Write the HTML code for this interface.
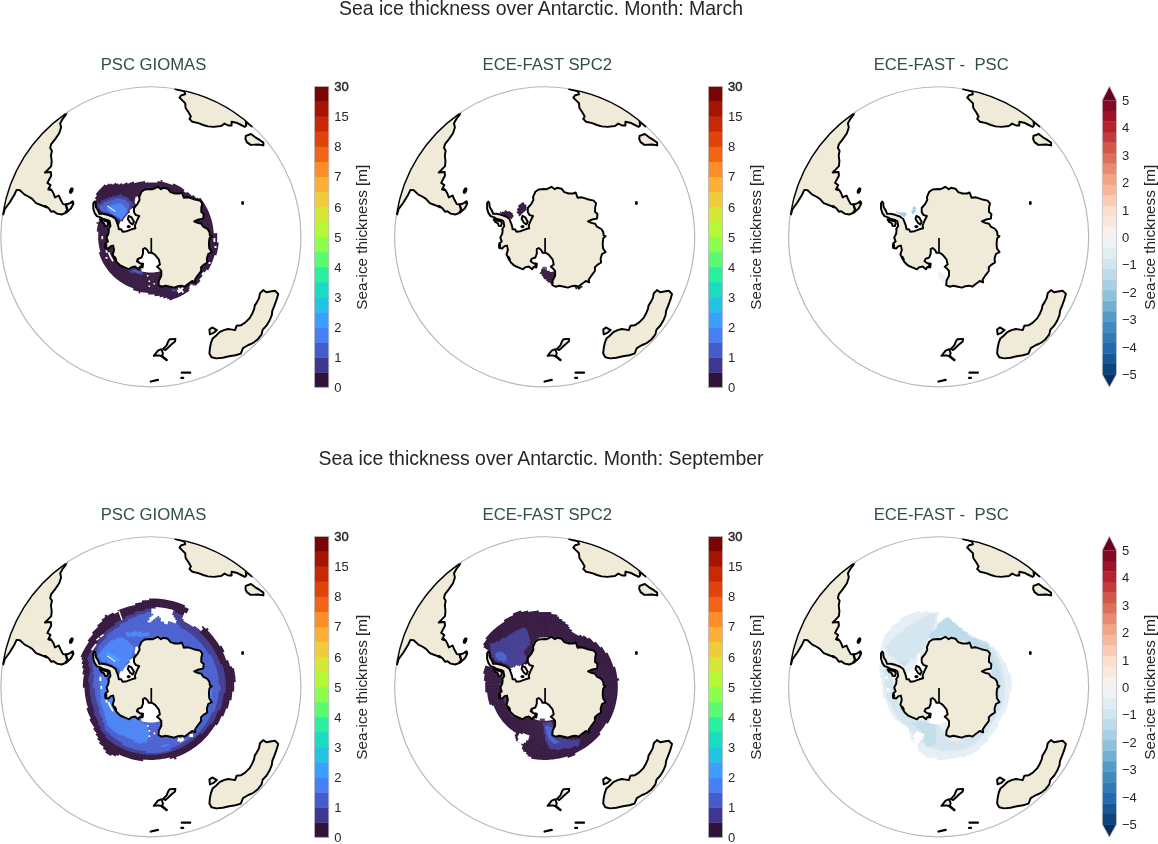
<!DOCTYPE html>
<html><head><meta charset="utf-8"><title>Sea ice thickness</title><style>html,body{margin:0;padding:0;background:#fff}svg{display:block;will-change:transform;transform:translateZ(0)}</style></head><body>
<svg width="1158" height="844" viewBox="0 0 1158 844">
<defs><g id="land" fill="#f0ead8" stroke="#000" stroke-width="1.95" stroke-linejoin="round" stroke-linecap="round"><polygon points="65.9,114.7 62.6,119.0 60.2,123.3 61.1,127.5 59.2,133.2 55.0,139.4 51.2,144.1 50.2,147.9 51.9,150.8 51.0,155.5 51.7,161.2 51.2,166.2 47.9,169.7 45.0,172.5 50.9,172.0 51.2,175.8 49.3,179.2 47.4,182.9 50.5,185.0 48.3,189.4 51.7,190.3 53.6,193.6 55.0,197.4 58.8,195.5 60.7,199.8 63.0,204.1 66.4,204.5 70.1,203.1 72.5,201.2 73.5,203.6 71.1,208.3 66.4,212.6 61.6,214.5 56.9,213.6 53.6,211.2 51.2,211.7 48.3,207.9 44.5,206.4 40.8,205.0 36.0,203.1 32.2,198.9 28.4,196.5 24.6,194.6 19.9,190.3 16.6,189.9 14.2,195.1 9.5,202.7 4.7,209.3 3.3,214.5 -3.0,214.0 -3.0,170.0 10.0,140.0 30.0,118.0 55.0,100.0 68.0,108.0" />
<polygon points="175.2,89.0 184.2,91.4 185.2,94.2 181.4,95.2 179.5,97.5 182.3,100.4 185.2,103.2 185.6,108.0 188.5,112.2 190.9,116.5 189.4,118.9 192.3,121.7 198.4,123.1 203.2,125.0 207.9,126.4 213.6,126.9 221.2,126.0 224.5,123.6 228.3,125.5 231.6,125.5 231.6,121.7 236.4,122.7 240.1,124.5 244.9,126.9 246.3,125.5 245.8,121.7 252.0,126.4 258.0,122.0 240.0,98.0 215.0,82.0 190.0,76.0 172.0,80.0" />
<polygon points="245.8,135.9 251.0,134.0 255.3,137.3 260.0,140.2 263.4,142.6 263.4,145.4 258.2,144.5 250.6,144.9 246.8,142.1 245.4,138.8" />
<polygon points="263.2,290.1 266.4,292.3 271.8,291.2 275.0,290.7 278.2,293.9 276.6,299.7 274.4,305.6 272.3,310.9 271.8,315.2 269.6,320.5 266.4,325.8 262.7,329.6 261.6,334.4 257.9,339.2 253.1,342.9 251.0,344.0 248.3,345.0 243.0,348.2 240.8,353.6 235.5,355.2 229.1,356.2 222.7,357.8 216.3,358.4 211.5,357.3 209.4,353.6 209.9,348.2 211.0,342.9 212.6,338.6 216.3,335.4 219.5,332.2 223.8,330.1 228.0,329.0 232.3,329.6 235.0,330.1 236.6,325.8 240.8,325.3 245.1,322.6 249.4,318.4 252.0,314.1 254.2,308.8 254.7,305.6 256.8,302.4 259.0,298.1 260.0,293.3" />
<polygon points="209.4,329.6 212.1,327.4 216.9,330.1 213.7,332.8 209.9,334.4" />
<polygon points="169.6,339.2 175.4,338.9 175.0,341.6 170.8,345.0 167.7,348.1 165.4,350.0 163.1,348.9 166.6,345.4 168.1,341.6" />
<polygon points="153.8,355.8 157.9,350.6 161.4,349.2 162.9,353.0 162.2,356.2 158.5,355.4" />
<polygon points="94.5,201.6 95.6,203.0 95.6,205.0 96.1,207.5 97.9,210.1 99.4,213.9 102.8,213.7 107.5,214.8 112.2,216.5 115.6,219.0 117.3,223.3 118.3,226.4 118.8,229.3 121.2,229.3 122.6,231.7 126.8,231.2 131.6,229.3 135.4,228.3 134.9,225.5 136.8,220.8 139.2,216.0 135.9,215.1 134.0,212.2 134.0,208.0 137.3,204.2 139.6,199.9 139.2,197.1 141.5,191.8 144.9,189.5 150.5,189.0 153.0,189.2 157.7,186.8 161.0,189.2 163.4,187.8 167.7,188.7 170.5,192.1 174.8,193.5 179.5,193.5 181.9,192.5 183.8,197.7 188.1,197.3 193.7,199.2 199.9,200.6 202.3,203.4 201.3,207.7 201.3,212.0 203.7,213.9 203.2,218.6 198.5,219.5 194.2,221.4 197.5,222.9 201.3,223.8 203.2,226.7 207.5,229.0 209.4,231.9 209.9,235.7 211.8,236.1 209.4,238.5 208.9,243.2 209.2,248.3 211.8,252.1 208.2,254.0 206.8,258.7 207.3,262.5 203.5,264.9 201.1,267.2 201.1,271.0 197.8,275.3 195.0,279.5 195.4,282.4 192.1,281.0 188.3,283.8 184.5,286.7 181.7,285.7 177.9,286.2 174.1,287.6 170.3,286.7 165.6,285.7 161.8,286.7 158.5,285.2 158.9,280.5 161.3,275.8 161.3,271.0 158.9,268.2 157.0,266.8 159.9,264.4 158.9,259.6 155.1,254.9 152.3,253.0 151.3,252.7 148.7,252.7 147.3,249.9 144.9,248.0 143.0,249.0 143.0,253.7 141.6,257.5 137.8,258.9 136.8,261.3 139.7,263.2 143.0,263.6 142.5,267.4 139.7,267.0 138.3,269.3 135.0,266.5 131.2,267.4 129.3,269.3 124.5,267.4 120.3,265.5 116.9,262.2 114.6,258.4 112.7,254.6 114.1,249.9 113.2,245.6 110.8,246.1 108.4,248.5 105.6,248.0 105.6,243.3 107.9,241.4 106.5,237.6 108.4,233.8 108.9,230.0 108.4,229.3 110.5,225.9 109.6,221.2 107.1,219.9 102.4,218.6 100.3,217.3 96.8,216.1 94.7,213.1 93.3,208.8 93.3,203.3" />
<polygon points="128.7,216.0 131.6,217.4 134.0,221.7 132.5,224.5 130.2,222.7 127.8,218.9" />
<polygon points="99.8,219.3 101.1,221.6 104.1,223.3 104.9,225.9 107.1,226.1 108.1,223.7 107.1,221.2 104.5,220.8 102.0,219.9" />
<polyline points="65.8,204.4 66.6,207.5 67.6,210.3" fill="none" stroke-width="2.3"/>
<polyline points="151.3,238.0 151.3,252.7" fill="none" stroke-width="1.7" stroke-linecap="butt"/>
<polyline points="181.8,372.7 190.2,372.7" fill="none" stroke-width="2.3" stroke-linecap="round"/>
<polyline points="181.4,377.9 183.2,377.9" fill="none" stroke-width="2.3" stroke-linecap="round"/>
<polyline points="150.8,381.5 157.9,379.9" fill="none" stroke-width="2.3" stroke-linecap="round"/>
<ellipse cx="242.6" cy="203.1" rx="1.5" ry="2" fill="#000" stroke="none"/>
<ellipse cx="128.7" cy="226.6" rx="2.0" ry="1.7" transform="rotate(0 128.7 226.6)" fill="#000" stroke="none"/>
<ellipse cx="105.8" cy="245.8" rx="1.6" ry="2.7" transform="rotate(0 105.8 245.8)" fill="#000" stroke="none"/>
<ellipse cx="115.4" cy="258.2" rx="1.2" ry="2.6" transform="rotate(-28 115.4 258.2)" fill="#000" stroke="none"/>
<ellipse cx="141.9" cy="265.4" rx="1.5" ry="2.7" transform="rotate(0 141.9 265.4)" fill="#000" stroke="none"/>
<ellipse cx="50.0" cy="189.3" rx="1.6" ry="1.3" transform="rotate(0 50.0 189.3)" fill="#000" stroke="none"/>
<ellipse cx="45.7" cy="206.6" rx="2.2" ry="1.5" transform="rotate(20 45.7 206.6)" fill="#000" stroke="none"/>
<ellipse cx="72.6" cy="202.6" rx="1.4" ry="1.7" transform="rotate(20 72.6 202.6)" fill="#000" stroke="none"/>
<ellipse cx="71.3" cy="190.6" rx="2.0" ry="3.4" transform="rotate(22 71.3 190.6)" fill="#000" stroke="none"/>
<ellipse cx="66.3" cy="211.6" rx="1.8" ry="1.2" transform="rotate(-35 66.3 211.6)" fill="#000" stroke="none"/>
<polyline points="162.0,356.3 166.6,359.9" fill="none" stroke-width="2.6"/></g><g id="mesh" fill="none" stroke="#fff" stroke-width="0.45" stroke-opacity="0.13"><circle cx="150.9" cy="236.8" r="32.30"/><circle cx="150.9" cy="236.8" r="34.00"/><circle cx="150.9" cy="236.8" r="35.70"/><circle cx="150.9" cy="236.8" r="37.40"/><circle cx="150.9" cy="236.8" r="39.10"/><circle cx="150.9" cy="236.8" r="40.80"/><circle cx="150.9" cy="236.8" r="42.50"/><circle cx="150.9" cy="236.8" r="44.20"/><circle cx="150.9" cy="236.8" r="45.90"/><circle cx="150.9" cy="236.8" r="47.60"/><circle cx="150.9" cy="236.8" r="49.30"/><circle cx="150.9" cy="236.8" r="51.00"/><circle cx="150.9" cy="236.8" r="52.70"/><circle cx="150.9" cy="236.8" r="54.40"/><circle cx="150.9" cy="236.8" r="56.10"/><circle cx="150.9" cy="236.8" r="57.80"/><circle cx="150.9" cy="236.8" r="59.50"/><circle cx="150.9" cy="236.8" r="61.20"/><circle cx="150.9" cy="236.8" r="62.90"/><circle cx="150.9" cy="236.8" r="64.60"/><circle cx="150.9" cy="236.8" r="66.30"/><circle cx="150.9" cy="236.8" r="68.00"/><circle cx="150.9" cy="236.8" r="69.70"/><circle cx="150.9" cy="236.8" r="71.40"/><circle cx="150.9" cy="236.8" r="73.10"/><circle cx="150.9" cy="236.8" r="74.80"/><circle cx="150.9" cy="236.8" r="76.50"/><circle cx="150.9" cy="236.8" r="78.20"/><circle cx="150.9" cy="236.8" r="79.90"/><circle cx="150.9" cy="236.8" r="81.60"/><circle cx="150.9" cy="236.8" r="83.30"/><circle cx="150.9" cy="236.8" r="85.00"/><circle cx="150.9" cy="236.8" r="86.70"/><circle cx="150.9" cy="236.8" r="88.40"/><circle cx="150.9" cy="236.8" r="90.10"/><circle cx="150.9" cy="236.8" r="91.80"/><circle cx="150.9" cy="236.8" r="93.50"/><circle cx="150.9" cy="236.8" r="95.20"/><circle cx="150.9" cy="236.8" r="96.90"/><circle cx="150.9" cy="236.8" r="98.60"/><path d="M182.9,236.8L250.9,236.8M182.9,237.7L250.9,239.6M182.9,238.6L250.7,242.4M182.8,239.5L250.5,245.2M182.7,240.4L250.3,247.9M182.6,241.3L249.9,250.7M182.5,242.1L249.5,253.5M182.3,243.0L249.0,256.2M182.1,243.9L248.4,259.0M181.9,244.8L247.8,261.7M181.7,245.6L247.0,264.4M181.4,246.5L246.2,267.0M181.1,247.3L245.3,269.7M180.8,248.2L244.4,272.3M180.5,249.0L243.4,274.9M180.1,249.8L242.3,277.5M179.8,250.6L241.1,280.0M179.4,251.4L239.8,282.5M178.9,252.2L238.5,285.0M178.5,253.0L237.2,287.4M178.0,253.8L235.7,289.8M177.6,254.5L234.2,292.1M177.0,255.2L232.6,294.4M176.5,256.0L231.0,296.7M176.0,256.7L229.3,298.9M175.4,257.4L227.5,301.1M174.8,258.0L225.7,303.2M174.2,258.7L223.8,305.3M173.6,259.3L221.9,307.3M173.0,260.0L219.9,309.2M172.3,260.6L217.8,311.1M171.6,261.2L215.7,313.0M171.0,261.7L213.6,314.7M170.2,262.3L211.4,316.5M169.5,262.8L209.1,318.1M168.8,263.3L206.8,319.7M168.0,263.8L204.5,321.2M167.3,264.3L202.1,322.7M166.5,264.7L199.7,324.1M165.7,265.2L197.2,325.4M164.9,265.6L194.7,326.7M164.1,265.9L192.2,327.9M163.3,266.3L189.7,329.0M162.5,266.6L187.1,330.0M161.6,266.9L184.4,331.0M160.8,267.2L181.8,331.9M159.9,267.5L179.1,332.7M159.1,267.7L176.4,333.5M158.2,268.0L173.7,334.2M157.3,268.1L171.0,334.8M156.5,268.3L168.3,335.3M155.6,268.5L165.5,335.7M154.7,268.6L162.7,336.1M153.8,268.7L160.0,336.4M152.9,268.7L157.2,336.6M152.0,268.8L154.4,336.7M151.1,268.8L151.6,336.8M150.2,268.8L148.8,336.8M149.3,268.8L146.0,336.7M148.4,268.7L143.2,336.5M147.6,268.6L140.4,336.3M146.7,268.5L137.7,335.9M145.8,268.4L134.9,335.5M144.9,268.2L132.2,335.0M144.0,268.1L129.4,334.5M143.2,267.8L126.7,333.8M142.3,267.6L124.0,333.1M141.4,267.4L121.3,332.3M140.6,267.1L118.7,331.5M139.7,266.8L116.0,330.5M138.9,266.5L113.4,329.5M138.1,266.1L110.9,328.4M137.3,265.8L108.3,327.3M136.5,265.4L105.8,326.1M135.7,264.9L103.3,324.8M134.9,264.5L100.9,323.4M134.1,264.1L98.5,322.0M133.4,263.6L96.1,320.5M132.6,263.1L93.8,318.9M131.9,262.6L91.6,317.3M131.2,262.0L89.3,315.6M130.5,261.5L87.2,313.9M129.8,260.9L85.0,312.0M129.2,260.3L83.0,310.2M128.5,259.7L80.9,308.2M127.9,259.0L79.0,306.3M127.3,258.4L77.1,304.2M126.7,257.7L75.2,302.1M126.1,257.0L73.4,300.0M125.5,256.3L71.7,297.8M125.0,255.6L70.0,295.6M124.5,254.9L68.4,293.3M124.0,254.1L66.8,291.0M123.5,253.4L65.4,288.6M123.1,252.6L64.0,286.2M122.6,251.8L62.6,283.7M122.2,251.0L61.3,281.3M121.9,250.2L60.1,278.7M121.5,249.4L59.0,276.2M121.1,248.6L57.9,273.6M120.8,247.7L56.9,271.0M120.5,246.9L56.0,268.4M120.3,246.0L55.2,265.7M120.0,245.2L54.4,263.0M119.8,244.3L53.7,260.3M119.6,243.5L53.1,257.6M119.4,242.6L52.5,254.9M119.3,241.7L52.1,252.1M119.2,240.8L51.7,249.3M119.1,239.9L51.4,246.6M119.0,239.0L51.1,243.8M118.9,238.1L51.0,241.0M118.9,237.2L50.9,238.2M118.9,236.4L50.9,235.4M118.9,235.5L51.0,232.6M119.0,234.6L51.1,229.8M119.1,233.7L51.4,227.0M119.2,232.8L51.7,224.3M119.3,231.9L52.1,221.5M119.4,231.0L52.5,218.7M119.6,230.1L53.1,216.0M119.8,229.3L53.7,213.3M120.0,228.4L54.4,210.6M120.3,227.6L55.2,207.9M120.5,226.7L56.0,205.2M120.8,225.9L56.9,202.6M121.1,225.0L57.9,200.0M121.5,224.2L59.0,197.4M121.9,223.4L60.1,194.9M122.2,222.6L61.3,192.3M122.6,221.8L62.6,189.9M123.1,221.0L64.0,187.4M123.5,220.2L65.4,185.0M124.0,219.5L66.8,182.6M124.5,218.7L68.4,180.3M125.0,218.0L70.0,178.0M125.5,217.3L71.7,175.8M126.1,216.6L73.4,173.6M126.7,215.9L75.2,171.5M127.3,215.2L77.1,169.4M127.9,214.6L79.0,167.3M128.5,213.9L80.9,165.4M129.2,213.3L83.0,163.4M129.8,212.7L85.0,161.6M130.5,212.1L87.2,159.7M131.2,211.6L89.3,158.0M131.9,211.0L91.6,156.3M132.6,210.5L93.8,154.7M133.4,210.0L96.1,153.1M134.1,209.5L98.5,151.6M134.9,209.1L100.9,150.2M135.7,208.7L103.3,148.8M136.5,208.2L105.8,147.5M137.3,207.8L108.3,146.3M138.1,207.5L110.9,145.2M138.9,207.1L113.4,144.1M139.7,206.8L116.0,143.1M140.6,206.5L118.7,142.1M141.4,206.2L121.3,141.3M142.3,206.0L124.0,140.5M143.2,205.8L126.7,139.8M144.0,205.5L129.4,139.1M144.9,205.4L132.2,138.6M145.8,205.2L134.9,138.1M146.7,205.1L137.7,137.7M147.6,205.0L140.4,137.3M148.4,204.9L143.2,137.1M149.3,204.8L146.0,136.9M150.2,204.8L148.8,136.8M151.1,204.8L151.6,136.8M152.0,204.8L154.4,136.9M152.9,204.9L157.2,137.0M153.8,204.9L160.0,137.2M154.7,205.0L162.7,137.5M155.6,205.1L165.5,137.9M156.5,205.3L168.3,138.3M157.3,205.5L171.0,138.8M158.2,205.6L173.7,139.4M159.1,205.9L176.4,140.1M159.9,206.1L179.1,140.9M160.8,206.4L181.8,141.7M161.6,206.7L184.4,142.6M162.5,207.0L187.1,143.6M163.3,207.3L189.7,144.6M164.1,207.7L192.2,145.7M164.9,208.0L194.7,146.9M165.7,208.4L197.2,148.2M166.5,208.9L199.7,149.5M167.3,209.3L202.1,150.9M168.0,209.8L204.5,152.4M168.8,210.3L206.8,153.9M169.5,210.8L209.1,155.5M170.2,211.3L211.4,157.1M171.0,211.9L213.6,158.9M171.6,212.4L215.7,160.6M172.3,213.0L217.8,162.5M173.0,213.6L219.9,164.4M173.6,214.3L221.9,166.3M174.2,214.9L223.8,168.3M174.8,215.6L225.7,170.4M175.4,216.2L227.5,172.5M176.0,216.9L229.3,174.7M176.5,217.6L231.0,176.9M177.0,218.4L232.6,179.2M177.6,219.1L234.2,181.5M178.0,219.8L235.7,183.8M178.5,220.6L237.2,186.2M178.9,221.4L238.5,188.6M179.4,222.2L239.8,191.1M179.8,223.0L241.1,193.6M180.1,223.8L242.3,196.1M180.5,224.6L243.4,198.7M180.8,225.4L244.4,201.3M181.1,226.3L245.3,203.9M181.4,227.1L246.2,206.6M181.7,228.0L247.0,209.2M181.9,228.8L247.8,211.9M182.1,229.7L248.4,214.6M182.3,230.6L249.0,217.4M182.5,231.5L249.5,220.1M182.6,232.3L249.9,222.9M182.7,233.2L250.3,225.7M182.8,234.1L250.5,228.4M182.9,235.0L250.7,231.2M182.9,235.9L250.9,234.0"/></g><clipPath id="cc"><circle cx="150.9" cy="236.8" r="150.05"/></clipPath></defs>
<rect width="1158" height="844" fill="#fff"/>
<text x="541" y="14.6" text-anchor="middle" font-family="Liberation Sans, sans-serif" font-size="19.44" fill="#262626">Sea ice thickness over Antarctic. Month: March</text>
<g transform="translate(0,0)">
<text x="153.5" y="69.8" text-anchor="middle" font-family="Liberation Sans, sans-serif" font-size="16.7" fill="#2f4f4f" xml:space="preserve">PSC GIOMAS</text>
<g clip-path="url(#cc)">
<path d="M99.4,189.8 99.4,189.8 98.1,191.2 98.1,191.2 98.1,191.2 98.1,191.3 98.1,191.3 96.9,192.7 96.9,192.7 96.9,192.7 96.9,192.7 96.9,192.7 95.7,194.3 97.0,195.3 97.0,195.3 97.0,195.3 95.9,196.8 95.9,196.8 95.9,196.8 95.9,196.8 95.9,196.8 94.8,198.4 96.2,199.3 96.2,199.3 95.2,200.9 95.2,200.9 95.2,200.9 95.1,200.9 95.1,200.9 94.2,202.5 95.6,203.3 95.6,203.3 94.7,204.9 94.7,204.9 94.7,204.9 94.7,204.9 94.7,204.9 93.8,206.5 95.3,207.3 95.3,207.3 94.5,208.8 96.1,209.6 95.3,211.1 96.9,211.8 96.2,213.4 97.8,214.0 99.3,214.7 99.3,214.7 98.7,216.2 100.3,216.8 99.8,218.2 101.4,218.8 100.9,220.1 100.9,220.1 100.9,220.2 100.9,220.2 100.9,220.2 100.4,221.6 98.8,221.1 98.4,222.5 96.7,222.1 96.4,223.6 98.0,224.0 97.7,225.5 97.7,225.5 97.7,225.5 97.7,225.5 97.7,225.5 97.4,227.0 97.4,227.0 97.4,227.0 97.4,227.0 97.4,227.0 97.1,228.5 97.1,228.5 97.1,228.5 97.1,228.5 97.1,228.5 96.9,230.0 96.9,230.0 96.9,230.0 96.9,230.0 96.9,230.0 96.7,231.5 98.4,231.7 98.4,231.7 98.3,233.1 98.3,233.1 98.3,233.1 98.3,233.1 98.3,233.1 98.2,234.6 98.2,234.6 98.2,234.6 98.2,234.6 98.2,234.6 98.2,236.1 98.2,236.1 98.2,236.1 98.2,236.1 98.2,236.1 98.2,237.5 98.2,237.5 98.2,237.5 98.2,237.5 98.2,237.5 98.2,239.0 98.2,239.0 98.2,239.0 98.2,239.0 98.2,239.0 98.3,240.5 98.3,240.5 98.3,240.5 98.3,240.5 98.3,240.5 98.4,241.9 98.4,241.9 98.4,241.9 98.4,242.0 98.4,242.0 98.6,243.4 98.6,243.4 98.6,243.4 98.6,243.4 98.6,243.4 98.8,244.9 98.8,244.9 98.8,244.9 98.8,244.9 98.8,244.9 99.0,246.3 99.0,246.3 99.0,246.3 99.0,246.3 99.0,246.3 99.3,247.8 99.3,247.8 99.3,247.8 99.3,247.8 99.3,247.8 99.7,249.2 99.7,249.2 99.7,249.2 99.7,249.2 99.7,249.2 100.0,250.6 100.0,250.6 100.0,250.6 100.0,250.6 100.0,250.6 100.4,252.0 100.4,252.0 98.8,252.5 99.3,254.0 99.3,254.0 99.3,254.0 99.3,254.0 99.3,254.0 99.8,255.4 99.8,255.4 99.8,255.4 99.8,255.4 99.8,255.4 100.3,256.8 100.3,256.8 100.3,256.8 100.3,256.8 100.3,256.8 100.9,258.2 100.9,258.2 100.9,258.2 100.9,258.2 100.9,258.2 101.5,259.6 101.5,259.6 101.5,259.6 101.5,259.6 101.5,259.6 102.2,261.0 102.2,261.0 102.2,261.0 102.2,261.0 102.2,261.0 102.8,262.3 102.8,262.3 102.9,262.3 102.9,262.4 102.9,262.4 103.6,263.7 103.6,263.7 103.6,263.7 103.6,263.7 103.6,263.7 104.3,265.0 104.3,265.0 104.4,265.0 104.4,265.0 104.4,265.0 105.2,266.3 105.2,266.3 105.2,266.3 105.2,266.3 105.2,266.3 106.0,267.5 106.0,267.5 106.0,267.5 106.0,267.6 106.0,267.6 106.9,268.8 106.9,268.8 106.9,268.8 106.9,268.8 106.9,268.8 107.8,270.0 107.8,270.0 107.8,270.0 107.8,270.0 107.8,270.0 108.7,271.2 108.7,271.2 108.7,271.2 108.7,271.2 108.7,271.2 109.7,272.4 109.7,272.4 109.7,272.4 109.7,272.4 109.7,272.4 110.7,273.5 110.7,273.5 110.7,273.5 110.7,273.5 110.7,273.5 111.7,274.6 111.7,274.6 111.8,274.6 111.8,274.6 111.8,274.6 112.8,275.7 112.8,275.7 112.8,275.7 112.8,275.7 112.8,275.7 113.9,276.7 113.9,276.7 113.9,276.7 113.9,276.7 113.9,276.7 115.0,277.7 115.0,277.7 115.1,277.7 115.1,277.8 115.1,277.8 116.2,278.7 116.2,278.7 116.2,278.7 116.2,278.7 116.2,278.7 117.4,279.7 117.4,279.7 117.4,279.7 117.4,279.7 117.4,279.7 118.6,280.6 118.6,280.6 118.6,280.6 118.6,280.6 118.6,280.6 119.8,281.5 119.8,281.5 119.8,281.5 119.9,281.5 119.9,281.5 121.1,282.3 121.1,282.3 121.1,282.3 121.1,282.3 121.1,282.3 122.4,283.1 122.4,283.1 122.4,283.2 122.4,283.2 122.4,283.2 123.7,283.9 123.7,283.9 123.7,283.9 123.7,283.9 123.7,283.9 125.0,284.7 125.0,284.7 125.0,284.7 125.0,284.7 125.0,284.7 126.4,285.4 126.4,285.4 126.4,285.4 126.4,285.4 126.4,285.4 127.7,286.0 127.7,286.0 127.7,286.0 127.7,286.0 127.7,286.0 129.1,286.7 129.1,286.7 129.1,286.7 129.1,286.7 129.1,286.7 130.5,287.3 130.5,287.3 130.5,287.3 130.5,287.3 130.5,287.3 131.9,287.8 131.9,287.8 131.9,287.8 131.9,287.8 131.9,287.8 133.4,288.3 133.4,288.3 132.8,289.9 134.3,290.4 134.3,290.4 134.3,290.4 134.3,290.4 134.3,290.4 135.8,290.8 135.8,290.8 135.8,290.9 135.8,290.9 135.8,290.9 137.3,291.2 137.3,291.3 137.3,291.3 137.3,291.3 137.3,291.3 138.8,291.6 138.8,291.6 138.5,293.3 140.1,293.6 140.4,291.9 140.4,291.9 140.4,291.9 141.9,292.2 141.9,292.2 141.9,292.2 141.9,292.2 141.9,292.2 143.5,292.4 143.5,292.4 143.5,292.4 143.5,292.4 143.5,292.4 145.0,292.6 145.0,292.6 145.0,292.6 145.0,292.6 145.0,292.6 146.6,292.8 146.6,292.8 146.6,292.8 146.6,292.8 146.6,292.8 148.1,292.9 148.1,292.9 148.1,292.9 148.1,294.6 149.7,294.6 149.7,294.6 149.7,294.6 149.7,294.6 149.7,294.6 151.3,294.6 151.3,294.6 151.3,294.6 151.3,294.6 151.3,294.6 152.9,294.6 152.9,294.6 152.9,294.6 152.9,294.6 152.9,294.6 154.5,294.5 154.5,294.5 154.5,294.5 154.6,296.2 156.3,296.1 156.3,296.1 156.3,296.1 156.3,296.1 156.3,296.1 157.9,295.9 157.9,295.9 157.9,295.9 158.0,295.9 158.0,295.9 159.6,295.7 159.6,295.7 159.8,297.4 161.5,297.1 161.5,297.1 161.5,297.1 161.5,297.1 161.5,297.1 163.2,296.8 163.2,296.8 163.5,298.4 165.3,298.1 165.3,298.1 165.3,298.1 165.3,298.1 165.3,298.1 167.0,297.6 167.4,299.3 169.1,298.8 169.6,300.4 171.4,299.9 171.4,299.9 171.4,299.9 171.4,299.9 171.4,299.9 173.1,299.3 173.1,299.3 173.1,299.3 173.2,299.3 173.2,299.3 174.9,298.6 174.9,298.6 174.9,298.6 174.9,298.6 174.9,298.6 176.6,297.9 176.6,297.9 176.6,297.9 176.6,297.9 176.6,297.9 178.3,297.2 178.3,297.2 178.3,297.2 178.3,297.2 178.3,297.2 180.0,296.4 180.0,296.4 180.0,296.4 180.0,296.4 180.0,296.4 181.6,295.6 181.6,295.6 181.6,295.6 181.6,295.6 181.6,295.6 183.2,294.7 183.2,294.7 183.3,294.7 183.3,294.7 183.3,294.7 184.8,293.8 184.8,293.8 184.9,293.8 184.9,293.8 184.9,293.8 186.4,292.8 186.4,292.8 186.4,292.8 186.4,292.8 186.4,292.8 188.0,291.8 188.0,291.8 188.0,291.8 188.0,291.8 188.0,291.8 189.5,290.7 188.5,289.3 188.5,289.3 188.5,289.3 190.0,288.3 189.0,286.9 189.0,286.9 190.3,285.8 190.3,285.8 190.3,285.8 190.3,285.8 190.3,285.8 191.7,284.7 191.7,284.7 191.7,284.7 192.8,286.0 194.1,284.8 194.1,284.8 195.3,286.1 196.6,284.8 196.6,284.8 196.6,284.8 196.6,284.8 196.6,284.8 197.9,283.5 197.9,283.5 198.0,283.5 198.0,283.5 198.0,283.5 199.2,282.2 199.2,282.2 199.2,282.2 199.3,282.2 199.3,282.2 200.5,280.8 199.2,279.7 200.4,278.3 200.4,278.3 200.4,278.3 200.4,278.3 200.4,278.3 201.5,276.9 201.5,276.9 201.5,276.9 201.6,276.9 201.6,276.9 202.7,275.5 201.3,274.5 202.3,273.1 202.3,273.1 202.3,273.1 202.3,273.1 202.3,273.1 203.3,271.6 204.7,272.6 205.7,271.1 205.7,271.1 205.7,271.0 205.7,271.0 205.7,271.0 206.6,269.5 206.6,269.5 208.1,270.4 209.0,268.8 209.0,268.8 209.0,268.7 209.0,268.7 209.0,268.7 209.9,267.1 209.9,267.1 209.9,267.1 209.9,267.1 209.9,267.1 210.7,265.5 210.7,265.5 210.7,265.5 210.7,265.4 210.7,265.4 211.5,263.8 211.5,263.8 211.5,263.8 211.5,263.8 211.5,263.8 212.2,262.1 212.2,262.1 212.2,262.1 212.2,262.1 212.2,262.1 212.9,260.4 212.9,260.4 212.9,260.4 212.9,260.3 212.9,260.3 213.5,258.6 213.5,258.6 213.5,258.6 213.5,258.6 213.5,258.6 214.1,256.9 214.1,256.9 214.1,256.9 214.1,256.8 214.1,256.8 214.6,255.1 216.3,255.6 216.8,253.7 216.8,253.7 216.8,253.7 216.8,253.7 216.8,253.7 217.2,251.9 217.2,251.9 217.2,251.9 217.2,251.9 217.2,251.9 217.6,250.0 217.6,250.0 217.6,250.0 217.6,250.0 217.6,250.0 218.0,248.2 218.0,248.2 218.0,248.1 218.0,248.1 218.0,248.1 218.3,246.3 218.3,246.3 218.3,246.3 218.3,246.3 218.3,246.3 218.5,244.4 218.5,244.4 218.5,244.4 218.5,244.4 218.5,244.4 218.7,242.5 217.0,242.3 217.1,240.5 217.1,240.5 217.1,240.5 217.1,240.5 217.1,240.5 217.2,238.7 217.2,238.7 217.2,238.7 217.2,238.6 217.2,238.6 217.2,236.8 217.2,236.8 217.2,236.8 217.2,236.8 217.2,236.8 217.2,235.0 217.2,235.0 217.2,234.9 217.2,234.9 217.2,234.9 217.1,233.1 215.4,233.2 213.7,233.3 213.6,231.5 213.6,231.5 213.6,231.5 213.6,231.5 213.6,231.5 213.4,229.8 213.4,229.8 213.4,229.8 213.4,229.8 213.4,229.8 213.2,228.1 213.2,228.1 213.2,228.0 213.2,228.0 213.2,228.0 212.9,226.3 212.9,226.3 212.9,226.3 212.9,226.3 212.9,226.3 212.6,224.6 212.6,224.6 212.6,224.6 212.6,224.6 212.6,224.6 212.3,222.9 212.3,222.9 212.3,222.9 212.3,222.8 212.3,222.8 211.8,221.2 211.8,221.2 211.8,221.2 211.8,221.1 211.8,221.1 211.4,219.5 211.4,219.5 211.4,219.5 211.4,219.4 211.4,219.4 210.9,217.8 210.9,217.8 210.9,217.8 210.9,217.8 210.9,217.8 210.3,216.1 210.3,216.1 210.3,216.1 210.3,216.1 210.3,216.1 209.7,214.5 209.7,214.5 209.7,214.5 209.7,214.4 209.7,214.4 209.1,212.8 209.1,212.8 209.1,212.8 209.1,212.8 209.1,212.8 208.4,211.2 208.4,211.2 208.4,211.2 208.4,211.2 208.4,211.2 207.6,209.6 207.6,209.6 207.6,209.6 207.6,209.6 207.6,209.6 206.9,208.1 206.9,208.1 206.9,208.0 206.9,208.0 206.9,208.0 206.0,206.5 206.0,206.5 206.0,206.5 206.0,206.5 206.0,206.5 205.2,205.0 205.2,205.0 205.2,205.0 205.2,204.9 205.2,204.9 204.3,203.5 204.3,203.5 204.3,203.5 204.3,203.4 204.3,203.4 203.3,202.0 203.3,202.0 203.3,202.0 203.3,202.0 203.3,202.0 202.3,200.5 202.3,200.5 202.3,200.5 202.3,200.5 202.3,200.5 201.3,199.1 201.3,199.1 201.3,199.1 201.3,199.1 201.3,199.1 200.2,197.7 198.9,198.8 198.9,198.8 197.8,197.4 196.5,198.5 195.4,197.3 195.4,197.3 195.4,197.3 195.4,197.3 195.4,197.3 194.3,196.1 194.3,196.1 194.3,196.1 194.3,196.0 194.3,196.0 193.1,194.9 191.9,196.0 191.9,196.0 191.9,196.1 190.8,194.9 190.8,194.9 190.8,194.9 190.8,194.9 190.8,194.9 189.6,193.8 189.6,193.8 189.6,193.8 189.6,193.8 189.6,193.8 188.4,192.8 188.4,192.8 188.4,192.8 188.4,192.8 188.4,192.8 187.1,191.7 186.1,193.1 186.1,193.1 184.8,192.1 184.8,192.1 184.8,192.1 184.8,192.1 184.8,192.1 183.6,191.2 183.6,191.2 184.6,189.8 183.2,188.9 183.2,188.9 183.2,188.9 183.2,188.9 183.2,188.9 181.9,188.0 181.9,188.0 181.9,188.0 181.9,188.0 181.9,188.0 180.5,187.1 180.5,187.1 180.5,187.1 180.5,187.1 180.5,187.1 179.1,186.3 179.1,186.3 179.1,186.3 179.1,186.3 179.1,186.3 177.7,185.6 177.7,185.6 177.7,185.6 177.7,185.6 177.7,185.6 176.3,184.8 176.3,184.8 176.2,184.8 176.2,184.8 176.2,184.8 174.8,184.1 174.8,184.1 174.8,184.1 174.8,184.1 174.8,184.1 173.3,183.5 172.6,185.1 171.2,184.5 171.2,184.5 171.2,184.5 171.2,184.5 171.2,184.5 169.7,183.9 169.7,183.9 169.7,183.9 169.7,183.9 169.7,183.9 168.3,183.4 168.3,183.4 168.2,183.4 168.2,183.4 168.2,183.4 166.8,183.0 166.8,183.0 166.7,183.0 166.7,183.0 166.7,183.0 165.2,182.5 165.2,182.5 165.2,182.5 165.2,182.5 165.2,182.5 163.7,182.2 163.7,182.2 163.7,182.2 163.7,182.2 163.7,182.2 162.2,181.8 162.5,180.2 160.9,179.9 160.6,181.5 160.6,181.5 159.1,181.3 159.1,181.3 159.1,181.3 159.1,181.3 159.1,181.3 157.5,181.1 157.3,182.8 155.8,182.6 155.8,182.6 155.8,182.6 155.8,182.6 155.8,182.6 154.3,182.5 154.3,182.5 154.3,182.5 154.3,182.5 154.3,182.5 152.8,182.4 152.8,182.4 152.8,182.4 152.8,182.4 152.8,182.4 151.3,182.4 151.3,182.4 151.3,182.4 151.3,182.4 151.3,182.4 149.8,182.4 149.8,182.4 149.8,182.4 149.7,182.4 149.7,182.4 148.3,182.4 148.3,182.4 148.2,182.4 148.2,182.4 148.2,182.4 146.7,182.5 146.7,182.5 146.7,182.5 146.7,182.5 146.7,182.5 145.2,182.7 145.0,181.0 143.5,181.2 143.5,181.2 143.5,181.2 143.5,181.2 143.5,181.2 141.9,181.4 141.9,181.4 141.9,181.4 141.9,181.4 141.9,181.4 140.4,181.7 140.4,181.7 140.4,181.7 140.4,181.7 140.4,181.7 138.9,182.0 138.9,182.0 138.8,182.0 138.8,182.0 138.8,182.0 137.3,182.3 137.3,182.3 137.3,182.3 137.3,182.3 137.3,182.4 135.8,182.7 135.8,182.7 135.8,182.7 135.8,182.8 135.8,182.8 134.3,183.2 134.3,183.2 134.3,183.2 133.8,181.6 132.3,182.1 132.3,182.1 132.3,182.1 132.3,182.1 132.3,182.1 130.8,182.6 130.8,182.6 130.7,182.6 130.7,182.6 130.7,182.6 129.3,183.2 129.3,183.2 129.2,183.2 129.2,183.2 129.2,183.2 127.8,183.8 127.1,182.3 125.6,182.9 125.6,182.9 125.6,182.9 125.5,182.9 125.5,183.0 124.1,183.7 124.1,183.7 124.1,183.7 124.1,183.7 124.1,183.7 122.6,184.4 122.6,184.4 121.8,182.9 120.3,183.8 120.3,183.8 120.3,183.8 120.3,183.8 120.3,183.8 118.8,184.7 118.8,184.7 117.9,183.2 116.5,184.1 116.5,184.1 115.5,182.7 114.0,183.7 114.0,183.7 114.0,183.7 114.0,183.7 114.0,183.7 112.6,184.8 112.6,184.8 111.6,183.4 110.1,184.5 109.0,183.2 107.6,184.4 107.6,184.4 107.5,184.4 107.5,184.4 107.5,184.4 106.1,185.6 105.0,184.3 103.5,185.6 103.5,185.6 103.5,185.6 103.5,185.7 103.5,185.7 102.1,187.0 102.1,187.0 102.1,187.0 102.1,187.0 102.1,187.0 100.8,188.4 100.8,188.4 100.7,188.4 100.7,188.4 100.7,188.4 99.4,189.8 99.4,189.8 99.4,189.8Z" fill="#30123b" fill-rule="evenodd"/>
<path d="M104.8,199.2 104.8,199.2 104.8,199.2 104.8,199.2 103.8,200.5 103.8,200.5 102.4,199.4 101.4,200.8 101.4,200.8 101.4,200.8 101.4,200.8 101.4,200.8 100.4,202.2 100.4,202.2 100.4,202.2 100.4,202.2 100.4,202.2 99.4,203.6 99.4,203.6 98.0,202.7 97.1,204.2 97.1,204.2 97.1,204.2 97.1,204.2 97.1,204.2 96.2,205.7 97.7,206.6 97.7,206.6 96.8,208.1 98.4,208.9 99.9,209.7 101.3,210.5 101.3,210.5 100.6,211.9 102.2,212.6 103.7,213.4 104.4,212.1 105.9,212.9 107.4,213.7 108.8,214.5 110.4,215.3 111.0,214.1 112.5,215.0 113.9,215.8 114.0,215.8 115.4,216.6 116.9,217.5 116.9,217.5 116.9,217.5 116.4,218.4 117.9,219.2 119.4,220.1 120.9,220.9 121.4,220.0 121.8,219.2 123.3,220.1 123.8,219.3 124.3,218.6 124.8,217.8 125.3,217.1 125.9,216.4 126.5,215.7 127.1,215.0 127.7,214.4 128.3,213.7 129.0,213.1 127.8,211.9 128.5,211.2 129.2,210.6 130.0,210.0 130.7,209.4 131.5,208.9 132.3,208.4 131.4,206.9 132.2,206.4 133.1,205.9 133.9,205.4 134.8,204.9 134.0,203.4 133.1,203.9 133.1,203.9 132.3,202.4 131.5,200.9 130.5,201.4 129.7,200.0 128.8,198.5 127.9,197.0 126.8,197.7 126.8,197.7 126.0,196.2 124.8,196.9 124.8,196.9 123.9,195.5 122.8,196.3 122.8,196.3 121.8,194.9 120.8,193.5 119.6,194.4 119.6,194.4 119.6,194.4 119.6,194.4 119.6,194.4 118.5,195.2 118.5,195.2 118.4,195.3 118.4,195.3 118.4,195.3 117.3,196.2 116.2,194.9 115.1,195.8 115.1,195.8 115.1,195.9 115.0,195.9 115.0,195.9 113.9,196.9 112.8,195.6 111.6,196.7 111.6,196.7 111.6,196.7 111.6,196.7 111.6,196.7 110.5,197.8 110.5,197.8 110.5,197.8 109.3,196.6 108.2,197.8 108.2,197.8 108.2,197.8 108.2,197.8 108.2,197.8 107.1,199.0 107.1,199.0 105.9,197.9 104.8,199.2Z" fill="#3e3891" fill-rule="evenodd"/>
<path d="M106.4,202.5 105.1,201.5 104.1,202.8 104.1,202.8 104.1,202.8 104.1,202.8 104.1,202.8 103.2,204.1 103.2,204.1 103.2,204.1 103.2,204.1 103.2,204.1 102.3,205.5 100.9,204.5 100.0,206.0 100.0,206.0 100.0,206.0 100.0,206.0 100.0,206.0 99.1,207.4 100.6,208.3 99.8,209.7 101.3,210.5 102.8,211.3 104.4,212.1 105.9,212.9 106.6,211.6 108.0,212.5 109.5,213.3 111.0,214.1 112.5,215.0 114.0,215.8 115.4,216.6 116.9,217.5 118.4,218.3 119.8,219.2 119.8,219.2 121.4,220.0 121.8,219.2 122.3,218.4 122.9,217.6 123.4,216.8 124.0,216.1 124.6,215.3 125.2,214.6 125.8,213.9 126.5,213.2 127.1,212.5 127.8,211.9 128.5,211.2 127.4,209.9 128.2,209.3 128.9,208.7 129.7,208.1 128.7,206.7 129.6,206.1 130.4,205.5 129.5,204.1 128.6,202.7 127.6,201.2 126.6,201.9 126.6,201.9 125.7,200.5 125.7,200.5 124.7,199.1 123.7,199.8 123.7,199.8 123.7,199.8 122.6,198.5 121.6,199.3 121.6,199.3 121.6,199.3 120.5,197.9 119.5,198.8 118.4,197.5 117.3,198.4 117.3,198.4 117.3,198.4 117.3,198.4 117.3,198.4 116.2,199.4 115.1,198.1 114.0,199.1 114.0,199.1 114.0,199.1 114.0,199.1 114.0,199.1 113.0,200.2 111.8,199.0 110.7,200.1 110.7,200.1 110.7,200.1 110.7,200.1 110.7,200.1 109.7,201.2 108.4,200.1 107.4,201.3 107.4,201.3 107.4,201.3 107.4,201.3 107.4,201.3Z" fill="#455ccf" fill-rule="evenodd"/>
<path d="M110.5,205.7 110.5,205.7 110.5,205.7 110.5,205.7 109.6,206.8 109.6,206.8 109.6,206.8 108.3,205.8 107.4,207.0 107.4,207.0 107.4,207.0 107.4,207.0 107.4,207.0 106.6,208.3 108.0,209.2 108.0,209.2 108.0,209.2 107.3,210.4 108.7,211.3 110.2,212.2 111.7,213.0 113.1,213.9 113.1,213.9 114.5,214.8 116.0,215.7 117.4,216.5 118.9,217.4 120.3,218.3 120.3,218.3 119.8,219.2 121.4,220.0 121.8,219.2 122.3,218.4 122.9,217.6 123.4,216.8 124.0,216.1 124.6,215.3 125.2,214.6 125.8,213.9 126.5,213.2 127.1,212.5 125.9,211.3 126.7,210.6 127.4,209.9 126.3,208.6 125.1,207.4 124.0,206.1 122.9,204.8 122.9,204.8 121.8,203.5 120.9,204.3 119.7,203.1 118.8,204.0 118.8,204.0 118.8,204.0 117.6,202.8 116.7,203.7 116.7,203.7 116.6,203.7 116.6,203.7 116.6,203.7 115.7,204.7 115.7,204.7 114.5,203.5 113.6,204.6 113.6,204.6 113.6,204.6 113.6,204.6 113.6,204.6 112.7,205.6 111.4,204.5 110.5,205.7Z" fill="#4680f6" fill-rule="evenodd"/>
<path d="M130.4,268.1 129.6,267.5 128.6,268.9 127.7,268.3 126.8,267.6 125.8,269.0 126.7,269.7 126.7,269.7 126.7,269.7 126.7,269.7 126.7,269.7 127.6,270.3 127.6,270.3 127.6,270.3 127.6,270.3 127.6,270.3 128.5,271.0 128.5,271.0 128.5,271.0 128.6,271.0 128.6,271.0 129.5,271.6 129.5,271.6 129.5,271.6 129.5,271.6 129.5,271.6 130.5,272.1 130.5,272.1 130.5,272.2 130.5,272.2 130.5,272.2 131.5,272.7 131.5,272.7 131.5,272.7 131.5,272.7 131.5,272.7 132.5,273.2 132.5,273.2 132.5,273.2 132.5,273.2 132.5,273.2 133.5,273.7 134.3,272.2 135.2,272.6 135.2,272.6 135.2,272.6 135.2,272.7 135.2,272.7 136.2,273.1 136.2,273.1 136.2,273.1 136.3,273.1 136.3,273.1 137.3,273.5 137.3,273.5 137.3,273.5 137.3,273.5 137.3,273.5 138.3,273.8 138.3,273.8 138.3,273.8 138.3,273.8 138.3,273.8 139.3,274.2 139.3,274.2 139.3,274.2 139.3,274.2 139.3,274.2 140.4,274.5 140.4,274.5 140.4,274.5 140.4,274.5 140.4,274.5 141.4,274.8 141.4,274.8 141.4,274.8 141.4,274.8 141.4,274.8 142.5,275.0 142.9,273.3 142.9,273.3 143.2,271.6 142.3,271.4 141.3,271.2 140.3,270.9 139.4,270.6 138.5,270.2 137.5,269.9 136.6,269.5 135.7,269.1 134.8,268.6 133.9,268.2 133.1,269.7 132.2,269.2 131.3,268.6Z" fill="#3e3891" fill-rule="evenodd"/>
<polygon points="131.0,269.5 137.0,270.5 141.0,273.5 136.0,272.5" fill="#455ccf"/>
<path d="M172.6,288.5 171.2,289.1 171.8,290.7 172.4,292.3 174.0,291.7 174.0,291.7 174.0,291.7 174.0,291.7 174.0,291.7 175.5,291.0 176.2,292.6 177.7,291.8 177.0,290.3 176.2,288.7 174.8,289.4 174.1,287.9Z" fill="#3e3891" fill-rule="evenodd"/>
<use href="#mesh"/>
<path d="M182.3,289.4 182.3,289.4 183.7,288.5 182.8,287.0 181.4,287.9 179.9,288.7 179.1,287.2 177.7,288.0 178.4,289.5 177.0,290.3 177.7,291.8 177.7,291.8 178.5,293.4 180.0,292.6 180.0,292.6 180.1,292.6 180.1,292.6 180.1,292.6 181.6,291.7 181.6,291.7 181.6,291.7 182.4,293.2 184.0,292.3 183.1,290.8 182.3,289.4Z" fill="#ffffff" fill-rule="evenodd"/>
<path d="M122.8,220.8 122.8,220.8 122.8,220.8 122.8,220.8 122.8,220.8 122.4,221.6 122.4,221.6 120.9,220.8 120.4,221.7 120.4,221.7 120.4,221.7 120.4,221.7 120.4,221.7 120.0,222.5 120.0,222.5 120.0,222.5 120.0,222.5 120.0,222.5 119.6,223.4 119.6,223.4 119.6,223.4 119.6,223.4 119.6,223.4 119.3,224.3 119.3,224.3 119.3,224.3 119.3,224.3 119.3,224.3 118.9,225.2 118.9,225.2 118.9,225.2 118.9,225.2 118.9,225.2 118.6,226.1 118.6,226.1 118.6,226.1 118.6,226.1 118.6,226.1 118.3,227.0 118.3,227.0 118.3,227.0 118.3,227.0 118.3,227.0 118.1,227.9 118.1,227.9 118.1,227.9 118.1,227.9 118.1,227.9 117.8,228.8 119.5,229.2 119.5,229.2 119.3,230.1 120.9,230.4 120.8,231.3 120.8,231.3 120.8,231.3 120.8,231.3 120.8,231.3 120.6,232.1 122.3,232.4 124.0,232.6 125.7,232.9 125.8,232.2 127.5,232.5 127.6,231.9 127.8,231.2 129.4,231.6 129.6,231.0 131.2,231.5 131.4,230.9 133.0,231.4 133.2,230.9 133.3,230.4 134.9,231.0 135.1,230.5 135.3,230.1 135.5,229.7 137.0,230.4 137.2,230.0 137.4,229.6 137.6,229.3 137.8,228.9 138.1,228.5 138.3,228.2 136.9,227.2 137.2,226.8 137.4,226.4 137.7,226.1 138.0,225.7 138.4,225.4 138.7,225.0 139.0,224.7 137.8,223.5 138.2,223.1 138.6,222.7 139.0,222.4 139.4,222.1 138.4,220.7 138.8,220.4 139.3,220.1 139.7,219.7 138.8,218.3 139.3,218.0 139.9,217.7 140.4,217.4 139.6,215.9 139.6,215.8 138.8,214.3 138.0,212.9 138.0,212.9 137.2,211.4 136.4,209.9 135.5,208.4 134.7,206.9 133.9,207.3 133.9,207.3 133.9,207.3 133.9,207.3 133.9,207.3 133.1,207.8 133.1,207.8 133.1,207.8 133.1,207.8 133.1,207.8 132.3,208.3 132.3,208.3 132.3,208.3 132.3,208.3 132.3,208.3 131.5,208.9 131.5,208.9 131.5,208.9 131.5,208.9 131.5,208.9 130.7,209.4 130.7,209.4 130.7,209.4 130.7,209.4 130.7,209.4 130.0,210.0 130.0,210.0 130.0,210.0 129.9,210.0 129.9,210.0 129.2,210.6 130.3,211.9 129.6,212.5 129.6,212.5 129.6,212.5 129.6,212.5 129.6,212.5 128.9,213.1 128.9,213.1 128.9,213.1 128.9,213.1 128.9,213.1 128.3,213.7 128.3,213.7 128.3,213.7 128.3,213.7 128.3,213.7 127.7,214.3 127.7,214.3 127.7,214.3 127.6,214.4 127.6,214.4 127.0,215.0 127.0,215.0 127.0,215.0 127.0,215.0 127.0,215.0 126.4,215.7 126.4,215.7 126.4,215.7 126.4,215.7 126.4,215.7 125.9,216.4 125.9,216.4 125.9,216.4 125.8,216.4 125.8,216.4 125.3,217.1 125.3,217.1 125.3,217.1 125.3,217.1 125.3,217.1 124.8,217.8 124.8,217.8 124.8,217.8 124.7,217.8 124.7,217.8 124.2,218.5 124.2,218.5 124.2,218.5 124.2,218.5 124.2,218.5 123.7,219.3 123.7,219.3 123.7,219.3 123.7,219.3 123.7,219.3 123.3,220.1 123.3,220.1 123.3,220.1 123.3,220.1 123.3,220.1Z" fill="#ffffff" fill-rule="evenodd"/>
<path d="M140.8,250.5 139.8,251.9 140.2,252.2 140.2,252.2 139.2,253.6 138.3,255.0 138.8,255.3 137.9,256.7 138.4,257.1 138.4,257.1 138.4,257.1 138.4,257.1 138.4,257.1 139.0,257.4 139.0,257.4 139.0,257.4 138.1,258.9 138.8,259.2 138.8,259.2 138.8,259.2 138.8,259.3 138.8,259.3 139.4,259.6 138.6,261.1 139.3,261.4 139.3,261.4 139.3,261.4 139.3,261.4 139.3,261.4 140.0,261.7 140.0,261.7 139.3,263.3 140.1,263.6 140.1,263.6 140.1,263.6 140.1,263.6 140.1,263.6 140.8,263.9 140.2,265.5 141.0,265.8 141.0,265.8 141.0,265.8 140.5,267.4 141.3,267.7 140.8,269.3 141.7,269.6 141.7,269.6 141.3,271.2 142.3,271.5 142.3,271.5 142.3,271.5 142.3,271.5 142.3,271.5 143.2,271.7 143.2,271.7 143.2,271.7 143.2,271.7 143.2,271.7 144.2,271.9 144.2,271.9 144.2,271.9 144.2,271.9 144.2,271.9 145.2,272.1 145.2,272.1 145.2,272.1 145.2,272.1 145.2,272.1 146.2,272.2 146.2,272.2 146.2,272.2 146.2,272.2 146.2,272.2 147.2,272.3 147.2,272.3 147.2,272.3 147.2,272.3 147.2,272.3 148.2,272.4 148.2,272.4 148.2,272.4 148.2,272.4 148.2,272.4 149.1,272.5 149.1,272.5 149.2,272.5 149.2,272.5 149.2,272.5 150.1,272.5 150.1,272.5 150.2,272.5 150.2,272.5 150.2,272.5 151.1,272.5 151.1,272.5 151.1,272.5 151.2,272.5 151.2,272.5 152.1,272.5 152.1,272.5 152.1,272.5 152.2,272.5 152.2,272.5 153.1,272.4 153.1,272.4 153.1,272.4 153.2,272.4 153.1,272.4 154.1,272.4 154.1,272.4 154.1,272.4 154.1,272.4 154.1,272.4 155.1,272.3 155.1,272.3 155.1,272.3 155.1,272.3 155.1,272.3 156.1,272.1 156.1,272.1 156.1,272.1 156.1,272.1 156.1,272.1 157.1,272.0 157.1,272.0 157.1,272.0 157.1,272.0 157.1,272.0 158.1,271.8 158.1,271.8 158.1,271.8 158.1,271.8 158.1,271.8 159.0,271.6 159.0,271.6 159.1,271.6 159.1,271.6 159.1,271.6 160.0,271.3 160.0,271.3 160.0,271.3 160.0,271.3 160.0,271.3 161.0,271.1 161.0,271.1 161.0,271.1 161.0,271.1 161.0,271.1 161.9,270.8 161.4,269.2 161.4,269.2 162.3,268.8 161.7,267.2 162.6,266.9 162.0,265.3 162.0,265.3 162.8,265.0 162.1,263.5 162.8,263.1 162.8,263.1 162.8,263.1 162.9,263.1 162.9,263.1 163.6,262.8 162.8,261.3 162.8,261.2 162.1,259.7 161.3,258.2 160.6,256.7 159.8,255.1 159.1,253.6 158.6,253.8 157.9,252.3 157.2,250.7 156.8,250.9 156.4,251.0 156.0,251.2 155.5,249.6 155.1,249.7 154.7,249.8 154.4,249.9 153.9,248.3 153.6,248.4 153.3,248.4 153.0,248.5 152.6,248.6 152.3,248.6 152.1,246.9 151.8,246.9 151.5,247.0 151.3,247.0 151.0,247.0 150.7,247.0 150.4,247.0 150.1,247.0 150.3,245.3 150.0,245.2 149.8,245.2 149.6,246.9 149.3,246.8 149.0,246.8 148.7,246.7 148.4,246.7 148.2,246.6 147.9,246.5 147.6,246.4 147.4,246.3 147.1,246.2 146.8,246.1 146.1,247.7 145.8,247.5 145.5,247.4 145.2,247.3 145.0,247.1 144.7,246.9 144.4,246.7 143.5,248.2 143.1,248.0 142.8,247.7 142.5,247.5 141.5,248.9 141.8,249.1 141.8,249.1Z" fill="#ffffff" fill-rule="evenodd"/>
<path d="M135.6,199.0 135.6,199.0 134.6,199.4 135.2,201.0 135.2,201.0 134.2,201.4 135.0,202.9 135.0,202.9 135.7,204.5 136.6,204.1 137.5,203.7 136.9,202.1 137.9,201.8 138.9,201.4 138.3,199.8 139.4,199.5 138.8,197.8 138.3,196.2 137.2,196.5 137.2,196.5 137.2,196.5 137.2,196.6 137.2,196.6 136.1,196.9 136.1,196.9 136.1,196.9 136.1,196.9 136.1,196.9 135.0,197.4Z" fill="#ffffff" fill-rule="evenodd"/>
<path d="M106.2,253.1 107.8,252.5 108.2,253.7 108.2,253.7 108.2,253.7 108.2,253.7 108.2,253.7 108.7,254.9 108.7,254.9 108.7,254.9 108.7,254.9 108.7,254.9 109.2,256.1 109.2,256.1 109.2,256.1 109.2,256.1 109.2,256.1 109.8,257.2 109.8,257.2 109.8,257.2 109.8,257.2 109.8,257.2 110.4,258.3 110.4,258.4 110.4,258.4 110.4,258.4 110.4,258.4 111.0,259.5 111.0,259.5 111.0,259.5 111.0,259.5 111.0,259.5 111.6,260.6 111.6,260.6 111.6,260.6 111.6,260.6 111.6,260.6 112.3,261.7 113.8,260.7 113.1,259.7 112.5,258.6 111.9,257.5 111.3,256.4 110.8,255.3 110.3,254.2 109.8,253.1 109.4,251.9 107.8,252.5 107.4,251.3 107.0,250.1 105.3,250.6 105.7,251.8 105.7,251.8 105.7,251.8 105.7,251.8 105.7,251.8Z" fill="#ffffff" fill-rule="evenodd"/>
<polygon points="108.0,227.0 110.2,227.0 110.2,230.0 108.0,230.0" fill="#ffffff"/>
<polygon points="101.5,236.0 103.1,236.0 103.1,239.2 101.5,239.2" fill="#ffffff"/>
<polygon points="105.5,257.0 107.5,257.0 107.5,258.8 105.5,258.8" fill="#ffffff"/>
<polygon points="213.5,238.0 215.3,238.0 215.3,242.0 213.5,242.0" fill="#ffffff"/>
<polygon points="214.5,246.0 216.5,246.0 216.5,248.0 214.5,248.0" fill="#ffffff"/>
<polygon points="208.5,262.0 210.5,262.0 210.5,264.0 208.5,264.0" fill="#ffffff"/>
<polygon points="190.3,284.5 192.7,284.5 192.7,288.5 190.3,288.5" fill="#ffffff"/>
<polygon points="146.9,275.0 148.5,275.0 148.5,276.6 146.9,276.6" fill="#ffffff"/>
<polygon points="148.5,280.5 150.1,280.5 150.1,282.1 148.5,282.1" fill="#ffffff"/>
<polygon points="153.5,283.0 155.1,283.0 155.1,284.6 153.5,284.6" fill="#ffffff"/>
<polygon points="148.5,285.5 150.1,285.5 150.1,287.1 148.5,287.1" fill="#ffffff"/>
<polygon points="107.0,206.3 107.6,205.6 115.6,211.2 115.0,211.9" fill="#ffffff"/>
<use href="#land"/>
</g>
<circle cx="150.9" cy="236.8" r="150.05" fill="none" stroke="#b8b8b8" stroke-width="1.2"/>
<path d="M2.9,214.4 A149.70000000000002,149.70000000000002 0 0 1 65.4,113.9" fill="none" stroke="#000" stroke-width="1.3" stroke-linecap="round"/><path d="M175.2,89.1 A149.70000000000002,149.70000000000002 0 0 1 252.0,126.4" fill="none" stroke="#000" stroke-width="1.3" stroke-linecap="round"/>
<rect x="314.6" y="372.26" width="14.2" height="15.34" fill="#30123b"/>
<rect x="314.6" y="357.22" width="14.2" height="15.34" fill="#3e3891"/>
<rect x="314.6" y="342.18" width="14.2" height="15.34" fill="#455ccf"/>
<rect x="314.6" y="327.14" width="14.2" height="15.34" fill="#4680f6"/>
<rect x="314.6" y="312.10" width="14.2" height="15.34" fill="#3ba0fd"/>
<rect x="314.6" y="297.06" width="14.2" height="15.34" fill="#23c3e4"/>
<rect x="314.6" y="282.02" width="14.2" height="15.34" fill="#18ddc2"/>
<rect x="314.6" y="266.98" width="14.2" height="15.34" fill="#2aefa1"/>
<rect x="314.6" y="251.94" width="14.2" height="15.34" fill="#59fb73"/>
<rect x="314.6" y="236.90" width="14.2" height="15.34" fill="#8bff4b"/>
<rect x="314.6" y="221.86" width="14.2" height="15.34" fill="#b4f836"/>
<rect x="314.6" y="206.82" width="14.2" height="15.34" fill="#d4e735"/>
<rect x="314.6" y="191.78" width="14.2" height="15.34" fill="#efcd3a"/>
<rect x="314.6" y="176.74" width="14.2" height="15.34" fill="#fcb136"/>
<rect x="314.6" y="161.70" width="14.2" height="15.34" fill="#fd8d27"/>
<rect x="314.6" y="146.66" width="14.2" height="15.34" fill="#f36315"/>
<rect x="314.6" y="131.62" width="14.2" height="15.34" fill="#e2430a"/>
<rect x="314.6" y="116.58" width="14.2" height="15.34" fill="#c82803"/>
<rect x="314.6" y="101.54" width="14.2" height="15.34" fill="#a71401"/>
<rect x="314.6" y="86.50" width="14.2" height="15.34" fill="#7a0403"/>
<rect x="314.6" y="86.5" width="14.2" height="300.8" fill="none" stroke="#b9b9b9" stroke-width="0.8"/>
<text x="334.3" y="392.0" font-family="Liberation Sans, sans-serif" font-size="13" fill="#262626">0</text>
<text x="334.3" y="361.9" font-family="Liberation Sans, sans-serif" font-size="13" fill="#262626">1</text>
<text x="334.3" y="331.8" font-family="Liberation Sans, sans-serif" font-size="13" fill="#262626">2</text>
<text x="334.3" y="301.8" font-family="Liberation Sans, sans-serif" font-size="13" fill="#262626">3</text>
<text x="334.3" y="271.7" font-family="Liberation Sans, sans-serif" font-size="13" fill="#262626">4</text>
<text x="334.3" y="241.6" font-family="Liberation Sans, sans-serif" font-size="13" fill="#262626">5</text>
<text x="334.3" y="211.5" font-family="Liberation Sans, sans-serif" font-size="13" fill="#262626">6</text>
<text x="334.3" y="181.4" font-family="Liberation Sans, sans-serif" font-size="13" fill="#262626">7</text>
<text x="334.3" y="151.4" font-family="Liberation Sans, sans-serif" font-size="13" fill="#262626">8</text>
<text x="334.3" y="121.3" font-family="Liberation Sans, sans-serif" font-size="13" fill="#262626">15</text>
<text x="334.3" y="91.2" font-family="Liberation Sans, sans-serif" font-size="13" fill="#262626" stroke="#262626" stroke-width="0.45">30</text>
<text transform="translate(366.8,237.2) rotate(-90)" text-anchor="middle" font-family="Liberation Sans, sans-serif" font-size="15.25" fill="#262626">Sea-ice thickness [m]</text>
</g>
<g transform="translate(393.8,0)">
<text x="153.5" y="69.8" text-anchor="middle" font-family="Liberation Sans, sans-serif" font-size="16.7" fill="#2f4f4f" xml:space="preserve">ECE-FAST SPC2</text>
<g clip-path="url(#cc)">
<path d="M110.2,212.1 108.7,211.2 108.0,212.4 108.0,212.4 108.0,212.4 106.5,211.6 105.8,212.9 107.4,213.7 108.8,214.5 110.4,215.2 110.4,215.2 111.9,216.1 113.4,216.9 114.9,217.7 116.4,218.4 117.9,219.3 118.4,218.3 118.9,217.4 119.5,216.6 120.1,215.7 118.7,214.7 119.3,213.8 117.9,212.8 116.5,211.8 116.5,211.8 115.1,210.8 114.4,211.8 113.0,210.9 113.0,210.9 111.6,209.9 110.9,211.0 110.9,211.0 110.9,211.0 110.9,211.0 110.9,211.0 110.2,212.1Z" fill="#30123b" fill-rule="evenodd"/>
<path d="M124.3,208.1 124.3,208.1 124.3,208.1 124.3,208.1 124.3,208.1 123.5,208.8 123.5,208.8 123.5,208.8 123.5,208.9 123.5,208.9 122.8,209.6 124.0,210.8 123.3,211.6 123.3,211.6 123.3,211.6 123.3,211.6 123.3,211.6 122.6,212.4 123.9,213.5 125.1,214.6 125.1,214.6 124.5,215.3 125.9,216.4 126.5,215.7 127.1,215.0 127.7,214.4 128.3,213.7 129.0,213.1 129.6,212.5 130.3,211.9 131.0,211.4 131.7,210.8 132.5,210.3 133.2,209.8 132.3,208.4 133.1,207.9 132.2,206.4 133.1,205.9 132.2,204.4 131.3,204.9 131.3,204.9 130.4,203.5 129.5,202.0 128.6,202.6 128.6,202.6 128.5,202.6 128.5,202.6 128.5,202.6 127.6,203.3 127.6,203.3 127.6,203.3 127.6,203.3 127.6,203.3 126.7,203.9 126.7,203.9 126.7,203.9 126.7,203.9 126.7,203.9 125.8,204.6 125.8,204.6 125.8,204.6 125.8,204.6 125.8,204.6 124.9,205.3 124.9,205.3 124.9,205.3 124.9,205.4 124.9,205.4 124.0,206.1 125.1,207.4Z" fill="#30123b" fill-rule="evenodd"/>
<path d="M150.3,267.4 149.4,267.3 148.5,267.3 148.4,269.0 147.5,268.9 147.3,270.6 147.2,272.3 146.2,272.2 145.9,273.9 147.0,274.0 147.0,274.0 147.0,274.0 147.0,274.0 147.0,274.0 148.0,274.1 147.9,275.8 149.0,275.9 149.0,275.9 148.9,277.6 150.0,277.6 150.0,279.3 151.2,279.3 151.2,279.3 151.2,279.3 151.2,279.3 151.2,279.3 152.4,279.3 152.4,281.0 153.7,280.9 153.8,282.6 155.1,282.5 155.1,282.5 155.1,282.5 155.1,282.5 155.1,282.5 156.3,282.4 156.3,282.4 156.5,284.1 157.8,283.9 157.8,283.9 157.9,283.9 157.9,283.9 157.9,283.9 159.2,283.7 158.9,282.0 158.9,282.0 160.1,281.8 159.8,280.1 159.8,280.1 159.5,278.4 159.5,278.4 160.6,278.2 160.2,276.5 160.2,276.5 161.3,276.3 160.9,274.6 160.5,273.0 160.0,271.3 159.0,271.5 158.1,271.8 157.1,271.9 156.1,272.1 155.9,270.4 154.9,270.5 154.0,270.6 153.0,270.7 152.9,269.1 152.8,267.3 152.0,267.4 151.1,267.4Z" fill="#30123b" fill-rule="evenodd"/>
<path d="M184.2,286.1 182.8,287.0 181.9,285.6 180.5,286.4 181.3,287.9 181.3,287.9 182.2,289.4 183.7,288.5 184.6,289.9 186.1,289.0 186.1,289.0 186.1,289.0 186.1,289.0 186.1,289.0 187.5,288.0 187.5,288.0 187.5,288.0 187.5,288.0 187.5,288.0 189.0,286.9 187.9,285.5 186.5,286.5 185.5,285.2Z" fill="#30123b" fill-rule="evenodd"/>
<use href="#mesh"/>
<path d="M152.5,262.2 151.8,262.3 151.1,262.3 150.4,262.3 149.7,262.2 148.9,262.2 148.2,262.1 148.1,263.8 147.9,265.6 148.7,265.6 148.7,265.6 148.7,265.6 148.7,265.6 148.7,265.6 149.5,265.7 149.5,265.7 149.5,265.7 149.5,265.7 149.5,265.7 150.3,265.7 150.3,265.7 150.3,265.7 150.3,265.7 150.3,265.7 151.1,265.7 151.1,265.7 151.1,265.7 151.1,265.7 151.1,265.7 151.9,265.7 151.9,265.7 151.9,265.7 151.9,265.7 151.9,265.7 152.7,265.7 152.7,265.7 152.7,265.7 152.7,265.7 152.7,265.7 153.5,265.6 153.5,265.6 153.5,265.6 153.7,267.3 153.8,268.9 154.0,270.7 154.9,270.6 154.9,270.6 154.9,270.6 154.9,270.6 154.9,270.6 155.9,270.5 155.9,270.5 155.9,270.5 155.9,270.5 155.9,270.5 156.8,270.3 156.8,270.3 156.8,270.3 156.8,270.3 156.8,270.3 157.7,270.1 157.7,270.1 157.7,270.1 157.7,270.1 157.7,270.1 158.7,269.9 158.7,269.9 158.7,269.9 159.0,271.6 160.0,271.3 160.0,271.3 160.0,271.3 160.0,271.3 160.0,271.3 161.0,271.1 160.5,269.4 160.5,269.4 161.4,269.2 160.9,267.5 160.9,267.5 160.4,265.9 161.2,265.6 160.6,264.0 160.6,264.0 161.4,263.8 160.7,262.1 160.0,262.4 159.3,262.6 158.6,262.9 158.1,261.2 157.4,261.4 156.7,261.6 156.0,261.8 155.3,261.9 154.6,262.0 153.9,262.1 153.2,262.2Z" fill="#ffffff" fill-rule="evenodd"/>
<polygon points="149.3,266.8 152.5,266.8 152.5,269.4 149.3,269.4" fill="#6b4f78"/>
<use href="#land"/>
</g>
<circle cx="150.9" cy="236.8" r="150.05" fill="none" stroke="#b8b8b8" stroke-width="1.2"/>
<path d="M2.9,214.4 A149.70000000000002,149.70000000000002 0 0 1 65.4,113.9" fill="none" stroke="#000" stroke-width="1.3" stroke-linecap="round"/><path d="M175.2,89.1 A149.70000000000002,149.70000000000002 0 0 1 252.0,126.4" fill="none" stroke="#000" stroke-width="1.3" stroke-linecap="round"/>
<rect x="314.6" y="372.26" width="14.2" height="15.34" fill="#30123b"/>
<rect x="314.6" y="357.22" width="14.2" height="15.34" fill="#3e3891"/>
<rect x="314.6" y="342.18" width="14.2" height="15.34" fill="#455ccf"/>
<rect x="314.6" y="327.14" width="14.2" height="15.34" fill="#4680f6"/>
<rect x="314.6" y="312.10" width="14.2" height="15.34" fill="#3ba0fd"/>
<rect x="314.6" y="297.06" width="14.2" height="15.34" fill="#23c3e4"/>
<rect x="314.6" y="282.02" width="14.2" height="15.34" fill="#18ddc2"/>
<rect x="314.6" y="266.98" width="14.2" height="15.34" fill="#2aefa1"/>
<rect x="314.6" y="251.94" width="14.2" height="15.34" fill="#59fb73"/>
<rect x="314.6" y="236.90" width="14.2" height="15.34" fill="#8bff4b"/>
<rect x="314.6" y="221.86" width="14.2" height="15.34" fill="#b4f836"/>
<rect x="314.6" y="206.82" width="14.2" height="15.34" fill="#d4e735"/>
<rect x="314.6" y="191.78" width="14.2" height="15.34" fill="#efcd3a"/>
<rect x="314.6" y="176.74" width="14.2" height="15.34" fill="#fcb136"/>
<rect x="314.6" y="161.70" width="14.2" height="15.34" fill="#fd8d27"/>
<rect x="314.6" y="146.66" width="14.2" height="15.34" fill="#f36315"/>
<rect x="314.6" y="131.62" width="14.2" height="15.34" fill="#e2430a"/>
<rect x="314.6" y="116.58" width="14.2" height="15.34" fill="#c82803"/>
<rect x="314.6" y="101.54" width="14.2" height="15.34" fill="#a71401"/>
<rect x="314.6" y="86.50" width="14.2" height="15.34" fill="#7a0403"/>
<rect x="314.6" y="86.5" width="14.2" height="300.8" fill="none" stroke="#b9b9b9" stroke-width="0.8"/>
<text x="334.3" y="392.0" font-family="Liberation Sans, sans-serif" font-size="13" fill="#262626">0</text>
<text x="334.3" y="361.9" font-family="Liberation Sans, sans-serif" font-size="13" fill="#262626">1</text>
<text x="334.3" y="331.8" font-family="Liberation Sans, sans-serif" font-size="13" fill="#262626">2</text>
<text x="334.3" y="301.8" font-family="Liberation Sans, sans-serif" font-size="13" fill="#262626">3</text>
<text x="334.3" y="271.7" font-family="Liberation Sans, sans-serif" font-size="13" fill="#262626">4</text>
<text x="334.3" y="241.6" font-family="Liberation Sans, sans-serif" font-size="13" fill="#262626">5</text>
<text x="334.3" y="211.5" font-family="Liberation Sans, sans-serif" font-size="13" fill="#262626">6</text>
<text x="334.3" y="181.4" font-family="Liberation Sans, sans-serif" font-size="13" fill="#262626">7</text>
<text x="334.3" y="151.4" font-family="Liberation Sans, sans-serif" font-size="13" fill="#262626">8</text>
<text x="334.3" y="121.3" font-family="Liberation Sans, sans-serif" font-size="13" fill="#262626">15</text>
<text x="334.3" y="91.2" font-family="Liberation Sans, sans-serif" font-size="13" fill="#262626" stroke="#262626" stroke-width="0.45">30</text>
<text transform="translate(366.8,237.2) rotate(-90)" text-anchor="middle" font-family="Liberation Sans, sans-serif" font-size="15.25" fill="#262626">Sea-ice thickness [m]</text>
</g>
<g transform="translate(787.7,0)">
<text x="153.5" y="69.8" text-anchor="middle" font-family="Liberation Sans, sans-serif" font-size="16.7" fill="#2f4f4f" xml:space="preserve">ECE-FAST -  PSC</text>
<g clip-path="url(#cc)">
<path d="M108.0,212.4 109.5,213.3 111.0,214.1 112.5,215.0 114.0,215.8 115.4,216.6 116.9,217.5 117.5,216.6 118.1,215.6 118.7,214.7 119.3,213.8 117.9,212.8 116.5,211.8 115.8,212.8 115.8,212.8 115.8,212.8 114.4,211.8 113.7,212.8 113.7,212.8 112.3,211.9 111.6,213.0 110.2,212.1 108.7,211.2Z" fill="#a7d0e4" fill-rule="evenodd"/>
<path d="M124.3,208.1 125.5,209.3 125.5,209.3 124.7,210.1 124.7,210.1 124.7,210.1 124.7,210.1 124.7,210.1 124.0,210.8 124.0,210.8 124.0,210.8 124.0,210.8 124.0,210.8 123.3,211.6 124.5,212.7 124.5,212.7 124.5,212.7 123.9,213.5 125.2,214.6 125.8,213.9 126.5,213.2 127.1,212.5 127.8,211.9 128.5,211.2 127.4,209.9 128.2,209.3 128.9,208.7 127.9,207.3 126.8,206.0 126.0,206.7 126.0,206.7 126.0,206.7 126.0,206.7 126.0,206.7 125.1,207.4 125.1,207.4 125.1,207.4 125.1,207.4 125.1,207.4Z" fill="#a7d0e4" fill-rule="evenodd"/>
<path d="M152.1,272.5 151.1,272.5 150.2,272.5 149.1,272.4 149.1,274.2 150.1,274.2 150.1,274.2 150.1,274.2 150.1,275.9 151.2,275.9 151.2,275.9 151.2,277.6 151.2,279.3 152.4,279.3 152.4,279.3 152.4,279.3 152.4,279.3 152.4,279.3 153.6,279.2 153.6,279.2 153.7,280.9 154.9,280.8 155.1,282.5 156.3,282.4 156.3,282.4 156.3,282.4 156.3,282.4 156.3,282.4 157.6,282.2 157.4,280.5 158.6,280.3 158.3,278.6 158.0,277.0 158.0,277.0 158.0,277.0 159.1,276.8 158.8,275.1 158.8,275.1 158.8,275.1 158.4,273.4 157.4,273.6 156.4,273.8 155.3,273.9 155.1,272.2 154.1,272.3 153.1,272.4Z" fill="#eff3f5" fill-rule="evenodd"/>
<use href="#land"/>
</g>
<circle cx="150.9" cy="236.8" r="150.05" fill="none" stroke="#b8b8b8" stroke-width="1.2"/>
<path d="M2.9,214.4 A149.70000000000002,149.70000000000002 0 0 1 65.4,113.9" fill="none" stroke="#000" stroke-width="1.3" stroke-linecap="round"/><path d="M175.2,89.1 A149.70000000000002,149.70000000000002 0 0 1 252.0,126.4" fill="none" stroke="#000" stroke-width="1.3" stroke-linecap="round"/>
<rect x="314.6" y="363.76" width="14.2" height="10.84" fill="#0f437b"/>
<rect x="314.6" y="353.22" width="14.2" height="10.84" fill="#195696"/>
<rect x="314.6" y="342.68" width="14.2" height="10.84" fill="#246aae"/>
<rect x="314.6" y="332.15" width="14.2" height="10.84" fill="#307ab6"/>
<rect x="314.6" y="321.61" width="14.2" height="10.84" fill="#3e8cbf"/>
<rect x="314.6" y="311.07" width="14.2" height="10.84" fill="#529dc8"/>
<rect x="314.6" y="300.53" width="14.2" height="10.84" fill="#71b0d3"/>
<rect x="314.6" y="289.99" width="14.2" height="10.84" fill="#8dc2dc"/>
<rect x="314.6" y="279.45" width="14.2" height="10.84" fill="#a7d0e4"/>
<rect x="314.6" y="268.92" width="14.2" height="10.84" fill="#bddbea"/>
<rect x="314.6" y="258.38" width="14.2" height="10.84" fill="#d2e6f0"/>
<rect x="314.6" y="247.84" width="14.2" height="10.84" fill="#e1edf3"/>
<rect x="314.6" y="237.30" width="14.2" height="10.84" fill="#eff3f5"/>
<rect x="314.6" y="226.76" width="14.2" height="10.84" fill="#f8f2ef"/>
<rect x="314.6" y="216.22" width="14.2" height="10.84" fill="#fae8de"/>
<rect x="314.6" y="205.68" width="14.2" height="10.84" fill="#fdddcb"/>
<rect x="314.6" y="195.15" width="14.2" height="10.84" fill="#fbccb4"/>
<rect x="314.6" y="184.61" width="14.2" height="10.84" fill="#f7b799"/>
<rect x="314.6" y="174.07" width="14.2" height="10.84" fill="#f3a481"/>
<rect x="314.6" y="163.53" width="14.2" height="10.84" fill="#e98b6e"/>
<rect x="314.6" y="152.99" width="14.2" height="10.84" fill="#dd7059"/>
<rect x="314.6" y="142.45" width="14.2" height="10.84" fill="#d25849"/>
<rect x="314.6" y="131.92" width="14.2" height="10.84" fill="#c43b3c"/>
<rect x="314.6" y="121.38" width="14.2" height="10.84" fill="#b72230"/>
<rect x="314.6" y="110.84" width="14.2" height="10.84" fill="#9f1228"/>
<rect x="314.6" y="100.30" width="14.2" height="10.84" fill="#840924"/>
<polygon points="314.6,100.3 321.70000000000005,86.2 328.8,100.3" fill="#67001f"/>
<polygon points="314.6,374.3 321.70000000000005,387.2 328.8,374.3" fill="#053061"/>
<polygon points="314.6,100.3 321.70000000000005,86.2 328.8,100.3 328.8,374.3 321.70000000000005,387.2 314.6,374.3" fill="none" stroke="#c4c4c4" stroke-width="0.8"/>
<text x="334.3" y="379.0" font-family="Liberation Sans, sans-serif" font-size="13" fill="#262626">−5</text>
<text x="334.3" y="351.6" font-family="Liberation Sans, sans-serif" font-size="13" fill="#262626">−4</text>
<text x="334.3" y="324.2" font-family="Liberation Sans, sans-serif" font-size="13" fill="#262626">−3</text>
<text x="334.3" y="296.8" font-family="Liberation Sans, sans-serif" font-size="13" fill="#262626">−2</text>
<text x="334.3" y="269.4" font-family="Liberation Sans, sans-serif" font-size="13" fill="#262626">−1</text>
<text x="334.3" y="242.0" font-family="Liberation Sans, sans-serif" font-size="13" fill="#262626">0</text>
<text x="334.3" y="214.6" font-family="Liberation Sans, sans-serif" font-size="13" fill="#262626">1</text>
<text x="334.3" y="187.2" font-family="Liberation Sans, sans-serif" font-size="13" fill="#262626">2</text>
<text x="334.3" y="159.8" font-family="Liberation Sans, sans-serif" font-size="13" fill="#262626">3</text>
<text x="334.3" y="132.4" font-family="Liberation Sans, sans-serif" font-size="13" fill="#262626">4</text>
<text x="334.3" y="105.0" font-family="Liberation Sans, sans-serif" font-size="13" fill="#262626">5</text>
<text transform="translate(366.8,237.2) rotate(-90)" text-anchor="middle" font-family="Liberation Sans, sans-serif" font-size="15.25" fill="#262626">Sea-ice thickness [m]</text>
</g>
<text x="541" y="464.6" text-anchor="middle" font-family="Liberation Sans, sans-serif" font-size="19.44" fill="#262626">Sea ice thickness over Antarctic. Month: September</text>
<g transform="translate(0,450)">
<text x="153.5" y="69.8" text-anchor="middle" font-family="Liberation Sans, sans-serif" font-size="16.7" fill="#2f4f4f" xml:space="preserve">PSC GIOMAS</text>
<g clip-path="url(#cc)">
<path d="M90.3,187.4 90.3,187.4 90.3,187.4 88.9,189.1 88.9,189.1 88.9,189.1 88.9,189.1 88.9,189.1 87.6,190.8 89.0,191.8 89.0,191.8 87.8,193.6 87.8,193.6 87.8,193.6 87.8,193.6 87.8,193.6 86.6,195.3 86.6,195.3 86.6,195.3 86.6,195.4 86.6,195.4 85.5,197.1 85.5,197.1 85.4,197.2 85.4,197.2 85.4,197.2 84.4,199.0 84.4,199.0 84.4,199.0 84.4,199.0 84.4,199.0 83.3,200.9 83.3,200.9 83.3,200.9 83.3,200.9 83.3,200.9 82.4,202.8 82.4,202.8 82.4,202.8 82.4,202.8 82.4,202.8 81.4,204.7 81.4,204.7 81.4,204.7 81.4,204.7 81.4,204.7 80.6,206.7 82.1,207.3 82.1,207.3 81.3,209.3 82.9,209.9 82.2,211.8 82.2,211.8 82.2,211.8 82.2,211.8 82.2,211.8 81.5,213.7 83.1,214.3 83.1,214.3 82.5,216.1 82.5,216.1 82.5,216.2 82.5,216.2 82.5,216.2 82.0,218.1 83.6,218.5 83.1,220.4 83.1,220.4 83.1,220.4 83.1,220.4 83.1,220.4 82.7,222.3 82.7,222.3 82.7,222.3 82.7,222.3 82.7,222.3 82.3,224.2 84.0,224.5 84.0,224.5 83.7,226.4 83.7,226.4 83.7,226.4 83.7,226.4 83.7,226.4 83.4,228.3 83.4,228.3 83.4,228.3 83.4,228.3 83.4,228.3 83.2,230.1 83.2,230.1 83.2,230.2 83.2,230.2 83.2,230.2 83.0,232.0 83.0,232.0 83.0,232.1 83.0,232.1 83.0,232.1 82.9,233.9 82.9,233.9 82.9,234.0 82.9,234.0 82.9,234.0 82.9,235.8 82.9,235.8 82.9,235.9 82.9,235.9 82.9,235.9 82.9,237.8 84.6,237.7 84.6,237.7 84.6,239.6 84.6,239.6 84.6,239.6 84.6,239.6 84.6,239.6 84.7,241.4 84.7,241.4 84.7,241.4 84.7,241.4 84.7,241.4 84.9,243.3 84.9,243.3 84.9,243.3 84.9,243.3 84.9,243.3 85.1,245.1 85.1,245.1 85.1,245.1 85.1,245.1 85.1,245.1 85.4,246.9 85.4,246.9 85.4,246.9 85.4,247.0 85.4,247.0 85.7,248.8 85.7,248.8 85.7,248.8 85.7,248.8 85.7,248.8 86.0,250.6 86.0,250.6 86.0,250.6 86.0,250.6 86.0,250.6 86.4,252.4 86.4,252.4 86.4,252.4 86.4,252.4 86.4,252.4 86.9,254.2 86.9,254.2 86.9,254.2 86.9,254.2 86.9,254.2 87.4,256.0 87.4,256.0 87.4,256.0 87.4,256.0 87.4,256.0 88.0,257.7 88.0,257.7 86.4,258.3 87.0,260.1 87.0,260.1 87.0,260.1 87.0,260.1 87.0,260.1 87.7,261.8 87.7,261.8 87.7,261.8 87.7,261.9 87.7,261.9 88.4,263.6 88.4,263.6 88.4,263.6 88.4,263.6 88.4,263.6 89.1,265.3 89.1,265.3 89.2,265.3 89.2,265.3 89.2,265.3 90.0,267.0 90.0,267.0 90.0,267.0 90.0,267.1 90.0,267.1 90.8,268.7 90.8,268.7 89.3,269.5 90.3,271.2 90.3,271.2 90.3,271.2 90.3,271.2 90.3,271.2 91.3,272.9 91.3,272.9 91.3,272.9 91.3,272.9 91.3,272.9 92.3,274.6 92.3,274.6 92.3,274.6 92.3,274.6 92.3,274.6 93.4,276.2 93.4,276.2 93.4,276.2 93.4,276.2 93.4,276.2 94.5,277.8 93.1,278.8 94.3,280.4 94.3,280.4 94.3,280.4 94.3,280.4 94.3,280.4 95.5,281.9 95.5,281.9 95.6,281.9 95.6,282.0 95.6,282.0 96.8,283.5 96.8,283.5 96.8,283.5 95.5,284.6 96.9,286.1 96.9,286.1 96.9,286.1 96.9,286.1 96.9,286.1 98.3,287.6 98.3,287.6 98.3,287.6 97.1,288.8 98.5,290.2 98.5,290.2 98.6,290.3 98.6,290.3 98.6,290.3 100.1,291.7 100.1,291.7 100.1,291.7 98.9,292.9 100.5,294.4 100.5,294.4 100.5,294.4 100.5,294.4 100.5,294.4 102.1,295.7 102.1,295.7 102.1,295.8 102.1,295.8 102.1,295.8 103.8,297.1 102.7,298.4 104.5,299.7 104.5,299.7 104.5,299.8 104.5,299.8 104.5,299.8 106.2,301.0 106.2,301.0 105.3,302.4 107.1,303.7 107.1,303.7 107.1,303.7 107.2,303.7 107.2,303.7 109.0,304.9 109.0,304.9 109.0,304.9 109.0,304.9 109.0,304.9 111.0,306.0 111.8,304.5 111.8,304.5 113.7,305.6 113.7,305.6 113.7,305.6 113.7,305.6 113.7,305.6 115.6,306.6 116.4,305.1 118.3,306.0 119.1,304.5 120.9,305.4 120.9,305.4 120.9,305.4 121.0,305.4 121.0,305.4 122.9,306.2 122.9,306.2 122.9,306.2 122.9,306.2 122.9,306.2 124.8,306.9 124.8,306.9 124.8,306.9 124.8,306.9 124.8,306.9 126.8,307.6 126.8,307.6 126.8,307.6 126.8,307.6 126.8,307.6 128.8,308.3 128.8,308.3 128.8,308.3 128.8,308.3 128.8,308.3 130.8,308.9 130.8,308.9 130.8,308.9 130.8,308.9 130.8,308.9 132.8,309.4 132.8,309.4 132.8,309.4 132.8,309.4 132.8,309.4 134.8,309.9 134.8,309.9 134.8,309.9 134.8,309.9 134.8,309.9 136.9,310.3 136.9,310.3 136.9,310.3 136.9,310.3 136.9,310.3 138.9,310.7 138.9,310.7 138.9,310.7 139.0,310.7 139.0,310.7 141.0,311.0 141.0,311.0 141.0,311.0 141.0,311.0 141.0,311.0 143.1,311.2 143.3,309.5 145.3,309.7 145.3,309.7 145.3,309.7 145.3,309.7 145.3,309.7 147.3,309.8 147.3,309.8 147.3,309.8 147.3,309.8 147.3,309.8 149.4,309.9 149.4,309.9 149.4,309.9 149.4,309.9 149.4,309.9 151.4,309.9 151.4,309.9 151.4,309.9 151.4,309.9 151.4,309.9 153.4,309.9 153.4,309.9 153.5,309.9 153.5,309.9 153.5,309.9 155.5,309.8 155.5,309.8 155.5,309.8 155.5,309.8 155.5,309.8 157.5,309.6 157.5,309.6 157.5,309.6 157.5,309.6 157.5,309.6 159.5,309.4 159.5,309.4 159.6,309.4 159.6,309.4 159.6,309.4 161.6,309.1 161.6,309.1 161.6,309.1 161.6,309.1 161.6,309.1 163.6,308.8 163.6,308.8 163.6,308.8 163.6,308.8 163.6,308.8 165.6,308.4 165.6,308.4 165.6,308.4 165.6,308.4 165.6,308.4 167.6,308.0 167.6,308.0 167.6,308.0 167.6,308.0 167.6,308.0 169.6,307.5 170.0,309.1 172.0,308.6 172.0,308.6 172.0,308.6 172.0,308.6 172.0,308.6 174.0,308.0 174.0,308.0 174.5,309.6 176.6,308.9 176.0,307.3 176.0,307.3 177.9,306.6 177.9,306.6 178.0,306.6 178.0,306.6 178.0,306.6 179.9,305.8 179.9,305.8 179.9,305.8 179.9,305.8 179.9,305.8 181.8,304.9 181.8,304.9 181.8,304.9 181.8,304.9 181.8,304.9 183.7,304.1 183.7,304.1 183.7,304.0 183.7,304.0 183.7,304.0 185.6,303.1 185.6,303.1 185.6,303.1 185.6,303.1 185.6,303.1 187.4,302.1 187.4,302.1 187.4,302.1 187.4,302.1 187.4,302.1 189.2,301.1 189.2,301.1 189.2,301.1 189.2,301.1 189.2,301.1 191.0,300.0 191.0,300.0 191.0,300.0 191.0,300.0 191.0,300.0 192.7,298.8 192.7,298.8 192.7,298.8 192.8,298.8 192.8,298.8 194.4,297.6 194.4,297.6 194.5,297.6 194.5,297.6 194.5,297.6 196.1,296.4 196.1,296.4 196.1,296.4 196.1,296.4 196.1,296.4 197.8,295.1 197.8,295.1 197.8,295.1 197.8,295.1 197.8,295.1 199.4,293.8 199.4,293.8 199.4,293.8 199.4,293.8 199.4,293.8 201.0,292.4 201.0,292.4 201.0,292.4 201.0,292.4 201.0,292.4 202.5,291.0 202.5,291.0 202.5,291.0 202.5,291.0 202.5,291.0 204.0,289.5 204.0,289.5 204.0,289.5 204.0,289.5 204.0,289.5 205.4,288.0 205.4,288.0 205.4,288.0 205.5,288.0 205.5,288.0 206.8,286.5 206.8,286.5 206.9,286.5 206.9,286.5 206.9,286.5 208.2,284.9 208.2,284.9 208.2,284.9 208.2,284.9 208.2,284.9 209.5,283.3 209.5,283.3 209.5,283.3 209.5,283.3 209.5,283.3 210.8,281.6 210.8,281.6 210.8,281.6 210.8,281.6 210.8,281.6 212.0,279.9 212.0,279.9 212.0,279.9 212.0,279.9 212.0,279.9 213.2,278.2 213.2,278.2 213.2,278.2 213.2,278.2 213.2,278.2 214.3,276.5 214.3,276.5 214.4,276.4 214.4,276.4 214.4,276.4 215.4,274.7 216.9,275.5 217.9,273.7 217.9,273.7 218.0,273.7 218.0,273.7 218.0,273.7 219.0,271.8 219.0,271.8 219.0,271.8 219.0,271.8 219.0,271.8 219.9,269.9 219.9,269.9 219.9,269.9 219.9,269.8 219.9,269.8 220.8,267.9 220.8,267.9 220.8,267.9 220.8,267.9 220.8,267.9 221.6,266.0 223.2,266.6 224.0,264.6 224.0,264.6 224.0,264.6 224.0,264.6 224.0,264.6 224.8,262.5 224.8,262.5 224.8,262.5 224.8,262.5 224.8,262.5 225.5,260.5 225.5,260.5 225.5,260.5 225.5,260.4 225.5,260.4 226.1,258.4 226.1,258.4 227.7,258.8 228.3,256.7 228.3,256.7 228.3,256.7 228.3,256.7 228.3,256.7 228.8,254.5 228.8,254.5 228.8,254.5 228.8,254.5 228.8,254.5 229.3,252.3 229.3,252.3 229.3,252.3 229.3,252.3 229.3,252.3 229.7,250.1 229.7,250.1 229.7,250.1 231.4,250.4 231.7,248.2 231.7,248.2 231.7,248.2 231.7,248.1 231.7,248.1 232.0,245.9 232.0,245.9 232.0,245.9 232.0,245.9 232.0,245.9 232.2,243.6 232.2,243.6 232.2,243.6 232.2,243.6 232.2,243.6 232.4,241.4 234.1,241.5 234.2,239.1 234.2,239.1 234.2,239.1 234.2,239.1 234.2,239.1 234.2,236.8 234.2,236.8 234.2,236.8 234.2,236.8 234.2,236.8 234.2,234.5 234.2,234.5 234.2,234.5 234.2,234.5 234.2,234.5 234.1,232.2 234.1,232.2 235.8,232.1 235.6,229.7 235.6,229.7 235.6,229.7 235.6,229.7 235.6,229.7 235.4,227.3 235.4,227.3 235.4,227.3 235.4,227.3 235.4,227.3 235.1,225.0 235.1,225.0 235.1,225.0 235.1,225.0 235.1,225.0 234.7,222.6 234.7,222.6 234.7,222.6 234.7,222.6 234.7,222.6 234.3,220.3 234.3,220.3 234.3,220.3 234.3,220.3 234.3,220.3 233.8,217.9 232.1,218.3 232.1,218.3 231.6,216.1 230.0,216.5 229.4,214.3 229.4,214.3 229.4,214.3 229.4,214.3 229.4,214.3 228.7,212.1 228.7,212.1 228.7,212.1 228.7,212.1 228.7,212.1 228.0,209.9 226.4,210.5 226.4,210.5 226.4,210.5 225.6,208.4 225.6,208.4 225.6,208.4 225.6,208.4 225.6,208.4 224.8,206.4 224.8,206.4 224.8,206.3 224.8,206.3 224.8,206.3 223.9,204.3 223.9,204.3 223.9,204.3 223.9,204.3 223.9,204.3 223.0,202.3 223.0,202.3 224.5,201.5 223.5,199.5 223.5,199.5 223.5,199.5 223.5,199.5 223.5,199.5 222.4,197.5 222.4,197.5 222.4,197.5 222.4,197.5 222.4,197.5 221.3,195.5 219.8,196.3 218.7,194.5 218.7,194.5 218.7,194.4 218.7,194.4 218.7,194.4 217.5,192.6 217.5,192.6 217.5,192.6 217.5,192.6 217.5,192.6 216.2,190.7 216.2,190.7 216.2,190.7 216.2,190.7 216.2,190.7 214.9,188.9 214.9,188.9 214.9,188.9 214.9,188.9 214.9,188.9 213.5,187.2 213.5,187.2 213.5,187.2 213.5,187.1 213.5,187.1 212.1,185.4 212.1,185.4 212.1,185.4 212.1,185.4 212.1,185.4 210.7,183.8 210.7,183.8 210.7,183.7 210.7,183.7 210.7,183.7 209.2,182.1 209.2,182.1 209.2,182.1 209.1,182.1 209.1,182.1 207.6,180.5 207.6,180.5 208.8,179.3 207.2,177.7 206.0,178.9 206.0,178.9 204.4,177.4 204.4,177.4 204.4,177.4 204.4,177.4 204.4,177.4 202.7,175.9 201.6,177.3 203.2,178.7 202.1,180.0 201.0,181.2 199.4,179.8 199.4,179.8 199.4,179.8 199.4,179.8 199.4,179.8 197.8,178.5 197.8,178.5 197.8,178.5 197.8,178.5 197.8,178.5 196.1,177.2 196.1,177.2 196.1,177.2 196.1,177.2 196.1,177.2 194.4,176.0 193.5,177.3 191.8,176.2 191.8,176.2 191.8,176.2 191.8,176.2 191.8,176.2 190.1,175.1 190.1,175.1 190.1,175.1 190.1,175.1 190.1,175.1 188.4,174.0 188.4,174.0 188.3,174.0 188.3,174.0 188.3,174.0 186.6,173.0 186.6,173.0 186.6,173.0 186.6,173.0 186.6,173.0 184.8,172.0 184.8,172.0 184.8,172.0 184.8,172.0 184.8,172.0 183.0,171.1 183.0,171.1 183.7,169.6 181.8,168.7 181.8,168.7 182.5,167.2 183.2,165.6 183.2,165.6 183.9,164.1 184.6,162.5 186.7,163.5 187.4,161.9 188.2,160.4 188.9,158.9 186.7,157.8 186.7,157.8 186.7,157.8 186.7,157.8 186.7,157.8 184.5,156.9 185.2,155.3 182.9,154.4 182.9,154.4 182.9,154.4 182.9,154.4 182.9,154.4 180.6,153.5 180.6,153.5 180.6,153.5 180.5,153.5 180.5,153.5 178.2,152.7 178.2,152.7 178.2,152.7 178.2,152.7 178.2,152.7 175.9,152.0 175.9,152.0 175.9,152.0 175.8,152.0 175.8,152.0 173.5,151.3 173.5,151.3 173.5,151.3 173.5,151.3 173.5,151.3 171.1,150.7 171.1,150.7 171.1,150.7 171.1,150.7 171.1,150.7 168.7,150.2 168.7,150.2 168.7,150.2 168.7,150.2 168.7,150.2 166.3,149.7 166.3,149.7 166.3,149.7 166.2,149.7 166.2,149.7 163.8,149.3 163.8,149.3 163.8,149.3 163.8,149.3 163.8,149.3 161.4,149.0 161.4,149.0 161.4,149.0 161.4,149.0 161.4,149.0 158.9,148.7 158.9,148.7 158.9,148.7 158.9,148.7 158.9,148.7 156.5,148.6 156.5,148.6 156.5,148.6 156.4,148.6 156.4,148.6 154.0,148.4 154.0,148.4 154.0,148.4 154.0,148.4 154.0,148.4 151.5,148.4 151.5,148.4 151.5,148.4 151.5,148.4 151.5,148.4 149.0,148.4 149.1,150.1 149.1,150.1 146.7,150.2 146.7,150.2 146.7,150.2 146.6,150.2 146.6,150.2 144.3,150.3 144.3,150.3 144.2,150.3 144.2,150.3 144.2,150.3 141.8,150.6 142.0,152.2 139.7,152.5 139.7,152.5 139.7,152.5 139.6,152.5 139.6,152.5 137.3,152.9 137.3,152.9 137.3,152.9 137.3,152.9 137.3,152.9 135.0,153.3 135.3,155.0 135.3,155.0 133.0,155.4 133.0,155.4 133.0,155.4 133.0,155.4 133.0,155.4 130.8,156.0 130.8,156.0 130.7,156.0 130.7,156.0 130.7,156.0 128.5,156.5 128.5,156.5 128.5,156.5 128.5,156.6 128.5,156.6 126.3,157.2 126.3,157.2 126.3,157.2 126.2,157.2 126.2,157.2 124.1,157.9 124.1,157.9 124.0,157.9 124.0,157.9 124.0,157.9 121.9,158.7 121.9,158.7 121.9,158.7 121.8,158.7 121.8,158.7 119.7,159.5 119.7,159.5 119.7,159.5 119.7,159.6 119.7,159.6 117.5,160.5 118.2,162.0 118.2,162.0 118.2,162.0 116.2,162.9 116.2,162.9 116.1,162.9 116.1,163.0 116.1,163.0 114.1,163.9 113.3,162.4 111.3,163.5 111.3,163.5 111.3,163.5 111.3,163.5 111.3,163.5 109.3,164.6 109.3,164.6 109.2,164.6 109.2,164.7 109.2,164.7 107.3,165.8 107.3,165.8 107.3,165.8 106.4,164.4 104.3,165.7 105.3,167.1 103.4,168.4 103.4,168.4 103.3,168.4 103.3,168.4 103.3,168.4 101.4,169.7 102.5,171.1 102.5,171.1 102.5,171.1 100.7,172.5 100.7,172.5 100.6,172.5 100.6,172.5 100.6,172.5 98.9,173.9 98.9,173.9 98.9,173.9 98.9,173.9 98.9,173.9 97.1,175.4 98.2,176.7 98.2,176.7 96.6,178.1 96.6,178.1 96.6,178.2 96.6,178.2 96.6,178.2 95.0,179.7 95.0,179.7 95.0,179.7 95.0,179.7 95.0,179.7 93.4,181.3 93.4,181.3 93.4,181.3 93.4,181.3 93.4,181.3 91.9,182.9 93.1,184.1 93.1,184.1 93.1,184.1 91.7,185.7 91.7,185.7 91.7,185.7 91.7,185.7 91.7,185.7 90.3,187.4 90.3,187.4Z" fill="#30123b" fill-rule="evenodd"/>
<path d="M94.5,195.8 93.4,197.4 93.4,197.4 93.4,197.4 93.4,197.4 93.4,197.4 92.3,199.0 92.3,199.0 92.3,199.0 92.3,199.0 92.3,199.0 91.3,200.7 91.3,200.7 91.3,200.7 91.3,200.7 91.3,200.7 90.3,202.4 90.3,202.4 90.3,202.4 90.3,202.4 90.3,202.4 89.3,204.1 89.3,204.1 89.3,204.1 89.3,204.1 89.3,204.1 88.5,205.8 88.5,205.8 88.5,205.8 88.4,205.8 88.4,205.8 87.6,207.5 87.6,207.5 87.6,207.6 87.6,207.6 87.6,207.6 86.8,209.3 88.4,210.0 88.4,210.0 87.7,211.8 89.2,212.4 89.2,212.4 89.2,212.4 88.6,214.1 88.6,214.1 88.6,214.1 88.6,214.1 88.6,214.1 88.0,215.9 89.6,216.4 89.0,218.1 90.7,218.6 90.2,220.3 90.2,220.3 90.2,220.3 90.2,220.3 90.2,220.3 89.7,222.0 89.7,222.0 89.7,222.0 89.7,222.0 89.7,222.0 89.4,223.7 89.4,223.7 89.4,223.7 89.4,223.7 89.4,223.7 89.0,225.4 89.0,225.4 89.0,225.4 89.0,225.5 89.0,225.5 88.7,227.2 88.7,227.2 88.7,227.2 88.7,227.2 88.7,227.2 88.5,228.9 88.5,228.9 88.5,228.9 88.5,228.9 88.5,228.9 88.3,230.6 88.3,230.6 88.3,230.7 88.3,230.7 88.3,230.7 88.1,232.4 89.8,232.5 89.8,232.5 89.7,234.2 89.7,234.2 89.7,234.2 89.7,234.2 89.7,234.2 89.7,235.9 89.7,235.9 89.7,235.9 89.7,236.0 89.7,236.0 89.7,237.6 89.7,237.6 89.7,237.7 89.7,237.7 89.7,237.7 89.7,239.4 89.7,239.4 89.7,239.4 89.7,239.4 89.7,239.4 89.8,241.1 89.8,241.1 89.8,241.1 89.8,241.1 89.8,241.1 90.0,242.8 90.0,242.8 90.0,242.8 90.0,242.8 90.0,242.8 90.2,244.5 90.2,244.5 90.2,244.5 90.2,244.5 90.2,244.5 90.4,246.2 90.4,246.2 90.4,246.2 90.4,246.2 90.4,246.2 90.7,247.8 90.7,247.8 90.7,247.9 90.7,247.9 90.7,247.9 91.0,249.5 91.0,249.5 91.0,249.5 91.0,249.5 91.0,249.5 91.4,251.2 91.4,251.2 91.4,251.2 91.4,251.2 91.4,251.2 91.8,252.8 91.8,252.8 91.8,252.9 91.8,252.9 91.8,252.9 92.3,254.5 92.3,254.5 92.3,254.5 92.3,254.5 92.3,254.5 92.8,256.1 92.8,256.1 92.8,256.1 92.8,256.1 92.8,256.1 93.4,257.7 93.4,257.7 93.4,257.7 93.4,257.7 93.4,257.7 94.0,259.3 94.0,259.3 94.0,259.3 94.0,259.3 94.0,259.3 94.6,260.9 93.1,261.6 93.8,263.2 93.8,263.2 93.8,263.2 93.8,263.2 93.8,263.2 94.5,264.8 94.5,264.8 94.5,264.8 94.5,264.8 94.5,264.8 95.3,266.3 95.3,266.3 95.3,266.3 95.4,266.4 95.4,266.4 96.2,267.9 96.2,267.9 96.2,267.9 96.2,267.9 96.2,267.9 97.1,269.4 97.1,269.4 97.1,269.4 97.1,269.4 97.1,269.4 98.0,270.9 98.0,270.9 98.0,270.9 98.0,270.9 98.0,270.9 99.0,272.3 97.6,273.3 98.6,274.8 98.6,274.8 98.6,274.8 98.6,274.8 98.6,274.8 99.7,276.2 99.7,276.2 99.7,276.2 99.7,276.2 99.7,276.2 100.8,277.6 100.8,277.6 99.5,278.7 100.7,280.1 100.7,280.1 100.7,280.1 100.7,280.1 100.7,280.1 101.9,281.5 101.9,281.5 101.9,281.5 101.9,281.5 101.9,281.5 103.2,282.9 103.2,282.9 103.2,282.9 103.2,282.9 103.2,282.9 104.5,284.2 104.5,284.2 104.5,284.2 104.5,284.2 104.5,284.2 105.8,285.5 104.7,286.7 106.1,288.0 106.1,288.0 106.1,288.0 106.1,288.0 106.1,288.0 107.5,289.2 107.5,289.2 107.5,289.2 107.6,289.2 107.6,289.2 109.0,290.4 109.0,290.4 109.0,290.4 109.0,290.4 109.0,290.4 110.5,291.5 110.5,291.5 110.5,291.5 110.5,291.6 110.5,291.6 112.1,292.6 112.1,292.6 112.1,292.7 112.1,292.7 112.1,292.7 113.6,293.7 113.6,293.7 113.7,293.7 113.7,293.7 113.7,293.7 115.2,294.7 115.2,294.7 115.3,294.7 115.3,294.7 115.3,294.7 116.9,295.7 116.9,295.7 116.9,295.7 116.9,295.7 116.9,295.7 118.5,296.6 118.5,296.6 118.5,296.6 118.6,296.6 118.6,296.6 120.2,297.5 120.2,297.5 120.2,297.5 120.2,297.5 120.2,297.5 121.9,298.3 121.9,298.3 121.9,298.3 122.0,298.4 122.0,298.4 123.7,299.1 123.7,299.1 123.7,299.1 123.7,299.1 123.7,299.1 125.4,299.9 125.4,299.9 125.4,299.9 125.4,299.9 125.4,299.9 127.2,300.5 127.2,300.5 127.2,300.6 127.2,300.6 127.2,300.6 129.0,301.2 129.0,301.2 129.0,301.2 129.0,301.2 129.0,301.2 130.8,301.8 130.8,301.8 130.8,301.8 130.8,301.8 130.8,301.8 132.6,302.3 132.6,302.3 132.6,302.3 132.6,302.3 132.6,302.3 134.4,302.8 134.4,302.8 134.4,302.8 134.5,302.8 134.5,302.8 136.3,303.2 136.3,303.2 136.3,303.2 136.3,303.2 136.3,303.2 138.1,303.6 138.1,303.6 138.2,303.6 138.2,303.6 138.2,303.6 140.0,303.9 140.0,303.9 140.0,303.9 140.0,303.9 140.0,303.9 141.9,304.2 141.9,304.2 141.9,304.2 141.9,304.2 141.9,304.2 143.8,304.4 143.8,304.4 143.8,304.4 143.8,304.4 143.8,304.4 145.7,304.6 145.7,304.6 145.7,304.6 145.7,304.6 145.7,304.6 147.6,304.7 147.6,304.7 147.6,304.7 147.6,304.7 147.6,304.7 149.5,304.8 149.5,304.8 149.5,304.8 149.5,304.8 149.5,304.8 151.4,304.8 151.4,304.8 151.4,304.8 151.4,304.8 151.4,304.8 153.3,304.8 153.3,304.8 153.3,304.8 153.3,304.8 153.3,304.8 155.2,304.7 155.2,304.7 155.2,304.7 155.2,304.7 155.2,304.7 157.1,304.5 157.1,304.5 157.1,304.5 157.1,304.5 157.1,304.5 158.9,304.3 158.9,304.3 159.0,304.3 159.0,304.3 159.0,304.3 160.8,304.1 160.8,304.1 160.8,304.1 160.9,304.1 160.8,304.1 162.7,303.8 162.7,303.8 162.7,303.8 162.7,303.8 162.7,303.8 164.6,303.4 164.6,303.4 164.6,303.4 164.6,303.4 164.6,303.4 166.4,303.0 166.4,303.0 166.4,303.0 166.4,303.0 166.4,303.0 168.3,302.6 168.3,302.6 168.3,302.6 168.3,302.6 168.3,302.6 170.1,302.1 170.1,302.1 170.1,302.1 170.1,302.0 170.1,302.0 171.9,301.5 171.9,301.5 171.9,301.5 171.9,301.5 171.9,301.5 173.7,300.9 173.7,300.9 173.7,300.9 173.7,300.9 173.7,300.9 175.5,300.2 175.5,300.2 175.5,300.2 175.5,300.2 175.5,300.2 177.2,299.5 177.2,299.5 177.3,299.5 177.3,299.5 177.3,299.5 179.0,298.7 179.0,298.8 179.0,298.7 179.0,298.7 179.0,298.7 180.7,297.9 180.7,297.9 180.7,297.9 180.7,297.9 180.7,297.9 182.4,297.1 182.4,297.1 182.4,297.1 182.4,297.1 182.4,297.1 184.1,296.2 184.1,296.2 184.1,296.2 184.1,296.2 184.1,296.2 185.7,295.2 185.7,295.2 185.7,295.2 185.7,295.2 185.7,295.2 187.3,294.2 187.3,294.2 187.3,294.2 187.4,294.2 187.4,294.2 188.9,293.2 188.9,293.2 188.9,293.2 188.9,293.2 188.9,293.2 190.5,292.1 190.5,292.1 190.5,292.1 190.5,292.1 190.5,292.1 192.0,291.0 192.0,291.0 192.0,291.0 192.0,291.0 192.0,291.0 193.5,289.8 193.5,289.8 193.5,289.8 193.5,289.8 193.5,289.8 195.0,288.6 195.0,288.6 195.0,288.6 195.0,288.6 195.0,288.6 196.4,287.4 196.4,287.4 196.4,287.3 196.4,287.3 196.4,287.3 197.8,286.1 197.8,286.1 197.8,286.1 197.8,286.0 197.8,286.0 199.2,284.7 199.2,284.7 199.2,284.7 199.2,284.7 199.2,284.7 200.5,283.4 201.7,284.5 203.0,283.1 203.0,283.1 203.0,283.1 203.0,283.1 203.0,283.1 204.3,281.6 204.3,281.6 204.3,281.6 204.3,281.6 204.3,281.6 205.5,280.1 205.5,280.1 205.5,280.1 205.5,280.1 205.5,280.1 206.7,278.6 206.7,278.6 206.7,278.6 206.7,278.6 206.7,278.6 207.9,277.0 207.9,277.0 207.9,277.0 207.9,277.0 207.9,277.0 209.0,275.4 209.0,275.4 209.0,275.4 209.0,275.4 209.0,275.4 210.0,273.8 211.5,274.7 212.5,273.0 212.5,273.0 212.5,272.9 212.5,272.9 212.5,272.9 213.5,271.2 213.5,271.2 213.5,271.2 213.5,271.2 213.5,271.2 214.4,269.5 214.4,269.5 214.4,269.4 214.4,269.4 214.4,269.4 215.3,267.7 215.3,267.7 215.3,267.7 215.3,267.6 215.3,267.6 216.1,265.9 216.1,265.9 216.1,265.8 216.2,265.8 216.2,265.8 216.9,264.0 216.9,264.0 216.9,264.0 216.9,264.0 216.9,264.0 217.7,262.2 217.7,262.2 217.7,262.2 217.7,262.1 217.7,262.1 218.3,260.3 219.9,260.9 220.6,258.9 220.6,258.9 220.6,258.9 220.6,258.9 220.6,258.9 221.2,257.0 221.2,257.0 221.2,257.0 221.2,256.9 221.2,256.9 221.7,255.0 221.7,255.0 221.7,255.0 221.7,255.0 221.7,255.0 222.2,253.0 222.2,253.0 222.2,253.0 222.2,253.0 222.2,253.0 222.6,251.0 222.6,251.0 222.6,251.0 222.6,251.0 222.6,251.0 223.0,249.0 223.0,249.0 223.0,249.0 223.0,249.0 223.0,249.0 223.3,247.0 223.3,247.0 223.3,247.0 223.3,247.0 223.3,247.0 223.6,245.0 223.6,245.0 223.6,245.0 223.6,244.9 223.6,244.9 223.8,242.9 223.8,242.9 225.5,243.1 225.6,241.0 225.6,241.0 225.6,241.0 225.6,241.0 225.6,241.0 225.7,238.9 225.7,238.9 225.7,238.9 225.7,238.9 225.7,238.9 225.7,236.8 225.7,236.8 225.7,236.8 225.7,236.8 225.7,236.8 225.7,234.7 225.7,234.7 225.7,234.7 225.7,234.7 225.7,234.7 225.6,232.6 225.6,232.6 225.6,232.6 225.6,232.6 225.6,232.6 225.5,230.6 225.5,230.6 225.5,230.5 225.5,230.5 225.5,230.5 225.3,228.5 225.3,228.5 225.3,228.5 225.3,228.4 225.3,228.4 225.0,226.4 225.0,226.4 225.0,226.4 225.0,226.4 225.0,226.4 224.7,224.3 224.7,224.3 224.7,224.3 224.7,224.3 224.7,224.3 224.3,222.3 224.3,222.3 224.3,222.3 224.3,222.3 224.3,222.3 223.9,220.2 223.9,220.2 223.9,220.2 223.9,220.2 223.9,220.2 223.4,218.2 223.4,218.2 223.4,218.2 223.4,218.2 223.4,218.2 222.8,216.2 222.8,216.2 222.8,216.2 222.8,216.2 222.8,216.2 222.2,214.2 220.6,214.7 220.6,214.7 220.0,212.8 220.0,212.8 220.0,212.8 219.9,212.7 219.9,212.7 219.3,210.8 219.3,210.8 219.3,210.8 219.2,210.8 219.2,210.8 218.5,208.9 218.5,208.9 218.5,208.9 218.5,208.9 218.5,208.9 217.7,207.1 217.7,207.1 217.7,207.1 217.7,207.0 217.7,207.0 216.8,205.2 216.8,205.2 216.8,205.2 216.8,205.2 216.8,205.2 215.9,203.4 215.9,203.4 215.9,203.4 215.9,203.4 215.9,203.4 215.0,201.6 215.0,201.6 215.0,201.6 215.0,201.6 215.0,201.6 214.0,199.8 214.0,199.8 214.0,199.8 214.0,199.8 214.0,199.8 212.9,198.1 212.9,198.1 212.9,198.1 212.9,198.0 212.9,198.0 211.8,196.3 211.8,196.3 211.8,196.3 211.8,196.3 211.8,196.3 210.7,194.7 210.7,194.7 210.6,194.7 210.6,194.6 210.6,194.6 209.5,193.0 209.5,193.0 209.4,193.0 209.4,193.0 209.4,193.0 208.2,191.4 208.2,191.4 208.2,191.4 208.2,191.4 208.2,191.4 206.9,189.8 206.9,189.8 206.9,189.8 206.9,189.8 206.9,189.8 205.6,188.3 205.6,188.3 205.6,188.3 205.6,188.2 205.6,188.2 204.2,186.8 204.2,186.8 204.2,186.7 204.2,186.7 204.2,186.7 202.8,185.3 202.8,185.3 202.8,185.3 202.8,185.3 202.8,185.3 201.3,183.9 201.3,183.9 201.3,183.8 201.3,183.8 201.3,183.8 199.8,182.5 201.0,181.2 199.4,179.8 199.4,179.8 199.4,179.8 199.4,179.8 199.4,179.8 197.8,178.5 197.8,178.5 197.8,178.5 197.8,178.5 197.8,178.5 196.1,177.2 196.1,177.2 196.1,177.2 196.1,177.2 196.1,177.2 194.4,176.0 193.5,177.3 193.5,177.3 191.8,176.2 191.8,176.2 191.8,176.2 191.8,176.2 191.8,176.2 190.1,175.1 190.1,175.1 190.1,175.1 190.1,175.1 190.1,175.1 188.4,174.0 188.4,174.0 188.3,174.0 188.3,174.0 188.3,174.0 186.6,173.0 186.6,173.0 186.6,173.0 186.6,173.0 186.6,173.0 184.8,172.0 184.8,172.0 184.8,172.0 184.8,172.0 184.8,172.0 183.0,171.1 183.0,171.1 183.7,169.6 181.8,168.7 182.5,167.2 183.2,165.6 181.2,164.7 181.2,164.7 181.2,164.7 181.2,164.7 181.2,164.7 179.2,163.9 179.2,163.9 179.2,163.9 179.2,163.9 179.2,163.9 177.2,163.1 177.2,163.1 177.1,163.1 177.1,163.1 177.1,163.1 175.1,162.4 175.6,160.8 173.5,160.1 173.5,160.1 173.5,160.1 173.4,160.1 173.4,160.1 171.3,159.5 171.3,159.5 171.3,159.5 171.3,159.5 171.3,159.5 169.2,159.0 169.2,159.0 169.1,159.0 169.1,159.0 169.1,159.0 167.0,158.5 167.0,158.5 167.0,158.5 167.0,158.5 167.0,158.5 164.8,158.1 164.8,158.1 164.8,158.1 164.8,158.1 164.8,158.1 162.6,157.7 162.6,157.7 162.6,157.7 162.6,157.7 162.6,157.7 160.4,157.4 160.4,157.4 160.4,157.4 160.3,157.4 160.3,157.4 158.2,157.2 158.2,157.2 158.1,157.2 158.1,157.2 158.1,157.2 155.9,157.0 155.9,157.0 155.9,157.0 155.9,157.0 155.9,157.0 153.7,156.9 153.6,158.6 151.5,158.6 151.5,158.6 151.4,158.6 151.4,158.6 151.4,158.6 149.3,158.6 149.3,158.6 149.3,158.6 149.2,158.6 149.2,158.6 147.1,158.7 147.1,158.7 147.1,158.7 147.1,158.7 147.1,158.7 144.9,158.8 145.0,160.5 145.0,160.5 145.0,160.5 142.9,160.7 142.9,160.7 142.9,160.7 142.9,160.7 142.9,160.7 140.8,161.0 140.8,161.0 140.8,161.0 140.8,161.0 140.8,161.0 138.7,161.3 138.7,161.3 138.7,161.3 138.7,161.3 138.7,161.3 136.6,161.6 136.6,161.6 136.6,161.6 136.5,161.6 136.5,161.6 134.5,162.1 134.8,163.7 134.8,163.7 132.8,164.2 132.8,164.2 132.8,164.2 132.8,164.2 132.8,164.2 130.8,164.7 130.8,164.7 130.8,164.7 130.8,164.7 130.8,164.7 128.8,165.3 128.8,165.3 128.8,165.3 128.8,165.3 128.8,165.3 126.8,166.0 126.8,166.0 126.8,166.0 126.8,166.0 126.8,166.0 124.8,166.7 125.4,168.3 125.4,168.3 123.5,169.0 123.5,169.0 123.5,169.0 123.5,169.0 123.5,169.0 121.6,169.8 121.6,169.8 121.6,169.8 121.6,169.8 121.6,169.8 119.8,170.6 119.8,170.6 119.8,170.6 119.8,170.6 119.8,170.6 117.9,171.5 117.9,171.5 117.9,171.5 117.9,171.5 117.9,171.5 116.1,172.5 116.1,172.5 116.1,172.5 116.1,172.5 116.1,172.5 114.3,173.5 115.2,175.0 115.2,175.0 113.5,176.0 113.5,176.0 113.5,176.0 113.5,176.0 113.5,176.0 111.8,177.0 111.8,177.0 111.8,177.0 111.8,177.0 111.8,177.0 110.2,178.1 110.2,178.1 110.1,178.2 110.1,178.2 110.1,178.2 108.5,179.3 108.5,179.3 108.5,179.3 108.5,179.3 108.5,179.3 106.9,180.5 106.9,180.5 106.9,180.5 106.9,180.5 106.9,180.5 105.4,181.8 105.4,181.8 105.4,181.8 105.4,181.8 105.4,181.8 103.9,183.1 103.9,183.1 103.9,183.1 103.8,183.1 103.8,183.1 102.4,184.4 102.4,184.4 102.4,184.4 102.4,184.4 102.4,184.4 100.9,185.8 102.1,187.0 100.8,188.4 100.8,188.4 100.7,188.4 100.7,188.4 100.7,188.4 99.4,189.8 99.4,189.8 99.4,189.8 99.4,189.8 99.4,189.8 98.1,191.2 98.1,191.2 98.1,191.2 98.1,191.3 98.1,191.3 96.9,192.7 96.9,192.7 96.9,192.7 96.9,192.7 96.9,192.7 95.7,194.2 95.7,194.2 95.7,194.3 95.7,194.3 95.7,194.3 94.5,195.8 94.5,195.8 94.5,195.8 94.5,195.8Z" fill="#3e3891" fill-rule="evenodd"/>
<path d="M98.3,196.3 97.2,197.8 98.6,198.8 98.6,198.8 97.6,200.3 97.6,200.3 97.6,200.3 97.6,200.3 97.6,200.3 96.6,201.8 96.6,201.8 96.6,201.8 96.6,201.8 96.6,201.8 95.6,203.3 95.6,203.3 95.6,203.3 95.6,203.3 95.6,203.3 94.7,204.9 94.7,204.9 94.7,204.9 94.7,204.9 94.7,204.9 93.9,206.5 93.8,206.5 93.8,206.5 93.8,206.5 93.8,206.5 93.0,208.1 93.0,208.1 93.0,208.1 93.0,208.1 93.0,208.1 92.2,209.7 92.2,209.7 92.2,209.7 92.2,209.7 92.2,209.7 91.5,211.4 93.1,212.0 92.4,213.6 92.4,213.6 92.4,213.6 92.4,213.6 92.4,213.6 91.8,215.3 93.4,215.9 93.4,215.9 92.8,217.5 92.8,217.5 92.8,217.5 92.8,217.5 92.8,217.5 92.3,219.1 93.9,219.6 93.9,219.6 93.5,221.2 93.5,221.2 93.5,221.2 93.5,221.2 93.5,221.2 93.1,222.8 93.1,222.8 93.0,222.8 93.0,222.8 93.0,222.8 92.7,224.4 94.3,224.8 94.0,226.4 94.0,226.4 94.0,226.4 94.0,226.4 94.0,226.4 93.8,227.9 93.8,227.9 93.8,228.0 93.8,228.0 93.8,228.0 93.5,229.5 93.5,229.5 93.5,229.6 93.5,229.6 93.5,229.6 93.4,231.1 93.4,231.1 93.4,231.2 93.4,231.2 93.4,231.2 93.2,232.8 93.2,232.8 93.2,232.8 93.2,232.8 93.2,232.8 93.1,234.4 93.1,234.4 93.1,234.4 93.1,234.4 93.1,234.4 93.1,236.0 93.1,236.0 93.1,236.0 93.1,236.0 93.1,236.0 93.1,237.6 94.8,237.6 94.8,237.6 94.8,239.1 94.8,239.1 94.8,239.2 94.8,239.2 94.8,239.2 94.9,240.7 94.9,240.7 94.9,240.7 94.9,240.7 94.9,240.7 95.0,242.3 95.0,242.3 95.0,242.3 95.0,242.3 95.0,242.3 95.2,243.8 95.2,243.8 95.2,243.8 95.2,243.8 95.2,243.8 95.4,245.4 95.4,245.4 95.4,245.4 95.4,245.4 95.4,245.4 95.7,246.9 95.7,246.9 95.7,246.9 95.7,246.9 95.7,246.9 96.0,248.5 96.0,248.5 96.0,248.5 96.0,248.5 96.0,248.5 96.4,250.0 96.4,250.0 96.4,250.0 96.4,250.0 96.4,250.0 96.7,251.5 96.7,251.5 96.7,251.5 96.7,251.5 96.7,251.5 97.2,253.0 97.2,253.0 97.2,253.0 97.2,253.0 97.2,253.0 97.6,254.5 97.6,254.5 97.6,254.5 97.7,254.5 97.7,254.5 98.2,256.0 98.2,256.0 98.2,256.0 98.2,256.0 98.2,256.0 98.7,257.4 98.7,257.4 98.7,257.5 98.7,257.5 98.7,257.5 99.3,258.9 99.3,258.9 99.3,258.9 99.3,258.9 99.3,258.9 100.0,260.3 100.0,260.3 100.0,260.3 98.4,261.0 99.1,262.5 99.1,262.5 99.1,262.5 99.1,262.5 99.1,262.5 99.8,263.9 99.8,263.9 99.8,263.9 99.9,264.0 99.9,264.0 100.6,265.3 100.6,265.3 100.6,265.4 100.6,265.4 100.6,265.4 101.4,266.7 101.4,266.7 101.4,266.8 101.4,266.8 101.4,266.8 102.3,268.1 102.3,268.1 102.3,268.1 102.3,268.1 102.3,268.1 103.2,269.5 101.8,270.4 102.7,271.8 102.7,271.8 102.7,271.8 102.8,271.8 102.8,271.8 103.7,273.1 103.7,273.1 103.7,273.1 103.8,273.1 103.8,273.1 104.8,274.4 103.5,275.5 104.5,276.8 104.5,276.8 104.6,276.8 104.6,276.8 104.6,276.8 105.7,278.1 105.7,278.1 104.4,279.2 105.6,280.5 105.6,280.5 105.6,280.5 105.6,280.5 105.6,280.5 106.9,281.7 106.9,281.7 106.9,281.8 106.9,281.8 106.9,281.8 108.1,283.0 108.1,283.0 108.1,283.0 108.2,283.0 108.2,283.0 109.4,284.1 109.4,284.1 109.5,284.1 109.5,284.2 109.5,284.1 110.8,285.3 110.8,285.3 110.8,285.3 110.8,285.3 110.8,285.3 112.2,286.4 112.2,286.4 112.2,286.4 112.2,286.4 112.2,286.4 113.6,287.4 113.6,287.4 113.6,287.4 113.6,287.5 113.6,287.5 115.0,288.5 115.0,288.5 115.0,288.5 115.0,288.5 115.0,288.5 116.4,289.4 116.4,289.4 116.4,289.4 116.5,289.5 116.5,289.5 117.9,290.4 117.9,290.4 117.9,290.4 117.9,290.4 117.9,290.4 119.4,291.3 119.4,291.3 119.4,291.3 119.5,291.3 119.5,291.3 121.0,292.1 121.0,292.1 121.0,292.1 121.0,292.2 121.0,292.2 122.5,293.0 121.8,294.5 123.4,295.3 123.4,295.3 123.4,295.3 123.4,295.3 123.4,295.3 125.0,296.0 125.0,296.0 125.0,296.0 125.0,296.0 125.0,296.0 126.7,296.7 126.7,296.7 126.7,296.7 126.7,296.7 126.7,296.7 128.4,297.4 128.4,297.4 128.4,297.4 128.4,297.4 128.4,297.4 130.1,298.0 130.1,298.0 130.1,298.0 130.1,298.0 130.1,298.0 131.8,298.5 131.8,298.5 131.8,298.5 131.8,298.5 131.8,298.5 133.5,299.0 133.5,299.0 133.5,299.0 133.5,299.0 133.5,299.0 135.3,299.5 135.3,299.5 135.3,299.5 135.3,299.5 135.3,299.5 137.0,299.9 137.0,299.9 137.0,299.9 137.0,299.9 137.0,299.9 138.8,300.3 138.8,300.3 138.8,300.3 138.8,300.3 138.8,300.3 140.6,300.6 140.6,300.6 140.6,300.6 140.6,300.6 140.6,300.6 142.3,300.9 142.3,300.9 142.4,300.9 142.4,300.9 142.4,300.9 144.1,301.1 144.1,301.1 144.1,301.1 144.2,301.1 144.2,301.1 145.9,301.2 145.8,302.9 147.6,303.0 147.6,303.0 147.7,303.0 147.7,303.0 147.7,303.0 149.5,303.1 149.5,303.1 149.5,303.1 149.5,303.1 149.5,303.1 151.3,303.1 151.3,303.1 151.4,303.1 151.4,303.1 151.4,303.1 153.2,303.1 153.2,303.1 153.2,303.1 153.2,303.1 153.2,303.1 155.1,303.0 155.1,303.0 155.1,303.0 155.1,303.0 155.1,303.0 156.9,302.8 156.9,302.8 156.9,302.8 156.9,302.8 156.9,302.8 158.7,302.7 158.7,302.7 158.8,302.7 158.8,302.7 158.8,302.7 160.6,302.4 160.6,302.4 160.6,302.4 160.6,302.4 160.6,302.4 162.4,302.1 162.4,302.1 162.4,302.1 162.4,302.1 162.4,302.1 164.2,301.8 164.2,301.8 164.2,301.8 164.2,301.8 164.2,301.8 166.0,301.4 166.0,301.4 166.0,301.4 166.1,301.4 166.1,301.4 167.8,300.9 167.8,300.9 167.8,300.9 167.9,300.9 167.9,300.9 169.6,300.4 169.6,300.4 169.6,300.4 169.6,300.4 169.6,300.4 171.4,299.9 170.9,298.3 172.6,297.7 172.6,297.7 172.6,297.7 172.6,297.7 172.6,297.7 174.3,297.1 174.3,297.1 174.3,297.0 174.3,297.0 174.3,297.0 175.9,296.4 175.9,296.4 175.9,296.4 176.0,296.4 176.0,296.4 177.6,295.7 177.6,295.7 177.6,295.6 177.6,295.6 177.6,295.6 179.2,294.9 179.2,294.9 179.2,294.9 179.2,294.9 179.2,294.9 180.8,294.1 180.8,294.1 180.8,294.1 180.8,294.1 180.8,294.1 182.4,293.2 182.4,293.2 182.4,293.2 182.4,293.2 182.4,293.2 184.0,292.3 184.0,292.3 184.0,292.3 184.0,292.3 184.0,292.3 185.5,291.4 185.5,291.4 185.5,291.4 185.5,291.4 185.5,291.4 187.0,290.4 187.0,290.4 187.0,290.4 187.0,290.4 187.0,290.4 188.5,289.3 188.5,289.4 188.5,289.3 188.5,289.3 188.5,289.3 190.0,288.3 190.0,288.3 190.0,288.3 190.0,288.3 190.0,288.3 191.4,287.2 192.4,288.5 193.9,287.3 193.9,287.3 193.9,287.3 193.9,287.3 193.9,287.3 195.3,286.1 195.3,286.1 195.3,286.1 195.3,286.1 195.3,286.1 196.6,284.8 196.6,284.8 196.6,284.8 196.6,284.8 196.6,284.8 197.9,283.5 197.9,283.5 198.0,283.5 198.0,283.5 198.0,283.5 199.2,282.2 199.2,282.2 199.2,282.2 199.3,282.2 199.3,282.2 200.5,280.8 200.5,280.8 200.5,280.8 200.5,280.8 200.5,280.8 201.7,279.4 201.7,279.4 201.7,279.4 201.7,279.4 201.7,279.4 202.9,278.0 202.9,278.0 202.9,278.0 202.9,278.0 202.9,278.0 204.0,276.5 204.0,276.5 204.0,276.5 204.0,276.5 204.0,276.5 205.1,275.0 205.1,275.0 205.1,275.0 205.1,275.0 205.1,275.0 206.1,273.5 206.1,273.5 206.1,273.5 206.1,273.5 206.1,273.5 207.1,272.0 207.1,272.0 207.1,271.9 207.1,271.9 207.1,271.9 208.1,270.4 208.1,270.4 208.1,270.4 208.1,270.3 208.1,270.3 209.0,268.8 209.0,268.8 209.0,268.7 209.0,268.7 209.0,268.7 209.9,267.1 209.9,267.1 209.9,267.1 209.9,267.1 209.9,267.1 210.7,265.5 210.7,265.5 210.7,265.5 210.7,265.4 210.7,265.4 211.5,263.8 211.5,263.8 211.5,263.8 211.5,263.8 211.5,263.8 212.2,262.1 212.2,262.1 212.2,262.1 213.8,262.7 214.5,261.0 214.5,261.0 214.5,261.0 214.5,260.9 214.5,260.9 215.1,259.2 215.1,259.2 215.1,259.2 215.1,259.2 215.1,259.2 215.7,257.4 215.7,257.4 215.7,257.4 215.7,257.4 215.7,257.4 216.3,255.6 216.3,255.6 216.3,255.5 216.3,255.5 216.3,255.5 216.8,253.7 216.8,253.7 216.8,253.7 216.8,253.7 216.8,253.7 217.2,251.9 217.2,251.9 217.2,251.9 217.2,251.9 217.2,251.9 217.6,250.0 217.6,250.0 217.6,250.0 217.6,250.0 217.6,250.0 218.0,248.2 218.0,248.2 218.0,248.1 218.0,248.1 218.0,248.1 218.3,246.3 218.3,246.3 218.3,246.3 218.3,246.3 218.3,246.3 218.5,244.4 218.5,244.4 218.5,244.4 218.5,244.4 218.5,244.4 218.7,242.5 218.7,242.5 218.7,242.5 218.7,242.5 218.7,242.5 218.8,240.6 220.5,240.7 220.6,238.8 220.6,238.8 220.6,238.7 220.6,238.7 220.6,238.7 220.6,236.8 220.6,236.8 220.6,236.8 220.6,236.8 220.6,236.8 220.6,234.8 218.9,234.9 218.9,234.9 218.9,234.9 218.8,233.0 218.8,233.0 218.8,233.0 218.8,233.0 218.8,233.0 218.7,231.1 218.7,231.1 218.7,231.1 218.7,231.1 218.7,231.1 218.5,229.2 218.5,229.2 218.5,229.2 218.5,229.2 218.5,229.2 218.3,227.3 218.3,227.3 218.3,227.3 218.3,227.3 218.3,227.3 218.0,225.5 218.0,225.5 218.0,225.5 218.0,225.4 218.0,225.4 217.6,223.6 217.6,223.6 217.6,223.6 217.6,223.6 217.6,223.6 217.2,221.7 217.2,221.7 217.2,221.7 217.2,221.7 217.2,221.7 216.8,219.9 216.8,219.9 216.8,219.9 216.8,219.9 216.8,219.9 216.3,218.1 216.3,218.1 216.3,218.1 216.3,218.0 216.3,218.0 215.7,216.2 215.7,216.2 215.7,216.2 215.7,216.2 215.7,216.2 215.1,214.4 215.1,214.4 215.1,214.4 215.1,214.4 215.1,214.4 214.5,212.7 214.5,212.7 214.5,212.6 214.5,212.6 214.5,212.6 213.8,210.9 213.8,210.9 213.8,210.9 213.8,210.9 213.8,210.9 213.0,209.1 213.0,209.1 213.0,209.1 213.0,209.1 213.0,209.1 212.2,207.4 212.2,207.4 212.2,207.4 212.2,207.4 212.2,207.4 211.4,205.7 211.4,205.7 211.4,205.7 211.4,205.7 211.4,205.7 210.5,204.0 209.0,204.8 209.0,204.8 208.1,203.3 208.1,203.3 208.1,203.2 208.1,203.2 208.1,203.2 207.1,201.7 207.1,201.7 207.1,201.7 207.1,201.6 207.1,201.6 206.1,200.1 206.1,200.1 206.1,200.1 206.1,200.1 206.1,200.1 205.1,198.6 205.1,198.6 205.1,198.6 205.1,198.6 205.1,198.6 204.0,197.1 204.0,197.1 204.0,197.1 204.0,197.1 204.0,197.1 202.9,195.6 202.9,195.6 202.9,195.6 202.9,195.6 202.9,195.6 201.7,194.2 201.7,194.2 201.7,194.2 201.7,194.2 201.7,194.2 200.5,192.8 200.5,192.8 200.5,192.8 200.5,192.8 200.5,192.8 199.3,191.4 199.3,191.4 199.2,191.4 199.2,191.4 199.2,191.4 198.0,190.1 198.0,190.1 198.0,190.1 197.9,190.1 197.9,190.1 196.6,188.8 196.6,188.8 196.6,188.8 196.6,188.8 196.6,188.8 195.3,187.5 195.3,187.5 195.3,187.5 195.3,187.5 195.3,187.5 193.9,186.3 193.9,186.3 193.9,186.3 193.9,186.3 193.9,186.3 192.5,185.1 192.5,185.1 192.5,185.1 192.4,185.1 192.4,185.1 191.0,184.0 191.0,184.0 191.0,184.0 191.0,184.0 191.0,184.0 189.5,182.9 189.5,182.9 189.5,182.9 189.5,182.9 189.5,182.9 188.0,181.8 188.0,181.8 188.0,181.8 188.0,181.8 188.0,181.8 186.4,180.8 186.4,180.8 186.4,180.8 186.4,180.8 186.4,180.8 184.9,179.8 184.9,179.8 184.9,179.8 184.8,179.8 184.8,179.8 183.3,178.9 183.3,178.9 183.3,178.9 183.2,178.9 183.2,178.9 181.6,178.0 181.6,178.0 181.6,178.0 181.6,178.0 181.6,178.0 180.0,177.2 180.0,177.2 180.7,175.7 179.0,174.9 179.0,174.9 179.0,174.9 179.0,174.8 179.0,174.9 177.3,174.1 177.9,172.5 176.1,171.8 176.1,171.8 176.1,171.8 176.1,171.8 176.1,171.8 174.3,171.1 174.3,171.1 174.9,169.6 175.4,167.9 173.5,167.3 173.5,167.3 174.0,165.6 172.0,165.0 172.0,165.0 172.0,165.0 172.5,163.4 173.0,161.8 170.9,161.2 170.9,161.2 170.9,161.2 170.9,161.2 170.9,161.2 168.8,160.7 168.8,160.7 168.8,160.6 168.7,160.6 168.7,160.6 166.6,160.2 166.3,161.8 164.2,161.4 164.2,161.4 164.2,161.4 164.2,161.4 164.2,161.4 162.1,161.1 162.1,161.1 162.1,161.1 162.1,161.1 162.1,161.1 160.0,160.8 160.0,160.8 160.0,160.8 159.9,160.8 159.9,160.8 157.9,160.6 157.9,160.6 157.8,160.6 157.8,160.6 157.8,160.6 155.7,160.4 155.7,160.4 155.7,160.4 155.7,160.4 155.7,160.4 153.6,160.3 153.6,160.3 153.6,160.3 153.6,160.3 153.6,160.3 151.4,160.3 151.4,162.0 149.3,162.0 149.3,162.0 149.3,162.0 149.3,162.0 149.3,162.0 147.3,162.1 147.3,162.1 147.2,162.1 147.2,162.1 147.2,162.1 145.1,162.2 145.3,163.9 143.3,164.1 143.3,164.1 143.3,164.1 143.2,164.1 143.2,164.1 141.2,164.3 141.2,164.3 141.2,164.3 141.2,164.3 141.2,164.3 139.2,164.6 139.2,164.6 139.2,164.6 139.2,164.6 139.2,164.6 137.2,165.0 137.5,166.6 137.5,166.6 135.6,167.0 135.6,167.0 135.6,167.0 135.5,167.0 135.5,167.0 133.6,167.5 133.6,167.5 133.6,167.5 133.6,167.5 133.6,167.5 131.7,168.0 131.7,168.0 131.7,168.0 131.7,168.0 131.7,168.0 129.8,168.6 129.8,168.6 129.8,168.6 129.8,168.6 129.8,168.6 127.9,169.2 128.4,170.8 126.6,171.4 126.6,171.4 126.6,171.5 126.6,171.5 126.6,171.5 124.8,172.2 124.8,172.2 124.8,172.2 124.8,172.2 124.8,172.2 123.0,172.9 123.0,172.9 123.0,172.9 123.0,172.9 123.0,172.9 121.2,173.7 121.2,173.7 121.2,173.7 121.2,173.7 121.2,173.7 119.5,174.6 120.2,176.1 120.2,176.1 118.6,177.0 118.6,177.0 118.5,177.0 118.5,177.0 118.5,177.0 116.9,177.9 116.9,177.9 116.9,177.9 116.9,177.9 116.9,177.9 115.3,178.9 115.3,178.9 115.3,178.9 115.2,178.9 115.2,178.9 113.7,179.9 113.7,179.9 113.7,179.9 113.6,179.9 113.6,179.9 112.1,180.9 112.1,180.9 112.1,180.9 112.1,181.0 112.1,181.0 110.5,182.0 110.5,182.0 110.5,182.1 110.5,182.1 110.5,182.1 109.0,183.2 109.0,183.2 109.0,183.2 109.0,183.2 109.0,183.2 107.6,184.4 107.6,184.4 107.5,184.4 107.5,184.4 107.5,184.4 106.1,185.6 107.2,186.9 105.8,188.1 105.8,188.1 105.8,188.1 105.8,188.1 105.8,188.1 104.5,189.4 104.5,189.4 104.5,189.4 104.5,189.4 104.5,189.4 103.2,190.7 103.2,190.7 103.2,190.7 103.2,190.7 103.2,190.7 101.9,192.1 101.9,192.1 101.9,192.1 101.9,192.1 101.9,192.1 100.7,193.5 100.7,193.5 100.7,193.5 100.7,193.5 100.7,193.5 99.5,194.9 99.5,194.9 99.5,194.9 99.5,194.9 99.5,194.9 98.4,196.3 98.4,196.3 98.4,196.3 98.3,196.3Z" fill="#455ccf" fill-rule="evenodd"/>
<path d="M105.7,195.5 105.7,195.5 105.7,195.5 105.7,195.5 105.7,195.5 104.6,196.8 104.6,196.8 104.6,196.8 104.5,196.8 104.5,196.8 103.5,198.1 103.5,198.1 103.5,198.1 103.5,198.1 103.5,198.1 102.4,199.4 102.4,199.4 102.4,199.4 102.4,199.5 102.4,199.5 101.4,200.8 101.4,200.8 101.4,200.8 101.4,200.8 101.4,200.8 100.4,202.2 100.4,202.2 100.4,202.2 100.4,202.2 100.4,202.2 99.4,203.6 99.4,203.6 99.4,203.6 99.4,203.6 99.4,203.6 98.5,205.1 98.5,205.1 98.5,205.1 98.5,205.1 98.5,205.1 97.7,206.6 99.1,207.4 100.6,208.3 99.8,209.7 101.3,210.5 102.8,211.3 104.4,212.1 105.1,210.8 106.5,211.6 106.5,211.6 108.0,212.5 109.5,213.3 111.0,214.1 112.5,215.0 114.0,215.8 115.4,216.6 116.9,217.5 118.4,218.3 119.8,219.2 119.8,219.2 121.3,220.0 120.9,220.8 122.4,221.7 122.8,220.9 123.3,220.1 123.8,219.3 124.3,218.6 124.8,217.8 125.3,217.1 125.9,216.4 126.5,215.7 125.2,214.6 125.8,213.9 126.5,213.2 127.1,212.5 127.8,211.9 128.5,211.2 129.2,210.6 130.0,210.0 130.7,209.4 129.7,208.1 130.5,207.5 131.4,206.9 132.2,206.4 131.3,205.0 132.2,204.4 133.1,203.9 132.3,202.4 133.3,201.9 132.5,200.4 133.5,199.9 134.6,199.4 133.9,197.8 133.2,196.3 133.2,196.3 132.5,194.7 131.4,195.2 130.6,193.7 129.9,192.2 128.7,192.8 128.7,192.8 127.9,191.3 127.1,189.7 125.8,190.4 125.0,188.9 124.2,187.4 122.8,188.2 122.8,188.2 122.8,188.2 122.0,186.7 120.6,187.5 120.6,187.5 120.6,187.6 120.6,187.6 120.6,187.6 119.2,188.4 118.3,187.0 116.9,187.9 116.9,187.9 116.9,187.9 116.9,187.9 116.9,187.9 115.6,188.9 115.6,188.9 115.6,188.9 115.6,188.9 115.6,188.9 114.3,189.9 114.3,189.9 114.3,189.9 114.2,189.9 114.2,189.9 113.0,190.9 111.9,189.6 110.6,190.7 110.6,190.7 110.6,190.7 110.6,190.7 110.6,190.7 109.3,191.9 109.3,191.9 109.3,191.9 109.3,191.9 109.3,191.9 108.1,193.1 108.1,193.1 108.1,193.1 108.1,193.1 108.1,193.1 106.9,194.3 106.9,194.3 106.9,194.3 106.9,194.3 106.9,194.3Z" fill="#4680f6" fill-rule="evenodd"/>
<path d="M133.8,181.6 133.8,181.6 133.8,181.6 132.3,182.1 132.3,182.1 132.3,182.1 132.3,182.1 132.3,182.1 130.8,182.6 130.8,182.6 130.7,182.6 130.7,182.6 130.7,182.6 129.3,183.2 129.3,183.2 129.3,183.2 128.6,181.6 127.1,182.3 127.1,182.3 127.1,182.3 127.1,182.3 127.1,182.3 125.5,182.9 126.3,184.5 127.0,186.0 127.0,186.1 127.7,187.6 129.1,187.0 130.5,186.4 131.9,185.8 132.5,187.4 133.9,186.9 135.3,186.5 136.7,186.1 138.1,185.7 138.6,187.3 140.0,187.0 141.3,186.7 142.7,186.5 144.2,186.3 145.6,186.1 147.0,186.0 148.4,185.9 148.3,184.2 149.8,184.1 149.8,182.4 148.3,182.4 148.3,182.4 148.2,182.4 148.2,182.4 148.2,182.4 146.7,182.5 146.7,182.5 146.7,182.5 146.7,182.5 146.7,182.5 145.2,182.7 145.2,182.7 145.2,182.7 145.2,182.7 145.2,182.7 143.7,182.9 143.7,182.9 143.7,182.9 143.7,182.9 143.7,182.9 142.2,183.1 142.2,183.1 141.9,181.4 140.4,181.7 140.4,181.7 140.4,181.7 140.4,181.7 140.4,181.7 138.9,182.0 138.9,182.0 138.8,182.0 138.8,182.0 138.8,182.0 137.3,182.3 136.9,180.7 135.4,181.1 135.4,181.1 135.4,181.1 135.3,181.1 135.3,181.1 133.8,181.6 133.8,181.6Z" fill="#4680f6" fill-rule="evenodd"/>
<path d="M106.4,202.5 105.5,203.8 106.9,204.8 108.2,205.8 108.2,205.8 109.6,206.8 109.6,206.8 111.0,207.8 111.0,207.8 112.4,208.8 113.8,209.8 115.2,210.8 115.9,209.9 117.2,210.9 118.6,211.9 119.3,211.0 120.0,210.1 118.7,209.0 117.4,207.9 116.2,206.8 114.9,205.7 113.6,204.6 112.7,205.6 111.4,204.5 110.1,203.5 108.7,202.4 107.8,203.6Z" fill="#3ba0fd" fill-rule="evenodd"/>
<path d="M99.0,227.3 99.0,227.3 99.0,227.3 98.8,228.7 98.8,228.7 98.8,228.7 98.8,228.7 98.8,228.7 98.6,230.2 100.3,230.4 100.3,230.4 100.1,231.8 100.1,231.8 100.1,231.8 100.1,231.8 100.1,231.8 100.0,233.2 100.0,233.2 100.0,233.2 100.0,233.3 100.0,233.3 99.9,234.7 99.9,234.7 99.9,234.7 99.9,234.7 99.9,234.7 99.9,236.1 99.9,236.1 99.9,236.1 99.9,236.1 99.9,236.1 99.9,237.5 99.9,237.5 99.9,237.5 99.9,237.5 99.9,237.5 99.9,238.9 99.9,238.9 99.9,238.9 99.9,238.9 99.9,238.9 100.0,240.3 100.0,240.3 100.0,240.4 100.0,240.4 100.0,240.4 100.1,241.8 100.1,241.8 100.1,241.8 100.1,241.8 100.1,241.8 100.3,243.2 100.3,243.2 100.3,243.2 100.3,243.2 100.3,243.2 100.5,244.6 100.5,244.6 100.5,244.6 100.5,244.6 100.5,244.6 100.7,246.0 100.7,246.0 100.7,246.0 100.7,246.0 100.7,246.0 101.0,247.4 101.0,247.4 101.0,247.4 101.0,247.4 101.0,247.4 101.3,248.8 101.3,248.8 99.7,249.2 100.0,250.6 100.0,250.6 100.0,250.6 100.0,250.6 100.0,250.6 100.4,252.0 100.4,252.0 100.4,252.0 100.4,252.0 100.4,252.0 100.9,253.4 100.9,253.4 100.9,253.4 100.9,253.5 100.9,253.5 101.4,254.8 101.4,254.8 101.4,254.8 101.4,254.8 101.4,254.8 101.9,256.2 101.9,256.2 101.9,256.2 101.9,256.2 101.9,256.2 102.4,257.6 102.4,257.6 102.4,257.6 102.4,257.6 102.4,257.6 103.0,258.9 103.0,258.9 103.0,258.9 103.0,258.9 103.0,258.9 103.7,260.2 103.7,260.2 103.7,260.2 103.7,260.3 103.7,260.3 104.3,261.5 104.3,261.5 104.4,261.6 104.4,261.6 104.4,261.6 105.1,262.8 105.1,262.8 103.6,263.7 104.3,265.0 104.3,265.0 104.4,265.0 104.4,265.0 104.4,265.0 105.2,266.3 105.2,266.3 105.2,266.3 105.2,266.3 105.2,266.3 106.0,267.5 106.0,267.5 104.6,268.5 105.5,269.8 105.5,269.8 105.5,269.8 105.5,269.8 105.5,269.8 106.4,271.0 106.4,271.0 106.4,271.0 106.4,271.1 106.4,271.1 107.4,272.3 107.4,272.3 106.1,273.3 107.1,274.6 107.1,274.6 107.1,274.6 107.1,274.6 107.1,274.6 108.2,275.8 108.2,275.8 108.2,275.8 108.2,275.8 108.2,275.8 109.3,277.0 109.3,277.0 109.3,277.0 109.3,277.0 109.3,277.0 110.4,278.1 110.4,278.1 110.4,278.1 110.5,278.1 110.5,278.1 111.6,279.2 111.6,279.2 111.6,279.2 111.6,279.2 111.6,279.2 112.8,280.3 112.8,280.3 112.8,280.3 112.8,280.3 112.8,280.3 114.0,281.3 114.0,281.3 114.0,281.4 114.1,281.4 114.1,281.4 115.3,282.4 115.3,282.4 115.3,282.4 115.3,282.4 115.3,282.4 116.6,283.3 116.6,283.3 116.6,283.3 116.6,283.3 116.6,283.3 117.9,284.3 117.9,284.3 117.9,284.3 117.9,284.3 117.9,284.3 119.2,285.2 119.2,285.2 119.2,285.2 119.2,285.2 119.2,285.2 120.6,286.1 121.5,284.6 122.8,285.4 122.8,285.4 122.8,285.4 122.8,285.4 122.8,285.4 124.2,286.2 124.2,286.2 124.2,286.2 124.2,286.2 124.2,286.2 125.6,286.9 125.6,286.9 125.6,286.9 125.6,286.9 125.6,286.9 127.0,287.6 127.0,287.6 127.0,287.6 127.0,287.6 127.0,287.6 128.4,288.2 128.4,288.2 128.4,288.2 128.4,288.2 128.4,288.2 129.9,288.8 129.9,288.8 129.9,288.8 129.9,288.8 129.9,288.8 131.3,289.4 131.3,289.4 131.3,289.4 131.3,289.4 131.3,289.4 132.8,289.9 132.8,289.9 132.8,289.9 132.8,289.9 132.8,289.9 134.3,290.4 133.8,292.0 135.3,292.5 135.3,292.5 135.4,292.5 135.4,292.5 135.4,292.5 136.9,292.9 136.9,292.9 136.9,292.9 136.9,292.9 136.9,292.9 138.5,293.3 138.5,293.3 138.5,293.3 138.5,293.3 138.5,293.3 140.1,293.6 140.1,293.6 140.1,293.6 140.1,293.6 140.1,293.6 141.7,293.9 141.9,292.2 143.5,292.4 143.5,292.4 143.5,292.4 143.5,292.4 143.5,292.4 145.0,292.6 145.0,292.6 145.0,292.6 145.0,292.6 145.0,292.6 146.6,292.8 146.7,291.0 146.9,289.4 146.9,289.4 148.3,289.5 148.4,287.8 148.5,286.1 148.6,284.3 148.6,284.3 148.7,282.6 148.7,282.6 148.8,280.9 147.5,280.9 147.6,279.2 147.8,277.5 146.6,277.4 146.8,275.7 147.0,274.0 146.0,273.9 144.9,273.7 143.9,273.5 142.9,273.3 141.9,273.1 140.8,272.8 139.9,272.5 140.4,270.9 139.4,270.6 138.5,270.2 139.1,268.7 138.2,268.3 137.3,267.9 138.0,266.4 137.2,266.0 136.4,265.6 137.1,264.1 136.4,263.7 135.6,263.3 134.9,262.8 134.2,262.4 133.4,261.9 132.8,261.4 132.1,260.9 131.4,260.4 130.8,259.8 130.1,259.2 129.5,258.6 128.3,259.9 127.7,259.2 127.1,258.6 126.5,257.9 125.9,257.2 125.3,256.5 124.0,257.5 123.4,256.8 122.9,256.0 122.3,255.2 120.9,256.1 120.4,255.3 119.9,254.4 119.4,253.6 118.9,252.7 118.5,251.8 118.1,250.9 117.7,249.9 116.1,250.6 115.8,249.6 115.4,248.6 115.1,247.6 114.8,246.6 114.6,245.6 112.9,246.0 112.7,244.9 112.5,243.9 112.3,242.8 112.1,241.7 110.4,241.9 110.3,240.8 110.2,239.6 110.2,238.5 110.1,237.4 108.4,237.4 108.4,236.2 108.5,235.0 108.5,233.8 108.6,232.6 106.9,232.5 107.1,231.3 107.2,230.0 105.6,229.8 105.8,228.5 106.0,227.3 106.3,226.0 104.6,225.6 103.0,225.2 101.3,224.8 99.7,224.4 99.3,225.8 99.3,225.8 99.3,225.8 99.3,225.8 99.3,225.8 99.0,227.3 99.0,227.3Z" fill="#4680f6" fill-rule="evenodd"/>
<path d="M169.3,293.4 167.7,293.9 166.1,294.3 164.5,294.7 162.9,295.1 161.2,295.4 161.5,297.1 163.2,296.8 163.2,296.8 163.2,296.8 163.2,296.8 163.2,296.8 164.9,296.4 164.9,296.4 164.9,296.4 164.9,296.4 164.9,296.4 166.5,296.0 166.5,296.0 166.5,296.0 166.6,296.0 166.6,296.0 168.2,295.5 168.2,295.5 168.2,295.5 168.2,295.5 168.2,295.5 169.8,295.0Z" fill="#4680f6" fill-rule="evenodd"/>
<path d="M201.7,256.1 201.2,257.5 200.6,258.9 202.1,259.6 201.5,261.0 200.8,262.4 200.0,263.8 199.3,265.2 198.5,266.5 199.9,267.4 199.0,268.8 200.4,269.7 201.9,270.7 202.8,269.3 202.8,269.3 202.8,269.2 202.8,269.2 202.8,269.2 203.7,267.8 203.7,267.8 203.7,267.8 203.7,267.8 203.7,267.8 204.5,266.3 204.5,266.3 204.5,266.3 204.6,266.3 204.6,266.3 205.3,264.8 205.3,264.8 205.3,264.8 205.4,264.8 205.4,264.8 206.1,263.3 206.1,263.3 206.1,263.3 206.1,263.2 206.1,263.2 206.8,261.7 206.8,261.7 206.8,261.7 206.8,261.7 206.8,261.7 207.5,260.1 207.5,260.1 207.5,260.1 207.5,260.1 207.5,260.1 208.1,258.6 208.1,258.6 208.1,258.5 208.1,258.5 208.1,258.5 208.7,256.9 208.7,256.9 208.7,256.9 208.7,256.9 208.7,256.9 209.3,255.3 209.3,255.3 209.3,255.3 209.3,255.3 209.3,255.3 209.7,253.7 209.7,253.7 209.7,253.7 209.8,253.7 209.8,253.7 210.2,252.0 210.2,252.0 211.8,252.5 212.3,250.8 212.3,250.8 212.3,250.7 212.3,250.7 212.3,250.7 212.6,249.0 211.0,248.7 211.0,248.7 211.0,248.7 211.3,247.0 211.3,247.0 211.3,247.0 211.3,247.0 211.3,247.0 211.5,245.3 211.5,245.3 211.5,245.3 211.5,245.3 211.5,245.3 211.7,243.6 211.7,243.6 211.7,243.6 211.7,243.6 211.7,243.6 211.9,241.9 211.9,241.9 211.9,241.9 211.9,241.9 211.9,241.9 212.0,240.2 212.0,240.2 212.0,240.2 212.0,240.2 212.0,240.2 212.1,238.5 210.4,238.4 208.7,238.4 208.6,240.0 208.5,241.6 206.8,241.5 206.6,243.1 206.4,244.6 204.8,244.4 204.5,245.9 204.2,247.4 203.9,248.8 203.6,250.3 203.2,251.8 202.7,253.2 202.3,254.7Z" fill="#4680f6" fill-rule="evenodd"/>
<use href="#mesh"/>
<path d="M153.6,158.6 153.6,158.6 153.6,158.6 151.4,158.6 151.4,160.3 151.4,162.0 151.4,163.7 153.4,163.8 153.4,165.4 153.4,165.4 153.4,165.4 151.4,165.4 151.4,167.1 151.4,167.1 149.4,167.1 149.5,168.8 149.5,170.5 149.5,170.5 147.6,170.6 147.7,172.3 149.5,172.2 151.4,172.2 151.4,170.5 153.2,170.6 153.3,168.9 155.2,169.0 155.3,167.3 157.2,167.4 157.4,165.7 159.3,165.9 159.1,167.6 161.1,167.9 160.8,169.5 160.6,171.2 162.4,171.5 164.2,171.9 163.9,173.5 165.6,173.9 167.4,174.4 167.9,172.7 168.3,171.1 170.1,171.6 171.9,172.1 173.7,172.8 175.5,173.4 176.1,171.8 176.7,170.2 174.9,169.5 174.9,169.5 175.4,167.9 173.5,167.3 173.5,167.3 173.5,167.3 174.0,165.6 172.0,165.0 172.0,165.0 172.5,163.4 173.0,161.8 173.5,160.1 171.3,159.5 171.3,159.5 171.3,159.5 171.3,159.5 171.3,159.5 169.2,159.0 169.2,159.0 169.1,159.0 169.1,159.0 169.1,159.0 167.0,158.5 167.0,158.5 167.0,158.5 167.0,158.5 167.0,158.5 164.8,158.1 164.8,158.1 164.8,158.1 164.8,158.1 164.8,158.1 162.6,157.7 162.6,157.7 162.6,157.7 162.6,157.7 162.6,157.7 160.4,157.4 160.4,157.4 160.4,157.4 160.3,157.4 160.3,157.4 158.2,157.2 158.2,157.2 158.1,157.2 158.1,157.2 158.1,157.2 155.9,157.0 155.8,158.7 155.8,158.7 153.6,158.6 153.6,158.6Z" fill="#ffffff" fill-rule="evenodd"/>
<path d="M122.8,220.8 122.8,220.8 122.8,220.8 122.8,220.8 122.8,220.8 122.4,221.6 122.4,221.6 120.9,220.8 120.4,221.7 120.4,221.7 120.4,221.7 120.4,221.7 120.4,221.7 120.0,222.5 120.0,222.5 120.0,222.5 120.0,222.5 120.0,222.5 119.6,223.4 119.6,223.4 119.6,223.4 119.6,223.4 119.6,223.4 119.3,224.3 119.3,224.3 119.3,224.3 119.3,224.3 119.3,224.3 118.9,225.2 118.9,225.2 118.9,225.2 118.9,225.2 118.9,225.2 118.6,226.1 118.6,226.1 118.6,226.1 118.6,226.1 118.6,226.1 118.3,227.0 118.3,227.0 118.3,227.0 118.3,227.0 118.3,227.0 118.1,227.9 118.1,227.9 118.1,227.9 118.1,227.9 118.1,227.9 117.8,228.8 119.5,229.2 119.5,229.2 119.3,230.1 120.9,230.4 120.8,231.3 120.8,231.3 120.8,231.3 120.8,231.3 120.8,231.3 120.6,232.1 122.3,232.4 124.0,232.6 125.7,232.9 125.8,232.2 127.5,232.5 127.6,231.9 127.8,231.2 129.4,231.6 129.6,231.0 131.2,231.5 131.4,230.9 133.0,231.4 133.2,230.9 133.3,230.4 134.9,231.0 135.1,230.5 135.3,230.1 135.5,229.7 137.0,230.4 137.2,230.0 137.4,229.6 137.6,229.3 137.8,228.9 138.1,228.5 138.3,228.2 136.9,227.2 137.2,226.8 137.4,226.4 137.7,226.1 138.0,225.7 138.4,225.4 138.7,225.0 139.0,224.7 137.8,223.5 138.2,223.1 138.6,222.7 139.0,222.4 139.4,222.1 138.4,220.7 138.8,220.4 139.3,220.1 139.7,219.7 138.8,218.3 139.3,218.0 139.9,217.7 140.4,217.4 139.6,215.9 139.6,215.8 138.8,214.3 138.0,212.9 138.0,212.9 137.2,211.4 136.4,209.9 135.5,208.4 134.7,206.9 133.9,207.3 133.9,207.3 133.9,207.3 133.9,207.3 133.9,207.3 133.1,207.8 133.1,207.8 133.1,207.8 133.1,207.8 133.1,207.8 132.3,208.3 132.3,208.3 132.3,208.3 132.3,208.3 132.3,208.3 131.5,208.9 131.5,208.9 131.5,208.9 131.5,208.9 131.5,208.9 130.7,209.4 130.7,209.4 130.7,209.4 130.7,209.4 130.7,209.4 130.0,210.0 130.0,210.0 130.0,210.0 129.9,210.0 129.9,210.0 129.2,210.6 130.3,211.9 129.6,212.5 129.6,212.5 129.6,212.5 129.6,212.5 129.6,212.5 128.9,213.1 128.9,213.1 128.9,213.1 128.9,213.1 128.9,213.1 128.3,213.7 128.3,213.7 128.3,213.7 128.3,213.7 128.3,213.7 127.7,214.3 127.7,214.3 127.7,214.3 127.6,214.4 127.6,214.4 127.0,215.0 127.0,215.0 127.0,215.0 127.0,215.0 127.0,215.0 126.4,215.7 126.4,215.7 126.4,215.7 126.4,215.7 126.4,215.7 125.9,216.4 125.9,216.4 125.9,216.4 125.8,216.4 125.8,216.4 125.3,217.1 125.3,217.1 125.3,217.1 125.3,217.1 125.3,217.1 124.8,217.8 124.8,217.8 124.8,217.8 124.7,217.8 124.7,217.8 124.2,218.5 124.2,218.5 124.2,218.5 124.2,218.5 124.2,218.5 123.7,219.3 123.7,219.3 123.7,219.3 123.7,219.3 123.7,219.3 123.3,220.1 123.3,220.1 123.3,220.1 123.3,220.1 123.3,220.1Z" fill="#ffffff" fill-rule="evenodd"/>
<path d="M140.8,250.5 139.8,251.9 140.2,252.2 140.2,252.2 139.2,253.6 138.3,255.0 138.8,255.3 137.9,256.7 138.4,257.1 138.4,257.1 138.4,257.1 138.4,257.1 138.4,257.1 139.0,257.4 139.0,257.4 139.0,257.4 138.1,258.9 138.8,259.2 138.8,259.2 138.8,259.2 138.8,259.3 138.8,259.3 139.4,259.6 138.6,261.1 139.3,261.4 139.3,261.4 139.3,261.4 139.3,261.4 139.3,261.4 140.0,261.7 140.0,261.7 139.3,263.3 140.1,263.6 140.1,263.6 140.1,263.6 140.1,263.6 140.1,263.6 140.8,263.9 140.2,265.5 141.0,265.8 141.0,265.8 141.0,265.8 140.5,267.4 141.3,267.7 140.8,269.3 141.7,269.6 141.7,269.6 141.3,271.2 142.3,271.5 142.3,271.5 142.3,271.5 142.3,271.5 142.3,271.5 143.2,271.7 143.2,271.7 143.2,271.7 143.2,271.7 143.2,271.7 144.2,271.9 144.2,271.9 144.2,271.9 144.2,271.9 144.2,271.9 145.2,272.1 145.2,272.1 145.2,272.1 145.2,272.1 145.2,272.1 146.2,272.2 146.2,272.2 146.2,272.2 146.2,272.2 146.2,272.2 147.2,272.3 147.2,272.3 147.2,272.3 147.2,272.3 147.2,272.3 148.2,272.4 148.2,272.4 148.2,272.4 148.2,272.4 148.2,272.4 149.1,272.5 149.1,272.5 149.2,272.5 149.2,272.5 149.2,272.5 150.1,272.5 150.1,272.5 150.2,272.5 150.2,272.5 150.2,272.5 151.1,272.5 151.1,272.5 151.1,272.5 151.2,272.5 151.2,272.5 152.1,272.5 152.1,272.5 152.1,272.5 152.2,272.5 152.2,272.5 153.1,272.4 153.1,272.4 153.1,272.4 153.2,272.4 153.1,272.4 154.1,272.4 154.1,272.4 154.1,272.4 154.1,272.4 154.1,272.4 155.1,272.3 155.1,272.3 155.1,272.3 155.1,272.3 155.1,272.3 156.1,272.1 156.1,272.1 156.1,272.1 156.1,272.1 156.1,272.1 157.1,272.0 157.1,272.0 157.1,272.0 157.1,272.0 157.1,272.0 158.1,271.8 158.1,271.8 158.1,271.8 158.1,271.8 158.1,271.8 159.0,271.6 159.0,271.6 159.1,271.6 159.1,271.6 159.1,271.6 160.0,271.3 160.0,271.3 160.0,271.3 160.0,271.3 160.0,271.3 161.0,271.1 161.0,271.1 161.0,271.1 161.0,271.1 161.0,271.1 161.9,270.8 161.4,269.2 161.4,269.2 162.3,268.8 161.7,267.2 162.6,266.9 162.0,265.3 162.0,265.3 162.8,265.0 162.1,263.5 162.8,263.1 162.8,263.1 162.8,263.1 162.9,263.1 162.9,263.1 163.6,262.8 162.8,261.3 162.8,261.2 162.1,259.7 161.3,258.2 160.6,256.7 159.8,255.1 159.1,253.6 158.6,253.8 157.9,252.3 157.2,250.7 156.8,250.9 156.4,251.0 156.0,251.2 155.5,249.6 155.1,249.7 154.7,249.8 154.4,249.9 153.9,248.3 153.6,248.4 153.3,248.4 153.0,248.5 152.6,248.6 152.3,248.6 152.1,246.9 151.8,246.9 151.5,247.0 151.3,247.0 151.0,247.0 150.7,247.0 150.4,247.0 150.1,247.0 150.3,245.3 150.0,245.2 149.8,245.2 149.6,246.9 149.3,246.8 149.0,246.8 148.7,246.7 148.4,246.7 148.2,246.6 147.9,246.5 147.6,246.4 147.4,246.3 147.1,246.2 146.8,246.1 146.1,247.7 145.8,247.5 145.5,247.4 145.2,247.3 145.0,247.1 144.7,246.9 144.4,246.7 143.5,248.2 143.1,248.0 142.8,247.7 142.5,247.5 141.5,248.9 141.8,249.1 141.8,249.1Z" fill="#ffffff" fill-rule="evenodd"/>
<polygon points="118.2,161.0 119.4,160.6 122.6,169.6 121.4,170.2" fill="#ffffff"/>
<polygon points="99.5,186.5 103.0,184.0 104.0,185.2 100.5,187.8" fill="#ffffff"/>
<polygon points="96.0,189.5 98.8,187.3 99.8,188.5 97.0,190.8" fill="#ffffff"/>
<polygon points="91.0,199.5 95.5,193.5 96.8,194.6 92.3,200.8" fill="#ffffff"/>
<path d="M106.2,253.1 107.8,252.5 108.2,253.7 108.2,253.7 108.2,253.7 108.2,253.7 108.2,253.7 108.7,254.9 108.7,254.9 108.7,254.9 108.7,254.9 108.7,254.9 109.2,256.1 109.2,256.1 109.2,256.1 109.2,256.1 109.2,256.1 109.8,257.2 109.8,257.2 109.8,257.2 109.8,257.2 109.8,257.2 110.4,258.3 110.4,258.4 110.4,258.4 110.4,258.4 110.4,258.4 111.0,259.5 111.0,259.5 111.0,259.5 111.0,259.5 111.0,259.5 111.6,260.6 111.6,260.6 111.6,260.6 111.6,260.6 111.6,260.6 112.3,261.7 113.8,260.7 113.1,259.7 112.5,258.6 111.9,257.5 111.3,256.4 110.8,255.3 110.3,254.2 109.8,253.1 109.4,251.9 107.8,252.5 107.4,251.3 107.0,250.1 105.3,250.6 105.7,251.8 105.7,251.8 105.7,251.8 105.7,251.8 105.7,251.8Z" fill="#ffffff" fill-rule="evenodd"/>
<polygon points="147.0,275.0 148.7,275.0 148.7,276.7 147.0,276.7" fill="#ffffff"/>
<polygon points="148.5,280.0 150.2,280.0 150.2,281.7 148.5,281.7" fill="#ffffff"/>
<polygon points="153.6,282.6 155.3,282.6 155.3,284.3 153.6,284.3" fill="#ffffff"/>
<polygon points="148.5,285.2 150.2,285.2 150.2,286.9 148.5,286.9" fill="#ffffff"/>
<path d="M182.8,287.0 181.4,287.9 179.9,288.7 179.1,287.2 177.7,288.0 178.4,289.5 177.0,290.3 177.7,291.8 179.3,291.1 179.3,291.1 179.3,291.1 180.0,292.6 181.6,291.7 181.6,291.7 181.6,291.7 181.6,291.7 181.6,291.7 183.1,290.9 183.1,290.9 183.1,290.8 183.1,290.8 183.1,290.8 184.6,289.9 183.7,288.5 183.7,288.5Z" fill="#ffffff" fill-rule="evenodd"/>
<polygon points="189.5,284.0 193.0,284.0 193.0,287.0 189.5,287.0" fill="#ffffff"/>
<polygon points="99.5,227.0 101.3,227.0 101.3,231.0 99.5,231.0" fill="#ffffff"/>
<polygon points="100.5,236.0 102.1,236.0 102.1,239.0 100.5,239.0" fill="#ffffff"/>
<path d="M135.6,199.0 135.6,199.0 134.6,199.4 135.2,201.0 135.2,201.0 134.2,201.4 135.0,202.9 135.0,202.9 135.7,204.5 136.6,204.1 137.5,203.7 136.9,202.1 137.9,201.8 138.9,201.4 138.3,199.8 139.4,199.5 138.8,197.8 138.3,196.2 137.2,196.5 137.2,196.5 137.2,196.5 137.2,196.6 137.2,196.6 136.1,196.9 136.1,196.9 136.1,196.9 136.1,196.9 136.1,196.9 135.0,197.4Z" fill="#ffffff" fill-rule="evenodd"/>
<polygon points="107.0,206.3 107.6,205.6 115.6,211.2 115.0,211.9" fill="#ffffff"/>
<use href="#land"/>
</g>
<circle cx="150.9" cy="236.8" r="150.05" fill="none" stroke="#b8b8b8" stroke-width="1.2"/>
<path d="M2.9,214.4 A149.70000000000002,149.70000000000002 0 0 1 65.4,113.9" fill="none" stroke="#000" stroke-width="1.3" stroke-linecap="round"/><path d="M175.2,89.1 A149.70000000000002,149.70000000000002 0 0 1 252.0,126.4" fill="none" stroke="#000" stroke-width="1.3" stroke-linecap="round"/>
<rect x="314.6" y="372.26" width="14.2" height="15.34" fill="#30123b"/>
<rect x="314.6" y="357.22" width="14.2" height="15.34" fill="#3e3891"/>
<rect x="314.6" y="342.18" width="14.2" height="15.34" fill="#455ccf"/>
<rect x="314.6" y="327.14" width="14.2" height="15.34" fill="#4680f6"/>
<rect x="314.6" y="312.10" width="14.2" height="15.34" fill="#3ba0fd"/>
<rect x="314.6" y="297.06" width="14.2" height="15.34" fill="#23c3e4"/>
<rect x="314.6" y="282.02" width="14.2" height="15.34" fill="#18ddc2"/>
<rect x="314.6" y="266.98" width="14.2" height="15.34" fill="#2aefa1"/>
<rect x="314.6" y="251.94" width="14.2" height="15.34" fill="#59fb73"/>
<rect x="314.6" y="236.90" width="14.2" height="15.34" fill="#8bff4b"/>
<rect x="314.6" y="221.86" width="14.2" height="15.34" fill="#b4f836"/>
<rect x="314.6" y="206.82" width="14.2" height="15.34" fill="#d4e735"/>
<rect x="314.6" y="191.78" width="14.2" height="15.34" fill="#efcd3a"/>
<rect x="314.6" y="176.74" width="14.2" height="15.34" fill="#fcb136"/>
<rect x="314.6" y="161.70" width="14.2" height="15.34" fill="#fd8d27"/>
<rect x="314.6" y="146.66" width="14.2" height="15.34" fill="#f36315"/>
<rect x="314.6" y="131.62" width="14.2" height="15.34" fill="#e2430a"/>
<rect x="314.6" y="116.58" width="14.2" height="15.34" fill="#c82803"/>
<rect x="314.6" y="101.54" width="14.2" height="15.34" fill="#a71401"/>
<rect x="314.6" y="86.50" width="14.2" height="15.34" fill="#7a0403"/>
<rect x="314.6" y="86.5" width="14.2" height="300.8" fill="none" stroke="#b9b9b9" stroke-width="0.8"/>
<text x="334.3" y="392.0" font-family="Liberation Sans, sans-serif" font-size="13" fill="#262626">0</text>
<text x="334.3" y="361.9" font-family="Liberation Sans, sans-serif" font-size="13" fill="#262626">1</text>
<text x="334.3" y="331.8" font-family="Liberation Sans, sans-serif" font-size="13" fill="#262626">2</text>
<text x="334.3" y="301.8" font-family="Liberation Sans, sans-serif" font-size="13" fill="#262626">3</text>
<text x="334.3" y="271.7" font-family="Liberation Sans, sans-serif" font-size="13" fill="#262626">4</text>
<text x="334.3" y="241.6" font-family="Liberation Sans, sans-serif" font-size="13" fill="#262626">5</text>
<text x="334.3" y="211.5" font-family="Liberation Sans, sans-serif" font-size="13" fill="#262626">6</text>
<text x="334.3" y="181.4" font-family="Liberation Sans, sans-serif" font-size="13" fill="#262626">7</text>
<text x="334.3" y="151.4" font-family="Liberation Sans, sans-serif" font-size="13" fill="#262626">8</text>
<text x="334.3" y="121.3" font-family="Liberation Sans, sans-serif" font-size="13" fill="#262626">15</text>
<text x="334.3" y="91.2" font-family="Liberation Sans, sans-serif" font-size="13" fill="#262626" stroke="#262626" stroke-width="0.45">30</text>
<text transform="translate(366.8,237.2) rotate(-90)" text-anchor="middle" font-family="Liberation Sans, sans-serif" font-size="15.25" fill="#262626">Sea-ice thickness [m]</text>
</g>
<g transform="translate(393.8,450)">
<text x="153.5" y="69.8" text-anchor="middle" font-family="Liberation Sans, sans-serif" font-size="16.7" fill="#2f4f4f" xml:space="preserve">ECE-FAST SPC2</text>
<g clip-path="url(#cc)">
<path d="M95.9,183.6 95.9,183.6 95.9,183.6 95.8,183.7 95.8,183.7 94.4,185.2 94.4,185.2 94.4,185.2 94.4,185.2 94.4,185.2 93.0,186.8 93.0,186.8 93.0,186.8 93.0,186.8 93.0,186.8 91.6,188.4 92.9,189.5 91.6,191.1 91.6,191.1 91.6,191.1 91.6,191.2 91.6,191.2 90.4,192.8 90.4,192.8 90.4,192.8 90.4,192.8 90.4,192.8 89.2,194.5 90.6,195.5 89.4,197.2 90.9,198.1 92.3,199.0 93.7,200.0 95.1,200.9 94.2,202.4 94.2,202.4 94.2,202.4 94.2,202.5 94.2,202.5 93.2,204.1 94.7,204.9 94.7,204.9 93.8,206.5 95.3,207.3 95.3,207.3 94.5,208.8 96.1,209.6 95.3,211.1 96.9,211.8 96.2,213.4 97.8,214.0 97.8,214.0 97.1,215.5 98.7,216.2 98.7,216.2 98.2,217.6 96.6,217.0 95.0,216.4 93.4,215.9 93.4,215.9 91.8,215.3 91.2,216.9 91.2,216.9 91.2,216.9 91.2,217.0 91.2,217.0 90.7,218.6 90.7,218.6 90.7,218.6 90.7,218.6 90.7,218.6 90.2,220.3 90.2,220.3 90.2,220.3 90.2,220.3 90.2,220.3 89.7,222.0 89.7,222.0 89.7,222.0 89.7,222.0 89.7,222.0 89.4,223.7 91.0,224.1 90.7,225.7 90.7,225.7 90.7,225.7 90.7,225.8 90.7,225.8 90.4,227.4 90.4,227.4 90.4,227.4 90.4,227.4 90.4,227.4 90.2,229.1 90.2,229.1 90.2,229.1 90.2,229.1 90.2,229.1 90.0,230.8 91.7,231.0 91.5,232.6 91.5,232.6 91.5,232.6 91.5,232.7 91.5,232.7 91.4,234.3 91.4,234.3 91.4,234.3 91.4,234.3 91.4,234.3 91.4,236.0 91.4,236.0 91.4,236.0 91.4,236.0 91.4,236.0 91.4,237.6 91.4,237.6 91.4,237.6 91.4,237.6 91.4,237.6 91.4,239.3 91.4,239.3 91.4,239.3 91.4,239.3 91.4,239.3 91.5,240.9 91.5,240.9 91.5,241.0 91.5,241.0 91.5,241.0 91.7,242.6 93.4,242.5 93.5,244.0 93.5,244.0 93.5,244.0 93.5,244.1 93.5,244.1 93.8,245.6 93.8,245.6 93.8,245.6 93.8,245.7 93.8,245.7 94.0,247.2 94.0,247.2 94.0,247.2 94.0,247.2 94.0,247.2 94.3,248.8 94.3,248.8 94.3,248.8 94.3,248.8 94.3,248.8 94.7,250.4 94.7,250.4 94.7,250.4 94.7,250.4 94.7,250.4 95.1,251.9 95.1,251.9 95.1,252.0 95.1,252.0 95.1,252.0 95.5,253.5 95.5,253.5 95.5,253.5 95.6,253.5 95.6,253.5 96.0,255.1 97.7,254.5 98.2,256.0 99.8,255.4 100.3,256.8 100.3,256.8 100.3,256.8 100.3,256.8 100.3,256.8 100.9,258.2 100.9,258.2 100.9,258.2 100.9,258.2 100.9,258.2 101.5,259.6 101.5,259.6 101.5,259.6 101.5,259.6 101.5,259.6 102.2,261.0 102.2,261.0 102.2,261.0 102.2,261.0 102.2,261.0 102.8,262.3 102.8,262.3 102.9,262.3 102.9,262.4 102.9,262.4 103.6,263.7 103.6,263.7 103.6,263.7 103.6,263.7 103.6,263.7 104.3,265.0 104.3,265.0 104.4,265.0 104.4,265.0 104.4,265.0 105.2,266.3 105.2,266.3 105.2,266.3 105.2,266.3 105.2,266.3 106.0,267.5 106.0,267.5 106.0,267.5 106.0,267.6 106.0,267.6 106.9,268.8 106.9,268.8 106.9,268.8 106.9,268.8 106.9,268.8 107.8,270.0 107.8,270.0 107.8,270.0 107.8,270.0 107.8,270.0 108.7,271.2 108.7,271.2 108.7,271.2 108.7,271.2 108.7,271.2 109.7,272.4 109.7,272.4 109.7,272.4 109.7,272.4 109.7,272.4 110.7,273.5 110.7,273.5 110.7,273.5 110.7,273.5 110.7,273.5 111.7,274.6 111.7,274.6 111.8,274.6 111.8,274.6 111.8,274.6 112.8,275.7 112.8,275.7 112.8,275.7 112.8,275.7 112.8,275.7 113.9,276.7 113.9,276.7 113.9,276.7 113.9,276.7 113.9,276.7 115.0,277.7 115.0,277.7 115.1,277.7 115.1,277.8 115.1,277.8 116.2,278.7 116.2,278.7 116.2,278.7 116.2,278.7 116.2,278.7 117.4,279.7 117.4,279.7 117.4,279.7 117.4,279.7 117.4,279.7 118.6,280.6 118.6,280.6 118.6,280.6 118.6,280.6 118.6,280.6 119.8,281.5 119.8,281.5 119.8,281.5 119.9,281.5 119.9,281.5 121.1,282.3 121.1,282.3 121.1,282.3 121.1,282.3 121.1,282.3 122.4,283.1 122.4,283.1 121.5,284.6 120.6,286.0 122.0,286.9 121.1,288.3 122.6,289.2 122.6,289.2 121.8,290.6 123.3,291.4 123.3,291.4 123.3,291.4 123.3,291.4 123.3,291.4 124.8,292.2 124.8,292.2 124.8,292.2 124.8,292.2 124.8,292.2 126.4,292.9 126.4,292.9 126.4,292.9 126.4,292.9 126.4,292.9 128.0,293.6 128.0,293.6 128.0,293.6 127.3,295.1 129.0,295.8 128.4,297.4 127.8,299.0 129.5,299.6 129.5,299.6 129.5,299.6 129.0,301.2 130.8,301.8 130.8,301.8 130.8,301.8 130.8,301.8 130.8,301.8 132.6,302.3 132.1,303.9 134.0,304.4 134.0,304.4 133.6,306.1 135.5,306.6 135.5,306.6 135.6,306.6 135.6,306.6 135.6,306.6 137.5,307.0 137.5,307.0 137.5,307.0 137.2,308.6 139.2,309.0 139.2,309.0 139.2,309.0 139.2,309.0 139.2,309.0 141.2,309.3 141.2,309.3 141.2,309.3 141.2,309.3 141.2,309.3 143.2,309.5 143.2,309.5 143.3,309.5 143.3,309.5 143.3,309.5 145.3,309.7 145.3,309.7 145.3,309.7 145.3,309.7 145.3,309.7 147.3,309.8 147.3,309.8 147.3,309.8 147.3,309.8 147.3,309.8 149.4,309.9 149.4,309.9 149.4,309.9 149.4,309.9 149.4,309.9 151.4,309.9 151.4,309.9 151.4,309.9 151.4,309.9 151.4,309.9 153.4,309.9 153.4,309.9 153.5,309.9 153.5,309.9 153.5,309.9 155.5,309.8 155.5,309.8 155.5,309.8 155.5,309.8 155.5,309.8 157.5,309.6 157.5,309.6 157.5,309.6 157.5,309.6 157.5,309.6 159.5,309.4 159.5,309.4 159.6,309.4 159.6,309.4 159.6,309.4 161.6,309.1 161.6,309.1 161.6,309.1 161.6,309.1 161.6,309.1 163.6,308.8 163.6,308.8 163.6,308.8 163.6,308.8 163.6,308.8 165.6,308.4 165.6,308.4 165.6,308.4 165.6,308.4 165.6,308.4 167.6,308.0 167.6,308.0 167.6,308.0 167.6,308.0 167.6,308.0 169.6,307.5 169.6,307.5 169.6,307.5 169.6,307.5 169.6,307.5 171.5,306.9 171.5,306.9 171.5,306.9 171.6,306.9 171.6,306.9 173.5,306.3 174.0,308.0 176.0,307.3 176.0,307.3 176.0,307.3 176.0,307.3 176.0,307.3 177.9,306.6 177.9,306.6 178.0,306.6 178.0,306.6 178.0,306.6 179.9,305.8 179.9,305.8 179.9,305.8 179.9,305.8 179.9,305.8 181.8,304.9 181.1,303.4 182.9,302.5 182.9,302.5 183.0,302.5 183.0,302.5 183.0,302.5 184.8,301.6 184.8,301.6 184.8,301.6 184.8,301.6 184.8,301.6 186.6,300.6 186.6,300.6 186.6,300.6 186.6,300.6 186.6,300.6 188.3,299.6 188.3,299.6 188.3,299.6 188.4,299.6 188.4,299.6 190.1,298.5 190.1,298.5 190.1,298.5 190.1,298.5 190.1,298.5 191.8,297.4 191.8,297.4 191.8,297.4 191.8,297.4 191.8,297.4 193.5,296.3 193.5,296.3 193.5,296.3 193.5,296.2 193.5,296.2 195.1,295.1 195.1,295.1 195.1,295.0 195.1,295.0 195.1,295.0 196.7,293.8 196.7,293.8 196.7,293.8 196.7,293.8 196.7,293.8 198.3,292.5 198.3,292.5 198.3,292.5 198.3,292.5 198.3,292.5 199.8,291.1 199.8,291.1 199.8,291.1 199.8,291.1 199.8,291.1 201.3,289.8 201.3,289.8 201.3,289.8 201.3,289.7 201.3,289.7 202.8,288.3 202.8,288.3 202.8,288.3 202.8,288.3 202.8,288.3 204.2,286.9 204.2,286.9 204.2,286.9 204.2,286.8 204.2,286.8 205.6,285.4 205.6,285.4 205.6,285.3 205.6,285.3 205.6,285.3 206.9,283.8 205.6,282.7 206.9,281.2 206.9,281.2 206.9,281.2 206.9,281.2 206.9,281.2 208.1,279.6 208.1,279.6 208.1,279.6 208.1,279.6 208.1,279.6 209.3,278.0 209.3,278.0 209.3,278.0 209.3,278.0 209.3,278.0 210.4,276.3 210.4,276.3 210.4,276.3 210.4,276.3 210.4,276.3 211.5,274.7 211.5,274.7 211.5,274.6 211.5,274.6 211.5,274.6 212.5,273.0 214.0,273.8 215.0,272.0 215.0,272.0 215.0,272.0 215.0,272.0 215.0,272.0 215.9,270.2 215.9,270.2 215.9,270.2 215.9,270.2 215.9,270.2 216.8,268.4 216.8,268.4 216.8,268.4 216.8,268.4 216.8,268.4 217.7,266.6 217.7,266.6 217.7,266.5 217.7,266.5 217.7,266.5 218.5,264.7 218.5,264.7 218.5,264.7 218.5,264.7 218.5,264.7 219.2,262.8 219.2,262.8 219.3,262.8 219.3,262.8 219.3,262.8 219.9,260.9 219.9,260.9 220.0,260.8 220.0,260.8 220.0,260.8 220.6,258.9 220.6,258.9 220.6,258.9 220.6,258.9 220.6,258.9 221.2,257.0 221.2,257.0 221.2,257.0 221.2,256.9 221.2,256.9 221.7,255.0 221.7,255.0 221.7,255.0 221.7,255.0 221.7,255.0 222.2,253.0 222.2,253.0 222.2,253.0 222.2,253.0 222.2,253.0 222.6,251.0 222.6,251.0 222.6,251.0 222.6,251.0 222.6,251.0 223.0,249.0 223.0,249.0 223.0,249.0 223.0,249.0 223.0,249.0 223.3,247.0 223.3,247.0 223.3,247.0 223.3,247.0 223.3,247.0 223.6,245.0 223.6,245.0 223.6,245.0 223.6,244.9 223.6,244.9 223.8,242.9 223.8,242.9 223.8,242.9 223.8,242.9 223.8,242.9 223.9,240.9 223.9,240.9 223.9,240.9 223.9,240.9 223.9,240.9 224.0,238.9 224.0,238.9 224.0,238.8 224.0,238.8 224.0,238.8 224.0,236.8 224.0,236.8 224.0,236.8 224.0,236.8 224.0,236.8 224.0,234.8 224.0,234.8 224.0,234.8 224.0,234.7 224.0,234.7 223.9,232.7 223.9,232.7 223.9,232.7 223.9,232.7 223.9,232.7 223.8,230.7 223.8,230.7 225.5,230.6 225.3,228.4 223.6,228.6 223.3,226.6 223.3,226.6 223.3,226.6 223.3,226.6 223.3,226.6 223.0,224.6 223.0,224.6 223.0,224.6 223.0,224.6 223.0,224.6 222.6,222.6 222.6,222.6 222.6,222.6 222.6,222.6 222.6,222.6 222.2,220.6 222.2,220.6 222.2,220.6 222.2,220.6 222.2,220.6 221.7,218.6 221.7,218.6 221.7,218.6 221.7,218.6 221.7,218.6 221.2,216.6 219.5,217.1 219.0,215.2 219.0,215.2 219.0,215.2 219.0,215.2 219.0,215.2 218.4,213.3 218.4,213.3 218.3,213.3 218.3,213.3 218.3,213.3 217.7,211.5 217.7,211.5 217.7,211.4 217.7,211.4 217.7,211.4 216.9,209.6 216.9,209.6 216.9,209.6 216.9,209.6 216.9,209.6 216.2,207.8 216.2,207.8 216.1,207.8 216.1,207.7 216.1,207.7 215.3,206.0 215.3,206.0 215.3,205.9 215.3,205.9 215.3,205.9 214.4,204.2 214.4,204.2 214.4,204.2 214.4,204.1 214.4,204.1 213.5,202.4 212.0,203.2 212.0,203.2 211.0,201.5 211.0,201.5 211.0,201.5 211.0,201.5 211.0,201.5 210.0,199.9 210.0,199.9 210.0,199.9 210.0,199.8 210.0,199.8 209.0,198.2 209.0,198.2 209.0,198.2 209.0,198.2 209.0,198.2 207.9,196.6 206.5,197.6 206.5,197.6 205.4,196.1 205.4,196.1 205.4,196.1 205.4,196.0 205.4,196.0 204.2,194.6 204.2,194.6 204.2,194.5 204.2,194.5 204.2,194.5 203.0,193.1 203.0,193.1 203.0,193.1 203.0,193.1 203.0,193.1 201.8,191.6 200.5,192.8 199.3,191.4 199.3,191.4 199.2,191.4 199.2,191.4 199.2,191.4 198.0,190.1 198.0,190.1 198.0,190.1 197.9,190.1 197.9,190.1 196.6,188.8 196.6,188.8 196.6,188.8 196.6,188.8 196.6,188.8 195.3,187.5 194.1,188.8 194.1,188.8 192.8,187.6 192.8,187.6 192.8,187.6 192.8,187.6 192.8,187.6 191.4,186.4 191.4,186.4 191.4,186.4 191.4,186.4 191.4,186.4 190.0,185.3 188.9,186.7 187.5,185.6 187.5,185.6 187.5,185.6 187.5,185.6 187.5,185.6 186.1,184.6 185.1,186.0 185.1,186.0 183.7,185.1 183.7,185.1 183.7,185.1 183.7,185.1 183.7,185.1 182.3,184.2 182.3,184.2 182.2,184.2 182.2,184.2 182.2,184.2 180.8,183.4 180.8,183.4 180.8,183.4 180.8,183.4 180.8,183.4 179.3,182.6 179.3,182.6 179.3,182.5 179.3,182.5 179.3,182.5 177.7,181.8 177.7,181.8 178.5,180.3 176.9,179.5 176.9,179.5 176.9,179.5 176.9,179.5 176.9,179.5 175.3,178.8 176.0,177.2 174.3,176.6 174.3,176.6 174.9,175.0 173.2,174.3 173.2,174.3 173.1,174.3 173.1,174.3 173.1,174.3 171.4,173.7 171.9,172.1 170.1,171.6 170.1,171.6 170.1,171.5 170.1,171.5 170.1,171.5 168.3,171.0 168.3,171.0 168.7,169.4 166.8,168.9 166.8,168.9 166.8,168.9 166.8,168.9 166.8,168.9 164.9,168.5 165.3,166.8 163.3,166.5 163.6,164.8 161.6,164.5 161.6,164.5 161.6,164.5 161.6,164.5 161.6,164.5 159.6,164.2 159.6,164.2 159.6,164.2 159.5,164.2 159.5,164.2 157.5,164.0 157.5,164.0 157.7,162.3 155.6,162.1 155.6,162.1 155.6,162.1 155.6,162.1 155.6,162.1 153.5,162.0 153.5,162.0 153.5,162.0 153.5,162.0 153.5,162.0 151.4,162.0 151.4,162.0 151.4,162.0 151.4,162.0 151.4,162.0 149.3,162.0 149.3,162.0 149.3,162.0 149.3,162.0 149.3,162.0 147.3,162.1 147.3,162.1 147.2,162.1 147.2,162.1 147.2,162.1 145.2,162.2 145.2,162.2 145.2,162.2 145.0,160.5 142.9,160.7 142.9,160.7 142.9,160.7 142.9,160.7 142.9,160.7 140.8,161.0 140.8,161.0 140.8,161.0 140.8,161.0 140.8,161.0 138.7,161.3 138.7,161.3 138.7,161.3 138.7,161.3 138.7,161.3 136.6,161.6 136.6,161.6 136.6,161.6 136.5,161.6 136.5,161.6 134.5,162.1 134.1,160.4 132.0,160.9 132.0,160.9 132.0,160.9 132.0,160.9 132.0,160.9 129.9,161.5 129.9,161.5 129.9,161.5 129.9,161.5 129.9,161.5 127.8,162.1 127.8,162.1 127.3,160.4 125.2,161.1 125.2,161.1 125.1,161.1 125.1,161.1 125.1,161.1 123.1,161.9 123.1,161.9 123.0,161.9 123.0,161.9 123.0,161.9 121.0,162.7 121.0,162.7 121.0,162.7 120.9,162.7 120.9,162.7 118.9,163.6 119.6,165.1 119.6,165.1 117.6,166.0 117.6,166.0 117.6,166.0 117.6,166.0 117.6,166.0 115.6,167.0 115.6,167.0 115.6,167.0 115.6,167.0 115.6,167.0 113.7,168.0 113.7,168.0 113.7,168.0 113.7,168.0 113.7,168.0 111.8,169.1 111.8,169.1 111.8,169.1 111.8,169.1 111.8,169.1 109.9,170.2 110.8,171.6 110.8,171.6 109.0,172.8 109.0,172.8 109.0,172.8 109.0,172.8 109.0,172.8 107.2,174.0 107.2,174.0 107.2,174.0 107.2,174.0 107.2,174.0 105.5,175.2 105.5,175.2 105.5,175.2 105.5,175.2 105.5,175.2 103.8,176.5 103.8,176.5 103.8,176.5 103.8,176.5 103.8,176.5 102.1,177.8 102.1,177.8 102.1,177.8 102.1,177.9 102.1,177.9 100.5,179.2 100.5,179.2 100.5,179.2 100.5,179.2 100.5,179.2 98.9,180.6 98.9,180.6 98.9,180.7 98.9,180.7 98.9,180.7 97.4,182.1 97.4,182.1 97.4,182.1 97.4,182.1 97.4,182.1Z" fill="#30123b" fill-rule="evenodd"/>
<path d="M105.7,190.6 105.7,190.6 104.4,191.9 104.4,191.9 103.2,190.7 101.9,192.1 101.9,192.1 101.9,192.1 101.9,192.1 101.9,192.1 100.7,193.5 100.7,193.5 99.4,192.3 98.2,193.8 96.9,192.7 95.7,194.3 97.0,195.3 97.0,195.3 97.0,195.3 95.9,196.8 97.2,197.8 97.2,197.8 97.2,197.8 96.2,199.3 97.6,200.3 96.6,201.8 98.0,202.7 98.0,202.7 98.0,202.7 97.1,204.2 98.5,205.1 98.5,205.1 97.7,206.6 99.1,207.4 100.6,208.3 99.8,209.7 101.3,210.5 102.8,211.3 104.4,212.1 105.9,212.9 106.6,211.6 108.0,212.5 109.5,213.3 111.0,214.1 112.5,215.0 113.1,213.9 114.5,214.8 114.5,214.8 113.9,215.8 115.4,216.6 116.9,217.5 118.4,218.3 118.9,217.4 119.5,216.6 120.1,215.7 121.5,216.6 122.0,215.8 122.6,215.0 124.0,216.1 124.6,215.3 125.9,216.4 126.5,215.7 127.1,215.0 127.7,214.4 128.3,213.7 129.0,213.1 129.6,212.5 130.8,213.8 131.4,213.2 130.3,211.9 131.0,211.4 131.7,210.8 132.5,210.3 131.5,208.9 132.3,208.4 133.1,207.9 132.2,206.4 131.3,205.0 130.4,203.5 129.5,202.1 130.5,201.5 131.5,200.9 130.7,199.4 131.7,198.9 132.8,198.4 133.9,197.9 133.2,196.3 134.3,195.8 135.5,195.4 136.7,195.0 136.1,193.4 136.1,193.3 135.6,191.8 136.8,191.3 136.3,189.7 136.3,189.7 135.8,188.1 135.3,186.4 134.8,184.8 134.3,183.2 133.8,181.6 133.3,179.9 132.8,178.3 131.2,178.8 131.2,178.8 131.2,178.8 130.6,177.2 129.0,177.8 129.0,177.8 129.0,177.8 129.0,177.8 129.0,177.8 127.3,178.5 127.3,178.5 127.3,178.5 127.3,178.5 127.3,178.5 125.7,179.1 125.7,179.1 125.7,179.1 125.7,179.1 125.7,179.1 124.1,179.9 124.1,179.9 124.1,179.9 124.1,179.9 124.1,179.9 122.5,180.6 122.5,180.6 122.5,180.6 122.5,180.6 122.5,180.6 121.0,181.4 121.0,181.4 121.0,181.5 121.0,181.5 121.0,181.5 119.5,182.3 119.5,182.3 119.4,182.3 119.4,182.3 119.4,182.3 117.9,183.2 117.9,183.2 117.9,183.2 117.9,183.2 117.9,183.2 116.5,184.1 116.5,184.1 116.4,184.2 116.4,184.2 116.4,184.2 115.0,185.1 115.0,185.1 115.0,185.1 115.0,185.1 115.0,185.1 113.6,186.1 113.6,186.1 113.6,186.2 113.6,186.2 113.6,186.2 112.2,187.2 112.2,187.2 112.2,187.2 112.2,187.2 112.2,187.2 110.8,188.3 109.7,187.0 108.3,188.2 108.3,188.2 108.3,188.2 108.3,188.2 108.3,188.2 107.0,189.4 107.0,189.4 107.0,189.4 107.0,189.4 107.0,189.4 105.7,190.6 105.7,190.6 105.7,190.6Z" fill="#3e3891" fill-rule="evenodd"/>
<path d="M105.1,201.5 104.1,202.8 102.8,201.8 101.8,203.2 101.8,203.2 101.8,203.2 101.8,203.2 101.8,203.2 100.9,204.6 102.3,205.5 102.3,205.5 102.3,205.5 101.4,206.9 102.9,207.7 104.3,208.6 104.3,208.6 103.6,209.9 105.1,210.8 105.8,209.5 107.3,210.4 108.7,211.3 110.2,212.2 110.9,211.0 111.6,209.9 113.0,210.9 113.8,209.8 112.4,208.8 113.2,207.8 111.9,206.7 112.7,205.6 111.4,204.5 110.1,203.5 108.8,202.4 108.8,202.4 107.4,201.3 106.4,202.5Z" fill="#455ccf" fill-rule="evenodd"/>
<path d="M149.1,272.4 149.1,274.1 149.0,275.9 150.1,275.9 150.1,275.9 150.0,277.6 150.0,279.3 150.0,281.0 149.9,282.7 149.9,284.4 151.2,284.4 151.2,284.4 151.2,286.1 151.2,287.8 151.3,289.5 151.3,291.2 152.8,291.2 152.8,292.8 152.9,294.6 154.5,294.5 154.5,294.5 154.6,296.2 154.7,297.9 156.4,297.8 156.4,297.8 156.4,297.8 156.6,299.5 158.3,299.3 158.3,299.3 158.3,299.3 158.4,299.3 158.4,299.3 160.1,299.0 160.1,299.0 160.1,299.0 160.1,299.0 160.1,299.0 161.8,298.8 161.8,298.8 162.1,300.4 163.9,300.1 163.9,300.1 163.9,300.1 163.9,300.1 163.9,300.1 165.6,299.7 165.6,299.7 165.7,299.7 165.7,299.7 165.7,299.7 167.4,299.3 167.4,299.3 167.4,299.3 167.4,299.3 167.4,299.3 169.1,298.8 169.1,298.8 169.1,298.8 169.2,298.8 169.2,298.8 170.9,298.3 170.9,298.3 170.9,298.3 170.9,298.3 170.9,298.3 172.6,297.7 173.1,299.3 174.9,298.6 174.9,298.6 174.9,298.6 174.9,298.6 174.9,298.6 176.6,297.9 176.6,297.9 176.6,297.9 176.6,297.9 176.6,297.9 178.3,297.2 178.3,297.2 178.3,297.2 178.3,297.2 178.3,297.2 180.0,296.4 180.0,296.4 180.0,296.4 180.0,296.4 180.0,296.4 181.6,295.6 182.4,297.1 184.1,296.2 184.1,296.2 184.1,296.2 184.1,296.2 184.1,296.2 185.7,295.2 184.9,293.8 186.4,292.8 185.5,291.4 185.5,291.4 187.0,290.4 186.1,288.9 184.6,289.9 183.7,288.4 182.2,289.4 180.8,290.2 179.9,288.7 178.5,289.5 177.0,290.3 176.2,288.7 174.8,289.4 173.3,290.1 172.6,288.5 171.2,289.1 169.7,289.6 169.2,288.0 167.7,288.5 167.2,286.9 165.8,287.3 164.4,287.7 163.9,286.1 162.6,286.4 162.2,284.8 160.8,285.1 159.5,285.3 159.2,283.7 158.9,282.0 160.1,281.8 159.8,280.1 159.8,280.1 159.5,278.4 159.1,276.8 158.8,275.1 158.4,273.5 158.1,271.7 157.1,271.9 156.1,272.1 155.1,272.2 154.1,272.3 153.1,272.4 152.1,272.5 151.1,272.5 150.2,272.5Z" fill="#3e3891" fill-rule="evenodd"/>
<path d="M151.2,275.9 151.2,277.6 151.2,279.3 152.4,279.3 152.4,281.0 152.4,281.0 152.5,282.7 152.6,284.4 153.9,284.3 154.0,286.0 154.1,287.7 154.2,289.4 155.7,289.3 155.8,291.0 157.3,290.8 157.5,292.5 159.1,292.3 159.3,294.0 160.9,293.7 160.9,293.7 160.9,293.7 161.0,293.7 161.0,293.7 162.5,293.4 162.5,293.4 162.5,293.4 162.5,293.4 162.5,293.4 164.1,293.1 164.1,293.1 164.1,293.1 164.1,293.1 164.1,293.1 165.7,292.7 165.2,291.0 163.7,291.4 163.3,289.7 161.8,290.1 161.5,288.4 160.1,288.7 159.8,287.0 158.4,287.2 158.1,285.5 157.9,283.9 157.9,283.9 157.6,282.2 157.4,280.5 158.6,280.3 158.3,278.6 158.0,277.0 156.9,277.1 155.7,277.3 155.5,275.6 154.4,275.7 153.4,275.8 152.3,275.9Z" fill="#455ccf" fill-rule="evenodd"/>
<path d="M106.8,235.0 106.8,233.7 105.1,233.6 105.0,234.9ZM106.8,239.9 106.8,239.9 106.8,239.9 106.9,241.1 106.9,241.1 106.9,241.1 106.9,241.1 106.9,241.1 107.0,242.3 107.0,242.3 107.0,242.3 107.0,242.4 107.0,242.4 107.2,243.6 107.2,243.6 107.2,243.6 107.2,243.6 107.2,243.6 107.4,244.8 107.4,244.8 107.4,244.8 107.4,244.8 107.4,244.8 107.6,246.0 107.6,246.0 107.6,246.0 107.6,246.0 107.6,246.0 107.9,247.2 109.6,246.8 109.9,247.9 109.9,247.9 109.9,247.9 109.9,248.0 109.9,248.0 110.2,249.1 110.2,249.1 110.2,249.1 110.2,249.1 110.2,249.1 110.6,250.2 110.6,250.2 110.6,250.2 110.6,250.2 110.6,250.2 110.9,251.3 110.9,251.3 110.9,251.3 110.9,251.4 110.9,251.4 111.4,252.4 111.4,252.4 111.4,252.5 111.4,252.5 111.4,252.5 111.8,253.5 111.8,253.5 111.8,253.6 111.8,253.6 111.8,253.6 112.3,254.6 112.3,254.6 112.3,254.6 112.3,254.6 112.3,254.6 112.8,255.7 112.8,255.7 112.8,255.7 112.8,255.7 112.8,255.7 113.4,256.8 113.4,256.8 113.4,256.8 113.4,256.8 113.4,256.8 113.9,257.8 113.9,257.8 113.9,257.8 113.9,257.8 113.9,257.8 114.5,258.8 114.5,258.8 114.5,258.8 114.5,258.8 114.5,258.8 115.2,259.8 115.2,259.8 115.2,259.8 115.2,259.8 115.2,259.8 115.8,260.8 114.4,261.8 115.1,262.8 115.1,262.8 115.1,262.8 115.1,262.8 115.1,262.8 115.9,263.8 115.9,263.8 115.9,263.8 115.9,263.8 115.9,263.8 116.6,264.7 116.6,264.7 116.6,264.7 116.6,264.8 116.6,264.8 117.4,265.7 117.4,265.7 117.4,265.7 117.4,265.7 117.4,265.7 118.2,266.6 118.2,266.6 118.2,266.6 118.3,266.6 118.3,266.6 119.1,267.5 120.3,266.3 119.5,265.4 118.7,264.6 118.0,263.6 117.2,262.7 116.5,261.8 115.9,260.8 117.3,259.8 116.6,258.9 116.0,257.9 115.4,256.9 114.9,255.9 114.4,254.9 113.9,253.9 113.4,252.9 113.0,251.8 112.6,250.7 112.2,249.7 111.9,248.6 111.5,247.5 111.3,246.4 111.0,245.3 110.8,244.2 109.1,244.5 108.9,243.3 108.8,242.1 108.6,240.9 108.5,239.8 108.5,238.6 108.4,237.4 106.7,237.4 106.7,238.6 106.7,238.6 106.7,238.7 106.7,238.7 106.7,238.7 106.8,239.9 106.8,239.9Z" fill="#3e3891" fill-rule="evenodd"/>
<use href="#mesh"/>
<path d="M120.9,217.4 120.9,217.4 119.5,216.5 118.9,217.4 118.9,217.4 118.9,217.4 118.9,217.4 118.9,217.4 118.4,218.3 118.4,218.3 118.4,218.3 116.9,217.5 116.4,218.4 117.9,219.2 117.9,219.2 117.4,220.2 117.4,220.2 117.4,220.2 117.4,220.2 117.4,220.2 116.9,221.1 116.9,221.1 116.9,221.1 116.9,221.1 116.9,221.1 116.5,222.1 118.1,222.7 117.7,223.6 117.7,223.6 117.7,223.7 117.7,223.7 117.7,223.7 117.3,224.6 117.3,224.6 117.3,224.6 117.3,224.6 117.3,224.6 117.0,225.5 117.0,225.5 117.0,225.5 117.0,225.5 117.0,225.5 116.7,226.5 118.3,227.0 118.3,227.0 118.3,227.0 118.1,227.9 118.1,227.9 118.1,227.9 118.1,227.9 118.1,227.9 117.8,228.8 119.5,229.2 119.5,229.2 119.3,230.1 120.9,230.4 120.8,231.3 120.8,231.3 120.8,231.3 120.8,231.3 120.8,231.3 120.6,232.1 122.3,232.4 122.3,232.4 124.0,232.6 124.2,231.9 125.8,232.2 126.0,231.5 127.6,231.9 127.8,231.2 129.4,231.6 129.6,231.0 131.2,231.5 131.4,230.9 131.6,230.4 133.2,230.9 133.3,230.4 133.5,229.9 135.1,230.6 135.3,230.1 135.5,229.7 135.7,229.3 135.9,228.8 136.1,228.4 136.4,228.0 136.6,227.6 136.9,227.2 137.2,226.8 137.4,226.4 137.7,226.1 138.0,225.7 138.4,225.4 138.7,225.0 139.0,224.7 137.8,223.5 138.2,223.1 138.6,222.7 139.0,222.4 139.4,222.1 139.8,221.8 140.2,221.5 139.3,220.1 139.7,219.7 140.2,219.4 139.3,218.0 139.9,217.7 139.0,216.2 139.0,216.2 138.2,214.7 138.8,214.4 138.0,212.9 137.3,213.2 137.3,213.2 136.4,211.8 135.8,212.2 135.8,212.2 135.7,212.2 135.7,212.2 135.7,212.2 135.1,212.6 135.1,212.6 135.1,212.6 135.1,212.6 135.1,212.6 134.4,213.0 134.4,213.0 134.4,213.1 134.4,213.1 134.4,213.1 133.7,213.5 133.7,213.5 133.7,213.5 133.7,213.5 133.7,213.5 133.1,214.0 133.1,214.0 133.1,214.0 133.1,214.0 133.1,214.0 132.5,214.5 132.5,214.5 132.5,214.5 132.5,214.5 132.5,214.5 131.9,215.0 131.9,215.0 130.7,213.8 130.1,214.3 130.1,214.3 130.1,214.3 130.1,214.3 130.1,214.3 129.5,214.9 129.5,214.9 129.5,214.9 129.5,214.9 129.5,214.9 128.9,215.5 128.9,215.5 128.9,215.5 128.9,215.5 128.9,215.5 128.3,216.1 127.0,215.0 126.4,215.7 126.4,215.7 126.4,215.7 126.4,215.7 126.4,215.7 125.9,216.4 125.9,216.4 124.5,215.3 124.0,216.0 122.6,215.0 122.0,215.8 122.0,215.8 122.0,215.8 122.0,215.8 122.0,215.8 121.4,216.6 121.4,216.6 121.4,216.6 121.4,216.6 121.4,216.6Z" fill="#ffffff" fill-rule="evenodd"/>
<path d="M140.8,250.5 139.8,251.9 140.2,252.2 140.2,252.2 139.2,253.6 138.3,255.0 138.8,255.3 137.9,256.7 138.4,257.1 138.4,257.1 138.4,257.1 138.4,257.1 138.4,257.1 139.0,257.4 139.0,257.4 139.0,257.4 138.1,258.9 138.8,259.2 138.8,259.2 138.8,259.2 138.8,259.3 138.8,259.3 139.4,259.6 138.6,261.1 139.3,261.4 139.3,261.4 139.3,261.4 139.3,261.4 139.3,261.4 140.0,261.7 140.0,261.7 139.3,263.3 140.1,263.6 140.1,263.6 140.1,263.6 140.1,263.6 140.1,263.6 140.8,263.9 140.2,265.5 141.0,265.8 141.0,265.8 141.0,265.8 140.5,267.4 141.3,267.7 140.8,269.3 141.7,269.6 141.7,269.6 141.8,269.6 141.8,269.6 141.8,269.6 142.7,269.8 142.7,269.8 142.7,269.8 142.7,269.8 142.7,269.8 143.6,270.0 143.6,270.0 143.6,270.0 143.6,270.0 143.6,270.0 144.5,270.2 144.5,270.2 144.5,270.2 144.5,270.2 144.5,270.2 145.5,270.4 145.5,270.4 145.5,270.4 145.5,270.4 145.5,270.4 146.4,270.5 146.4,270.5 146.4,270.5 146.4,270.5 146.4,270.5 147.3,270.6 147.3,270.6 147.3,270.6 147.4,270.6 147.4,270.6 148.3,270.7 148.3,270.7 148.3,270.7 148.3,270.7 148.3,270.7 149.2,270.8 149.2,270.8 149.2,270.8 149.2,270.8 149.2,270.8 150.2,270.8 150.2,270.8 150.2,270.8 150.2,270.8 150.2,270.8 151.1,270.8 151.1,270.8 151.1,270.8 151.1,270.8 151.1,270.8 152.1,270.8 152.1,270.8 152.1,270.8 152.1,270.8 152.1,270.8 153.0,270.8 153.0,270.8 153.0,270.8 153.0,270.8 153.0,270.8 154.0,270.7 154.0,270.7 154.0,270.7 154.0,270.7 154.0,270.7 154.9,270.6 154.9,270.6 154.9,270.6 154.9,270.6 154.9,270.6 155.9,270.5 155.9,270.5 155.9,270.5 155.9,270.5 155.9,270.5 156.8,270.3 156.8,270.3 156.8,270.3 156.8,270.3 156.8,270.3 157.7,270.1 157.7,270.1 157.7,270.1 157.7,270.1 157.7,270.1 158.7,269.9 158.7,269.9 158.7,269.9 158.7,269.9 158.7,269.9 159.6,269.7 159.6,269.7 159.6,269.7 159.6,269.7 159.6,269.7 160.5,269.4 160.5,269.4 160.5,269.4 160.5,269.4 160.5,269.4 161.4,269.2 161.4,269.2 161.4,269.2 161.4,269.2 161.4,269.2 162.3,268.8 161.7,267.2 161.7,267.2 162.6,266.9 162.0,265.3 162.0,265.3 162.8,265.0 162.1,263.5 162.8,263.1 162.8,263.1 162.8,263.1 162.9,263.1 162.9,263.1 163.6,262.8 162.8,261.3 162.1,259.7 161.3,258.2 160.6,256.7 159.8,255.1 159.1,253.6 158.6,253.8 157.9,252.3 157.2,250.7 156.8,250.9 156.4,251.0 156.0,251.2 155.5,249.6 155.1,249.7 154.7,249.8 154.4,249.9 153.9,248.3 153.6,248.4 153.3,248.4 153.0,248.5 152.6,248.6 152.3,248.6 152.1,246.9 151.8,246.9 151.5,247.0 151.3,247.0 151.0,247.0 150.7,247.0 150.4,247.0 150.1,247.0 150.3,245.3 150.0,245.2 149.8,245.2 149.6,246.9 149.3,246.8 149.0,246.8 148.7,246.7 148.4,246.7 148.2,246.6 147.9,246.5 147.6,246.4 147.4,246.3 147.1,246.2 146.8,246.1 146.1,247.7 145.8,247.5 145.5,247.4 145.2,247.3 145.0,247.1 144.7,246.9 144.4,246.7 143.5,248.2 143.1,248.0 142.8,247.7 142.5,247.5 141.5,248.9 141.8,249.1 141.8,249.1Z" fill="#ffffff" fill-rule="evenodd"/>
<polygon points="146.0,268.6 151.0,268.6 151.0,271.2 146.0,271.2" fill="#5d4468"/>
<path d="M127.1,283.8 125.8,283.1 125.0,284.6 124.2,286.2 123.4,287.7 124.8,288.4 124.1,289.9 124.1,289.9 123.3,291.4 124.8,292.2 124.8,292.2 124.8,292.2 124.8,292.2 124.8,292.2 126.4,292.9 126.4,292.9 126.4,292.9 126.4,292.9 126.4,292.9 128.0,293.6 128.0,293.6 128.0,293.6 128.0,293.6 128.0,293.6 129.6,294.2 130.2,292.6 130.2,292.6 131.7,293.1 132.3,291.5 132.8,289.9 132.8,289.9 132.8,289.9 134.3,290.4 134.8,288.8 135.3,287.1 135.3,287.1 135.8,285.5 134.5,285.1 133.1,284.6 131.8,284.1 130.5,283.5 129.2,282.9 128.5,284.5Z" fill="#ffffff" fill-rule="evenodd"/>
<path d="M145.8,187.7 145.8,187.7 145.7,187.8 145.7,187.8 145.7,187.8 144.4,187.9 144.6,189.6 144.6,189.6 143.3,189.8 143.3,189.8 143.3,189.8 143.3,189.8 143.3,189.8 142.0,190.0 142.3,191.7 143.6,191.5 144.8,191.3 146.1,191.2 147.4,191.1 148.7,191.0 149.9,190.9 149.9,189.2 151.2,189.2 152.6,189.2 153.9,189.3 155.2,189.4 156.5,189.6 156.7,187.8 155.4,187.7 155.4,187.7 155.4,187.7 155.4,187.7 155.4,187.7 154.0,187.6 154.0,187.6 154.0,187.6 154.0,187.6 154.0,187.6 152.6,187.5 152.6,187.5 152.6,187.5 152.6,187.5 152.6,187.5 151.3,187.5 151.3,187.5 151.2,187.5 151.2,187.5 151.2,187.5 149.9,187.5 149.9,187.5 149.9,187.5 149.9,187.5 149.9,187.5 148.5,187.5 148.5,187.5 148.5,187.5 148.5,187.5 148.5,187.5 147.1,187.6 147.1,187.6 147.1,187.6 147.1,187.6 147.1,187.6Z" fill="#ffffff" fill-rule="evenodd"/>
<polygon points="107.0,224.0 108.6,224.0 108.6,227.0 107.0,227.0" fill="#ffffff"/>
<use href="#land"/>
</g>
<circle cx="150.9" cy="236.8" r="150.05" fill="none" stroke="#b8b8b8" stroke-width="1.2"/>
<path d="M2.9,214.4 A149.70000000000002,149.70000000000002 0 0 1 65.4,113.9" fill="none" stroke="#000" stroke-width="1.3" stroke-linecap="round"/><path d="M175.2,89.1 A149.70000000000002,149.70000000000002 0 0 1 252.0,126.4" fill="none" stroke="#000" stroke-width="1.3" stroke-linecap="round"/>
<rect x="314.6" y="372.26" width="14.2" height="15.34" fill="#30123b"/>
<rect x="314.6" y="357.22" width="14.2" height="15.34" fill="#3e3891"/>
<rect x="314.6" y="342.18" width="14.2" height="15.34" fill="#455ccf"/>
<rect x="314.6" y="327.14" width="14.2" height="15.34" fill="#4680f6"/>
<rect x="314.6" y="312.10" width="14.2" height="15.34" fill="#3ba0fd"/>
<rect x="314.6" y="297.06" width="14.2" height="15.34" fill="#23c3e4"/>
<rect x="314.6" y="282.02" width="14.2" height="15.34" fill="#18ddc2"/>
<rect x="314.6" y="266.98" width="14.2" height="15.34" fill="#2aefa1"/>
<rect x="314.6" y="251.94" width="14.2" height="15.34" fill="#59fb73"/>
<rect x="314.6" y="236.90" width="14.2" height="15.34" fill="#8bff4b"/>
<rect x="314.6" y="221.86" width="14.2" height="15.34" fill="#b4f836"/>
<rect x="314.6" y="206.82" width="14.2" height="15.34" fill="#d4e735"/>
<rect x="314.6" y="191.78" width="14.2" height="15.34" fill="#efcd3a"/>
<rect x="314.6" y="176.74" width="14.2" height="15.34" fill="#fcb136"/>
<rect x="314.6" y="161.70" width="14.2" height="15.34" fill="#fd8d27"/>
<rect x="314.6" y="146.66" width="14.2" height="15.34" fill="#f36315"/>
<rect x="314.6" y="131.62" width="14.2" height="15.34" fill="#e2430a"/>
<rect x="314.6" y="116.58" width="14.2" height="15.34" fill="#c82803"/>
<rect x="314.6" y="101.54" width="14.2" height="15.34" fill="#a71401"/>
<rect x="314.6" y="86.50" width="14.2" height="15.34" fill="#7a0403"/>
<rect x="314.6" y="86.5" width="14.2" height="300.8" fill="none" stroke="#b9b9b9" stroke-width="0.8"/>
<text x="334.3" y="392.0" font-family="Liberation Sans, sans-serif" font-size="13" fill="#262626">0</text>
<text x="334.3" y="361.9" font-family="Liberation Sans, sans-serif" font-size="13" fill="#262626">1</text>
<text x="334.3" y="331.8" font-family="Liberation Sans, sans-serif" font-size="13" fill="#262626">2</text>
<text x="334.3" y="301.8" font-family="Liberation Sans, sans-serif" font-size="13" fill="#262626">3</text>
<text x="334.3" y="271.7" font-family="Liberation Sans, sans-serif" font-size="13" fill="#262626">4</text>
<text x="334.3" y="241.6" font-family="Liberation Sans, sans-serif" font-size="13" fill="#262626">5</text>
<text x="334.3" y="211.5" font-family="Liberation Sans, sans-serif" font-size="13" fill="#262626">6</text>
<text x="334.3" y="181.4" font-family="Liberation Sans, sans-serif" font-size="13" fill="#262626">7</text>
<text x="334.3" y="151.4" font-family="Liberation Sans, sans-serif" font-size="13" fill="#262626">8</text>
<text x="334.3" y="121.3" font-family="Liberation Sans, sans-serif" font-size="13" fill="#262626">15</text>
<text x="334.3" y="91.2" font-family="Liberation Sans, sans-serif" font-size="13" fill="#262626" stroke="#262626" stroke-width="0.45">30</text>
<text transform="translate(366.8,237.2) rotate(-90)" text-anchor="middle" font-family="Liberation Sans, sans-serif" font-size="15.25" fill="#262626">Sea-ice thickness [m]</text>
</g>
<g transform="translate(787.7,450)">
<text x="153.5" y="69.8" text-anchor="middle" font-family="Liberation Sans, sans-serif" font-size="16.7" fill="#2f4f4f" xml:space="preserve">ECE-FAST -  PSC</text>
<g clip-path="url(#cc)">
<path d="M97.1,184.8 97.1,184.8 97.1,184.8 97.1,184.8 97.1,184.8 95.6,186.4 96.9,187.5 96.9,187.5 96.9,187.5 95.6,189.0 95.6,189.0 95.5,189.0 95.5,189.0 95.5,189.0 94.2,190.6 95.5,191.7 94.3,193.2 94.3,193.2 94.3,193.2 94.3,193.2 94.3,193.2 93.1,194.8 94.5,195.8 93.4,197.4 93.4,197.4 93.4,197.4 93.4,197.4 93.4,197.4 92.3,199.0 93.7,200.0 93.7,200.0 92.7,201.6 94.2,202.5 94.2,202.5 93.2,204.1 94.7,204.9 94.7,204.9 93.8,206.5 95.3,207.3 96.8,208.1 96.1,209.6 96.1,209.6 96.1,209.6 96.1,209.6 96.1,209.6 95.3,211.1 96.9,211.8 96.2,213.3 96.2,213.3 96.2,213.4 96.2,213.4 96.2,213.4 95.6,214.9 94.0,214.3 92.4,213.6 91.8,215.3 91.8,215.3 91.8,215.3 91.8,215.3 91.8,215.3 91.2,217.0 92.8,217.5 92.3,219.1 92.3,219.1 92.3,219.1 92.3,219.1 92.3,219.1 91.8,220.7 91.8,220.7 91.8,220.7 91.8,220.8 91.8,220.8 91.4,222.4 93.0,222.8 93.0,222.8 92.7,224.4 92.7,224.4 92.7,224.4 92.7,224.4 92.7,224.4 92.4,226.0 92.4,226.0 92.4,226.1 92.4,226.1 92.4,226.1 92.1,227.7 93.8,228.0 93.8,228.0 93.8,228.0 93.5,229.5 93.5,229.5 93.5,229.6 93.5,229.6 93.5,229.6 93.4,231.1 93.4,231.1 93.4,231.2 93.4,231.2 93.4,231.2 93.2,232.8 93.2,232.8 93.2,232.8 93.2,232.8 93.2,232.8 93.1,234.4 94.8,234.5 94.8,234.5 94.8,234.5 94.8,236.0 94.8,236.0 94.8,236.0 94.8,236.0 94.8,236.0 94.8,237.6 94.8,237.6 94.8,237.6 94.8,237.6 94.8,237.6 94.8,239.1 94.8,239.1 94.8,239.2 94.8,239.2 94.8,239.2 94.9,240.7 94.9,240.7 94.9,240.7 94.9,240.7 94.9,240.7 95.0,242.3 95.0,242.3 95.0,242.3 95.0,242.3 95.0,242.3 95.2,243.8 95.2,243.8 95.2,243.8 95.2,243.8 95.2,243.8 95.4,245.4 95.4,245.4 95.4,245.4 95.4,245.4 95.4,245.4 95.7,246.9 95.7,246.9 95.7,246.9 95.7,246.9 95.7,246.9 96.0,248.5 97.7,248.1 98.0,249.6 98.0,249.6 98.0,249.6 98.0,249.6 98.0,249.6 98.4,251.1 98.4,251.1 98.4,251.1 98.4,251.1 98.4,251.1 98.8,252.5 98.8,252.5 98.8,252.5 98.8,252.5 98.8,252.5 99.3,254.0 99.3,254.0 99.3,254.0 99.3,254.0 99.3,254.0 99.8,255.4 99.8,255.4 99.8,255.4 99.8,255.4 99.8,255.4 100.3,256.8 100.3,256.8 100.3,256.8 100.3,256.8 100.3,256.8 100.9,258.2 100.9,258.2 100.9,258.2 100.9,258.2 100.9,258.2 101.5,259.6 101.5,259.6 101.5,259.6 101.5,259.6 101.5,259.6 102.2,261.0 102.2,261.0 102.2,261.0 102.2,261.0 102.2,261.0 102.8,262.3 102.8,262.3 102.9,262.3 102.9,262.4 102.9,262.4 103.6,263.7 103.6,263.7 103.6,263.7 103.6,263.7 103.6,263.7 104.3,265.0 104.3,265.0 104.4,265.0 104.4,265.0 104.4,265.0 105.2,266.3 105.2,266.3 105.2,266.3 105.2,266.3 105.2,266.3 106.0,267.5 106.0,267.5 106.0,267.5 106.0,267.6 106.0,267.6 106.9,268.8 106.9,268.8 106.9,268.8 106.9,268.8 106.9,268.8 107.8,270.0 107.8,270.0 107.8,270.0 107.8,270.0 107.8,270.0 108.7,271.2 110.1,270.1 110.1,270.1 111.0,271.2 111.0,271.2 111.0,271.2 111.0,271.3 111.0,271.3 112.0,272.3 112.0,272.3 112.0,272.3 112.0,272.4 112.0,272.4 113.0,273.4 113.0,273.4 113.0,273.4 113.0,273.4 113.0,273.4 114.0,274.5 114.0,274.5 114.0,274.5 114.0,274.5 114.0,274.5 115.1,275.5 116.2,274.2 117.3,275.2 117.3,275.2 117.3,275.2 117.3,275.2 117.3,275.2 118.4,276.1 118.4,276.1 118.4,276.1 118.4,276.1 118.4,276.1 119.5,277.0 119.5,277.0 119.5,277.0 119.5,277.0 119.5,277.0 120.6,277.9 120.6,277.9 120.6,277.9 120.6,277.9 120.6,277.9 121.8,278.7 120.8,280.1 122.0,280.9 122.0,280.9 121.1,282.3 122.4,283.1 122.4,283.1 121.5,284.6 122.8,285.4 122.8,285.4 122.0,286.9 123.4,287.7 122.6,289.2 124.1,289.9 124.1,289.9 124.1,289.9 124.1,289.9 124.1,289.9 125.5,290.6 125.5,290.7 124.8,292.2 126.4,292.9 126.4,292.9 126.4,292.9 126.4,292.9 126.4,292.9 128.0,293.6 128.0,293.6 128.0,293.6 128.0,293.6 128.0,293.6 129.5,294.2 129.5,294.2 129.0,295.8 130.6,296.4 130.1,298.0 129.5,299.6 131.3,300.1 131.3,300.2 130.8,301.8 132.6,302.3 132.6,302.3 132.6,302.3 132.6,302.3 132.6,302.3 134.4,302.8 134.0,304.4 135.9,304.9 135.9,304.9 135.9,304.9 135.9,304.9 135.9,304.9 137.8,305.3 137.8,305.3 137.5,307.0 139.5,307.3 139.5,307.3 139.5,307.3 139.5,307.3 139.5,307.3 141.4,307.6 141.4,307.6 141.5,307.6 141.5,307.6 141.5,307.6 143.4,307.8 143.4,307.8 143.4,307.8 143.4,307.8 143.4,307.8 145.4,308.0 145.4,308.0 145.4,308.0 145.4,308.0 145.4,308.0 147.4,308.1 147.4,308.1 147.4,308.1 147.4,308.1 147.4,308.1 149.4,308.2 149.4,308.2 149.4,309.9 151.4,309.9 151.4,309.9 151.4,309.9 151.4,309.9 151.4,309.9 153.4,309.9 153.4,309.9 153.5,309.9 153.5,309.9 153.5,309.9 155.5,309.8 155.5,309.8 155.5,309.8 155.5,309.8 155.5,309.8 157.5,309.6 157.5,309.6 157.5,309.6 157.5,309.6 157.5,309.6 159.5,309.4 159.5,309.4 159.6,309.4 159.6,309.4 159.6,309.4 161.6,309.1 161.6,309.1 161.6,309.1 161.6,309.1 161.6,309.1 163.6,308.8 163.6,308.8 163.6,308.8 163.6,308.8 163.6,308.8 165.6,308.4 165.6,308.4 165.6,308.4 165.6,308.4 165.6,308.4 167.6,308.0 167.6,308.0 167.6,308.0 167.6,308.0 167.6,308.0 169.6,307.5 169.6,307.5 169.6,307.5 169.6,307.5 169.6,307.5 171.5,306.9 171.5,306.9 171.5,306.9 171.6,306.9 171.6,306.9 173.5,306.3 174.0,308.0 176.0,307.3 176.0,307.3 176.0,307.3 176.0,307.3 176.0,307.3 177.9,306.6 177.9,306.6 178.0,306.6 178.0,306.6 178.0,306.6 179.9,305.8 179.9,305.8 179.9,305.8 179.9,305.8 179.9,305.8 181.8,304.9 181.8,304.9 181.8,304.9 181.8,304.9 181.8,304.9 183.7,304.1 183.7,304.1 183.7,304.0 183.7,304.0 183.7,304.0 185.6,303.1 185.6,303.1 185.6,303.1 185.6,303.1 185.6,303.1 187.4,302.1 187.4,302.1 187.4,302.1 187.4,302.1 187.4,302.1 189.2,301.1 189.2,301.1 189.2,301.1 189.2,301.1 189.2,301.1 191.0,300.0 191.0,300.0 191.0,300.0 191.0,300.0 191.0,300.0 192.8,298.8 191.8,297.4 191.8,297.4 193.5,296.3 193.5,296.3 193.5,296.3 193.5,296.2 193.5,296.2 195.1,295.1 195.1,295.1 195.1,295.0 195.1,295.0 195.1,295.0 196.7,293.8 196.7,293.8 196.7,293.8 196.7,293.8 196.7,293.8 198.3,292.5 198.3,292.5 198.3,292.5 198.3,292.5 198.3,292.5 199.8,291.1 199.8,291.1 199.8,291.1 199.8,291.1 199.8,291.1 201.3,289.7 200.2,288.5 201.6,287.1 201.6,287.1 201.6,287.1 201.6,287.1 201.6,287.1 203.0,285.7 203.0,285.7 203.0,285.7 203.0,285.7 203.0,285.7 204.3,284.2 204.3,284.2 204.3,284.2 204.3,284.2 204.3,284.2 205.6,282.7 205.6,282.7 205.6,282.7 205.6,282.7 205.6,282.7 206.9,281.2 206.9,281.2 206.9,281.2 206.9,281.2 206.9,281.2 208.1,279.6 208.1,279.6 208.1,279.6 208.1,279.6 208.1,279.6 209.3,278.0 209.3,278.0 209.3,278.0 209.3,278.0 209.3,278.0 210.4,276.3 210.4,276.3 210.4,276.3 210.4,276.3 210.4,276.3 211.5,274.6 210.0,273.7 210.0,273.7 211.0,272.1 211.0,272.1 211.0,272.1 211.0,272.1 211.0,272.1 212.0,270.4 212.0,270.4 212.0,270.4 212.0,270.4 212.0,270.4 212.9,268.7 212.9,268.7 212.9,268.7 212.9,268.7 212.9,268.7 213.8,266.9 213.8,266.9 213.8,266.9 213.8,266.9 213.8,266.9 214.6,265.2 214.6,265.2 214.6,265.2 214.6,265.1 214.6,265.1 215.4,263.4 215.4,263.4 215.4,263.4 216.9,264.0 217.7,262.2 217.7,262.2 217.7,262.2 217.7,262.1 217.7,262.1 218.3,260.3 218.3,260.3 218.3,260.3 218.4,260.3 218.4,260.3 219.0,258.4 219.0,258.4 219.0,258.4 219.0,258.4 219.0,258.4 219.5,256.5 219.5,256.5 219.6,256.5 219.6,256.5 219.6,256.5 220.1,254.6 220.1,254.6 220.1,254.6 220.1,254.5 220.1,254.5 220.5,252.6 220.5,252.6 220.5,252.6 220.5,252.6 220.5,252.6 221.0,250.7 221.0,250.7 221.0,250.7 221.0,250.7 221.0,250.7 221.3,248.7 221.3,248.7 221.3,248.7 221.3,248.7 221.3,248.7 221.6,246.8 221.6,246.8 221.6,246.7 221.6,246.7 221.6,246.7 221.9,244.8 221.9,244.8 221.9,244.8 221.9,244.7 221.9,244.7 222.1,242.8 222.1,242.8 222.1,242.8 222.1,242.8 222.1,242.8 222.2,240.8 223.9,240.9 224.0,238.9 224.0,238.9 224.0,238.8 224.0,238.8 224.0,238.8 224.0,236.8 224.0,236.8 224.0,236.8 224.0,236.8 224.0,236.8 224.0,234.8 224.0,234.8 224.0,234.8 224.0,234.7 224.0,234.7 223.9,232.7 223.9,232.7 223.9,232.7 223.9,232.7 223.9,232.7 223.8,230.7 223.8,230.7 223.8,230.7 223.8,230.7 223.8,230.7 223.6,228.7 223.6,228.7 223.6,228.6 223.6,228.6 223.6,228.6 223.3,226.6 223.3,226.6 223.3,226.6 223.3,226.6 223.3,226.6 223.0,224.6 223.0,224.6 223.0,224.6 223.0,224.6 223.0,224.6 222.6,222.6 221.0,222.9 220.5,221.0 220.5,221.0 220.5,221.0 220.5,221.0 220.5,221.0 220.1,219.1 220.1,219.1 220.1,219.0 220.1,219.0 220.1,219.0 219.6,217.1 219.6,217.1 219.6,217.1 219.5,217.1 219.5,217.1 219.0,215.2 219.0,215.2 219.0,215.2 219.0,215.2 219.0,215.2 218.4,213.3 218.4,213.3 218.3,213.3 218.3,213.3 218.3,213.3 217.7,211.4 216.1,212.0 216.1,212.0 216.1,212.0 215.4,210.2 215.4,210.2 215.4,210.2 215.4,210.2 215.4,210.2 214.6,208.5 214.6,208.5 214.6,208.4 214.6,208.4 214.6,208.4 213.8,206.7 213.8,206.7 213.8,206.7 213.8,206.7 213.8,206.7 212.9,204.9 212.9,204.9 212.9,204.9 212.9,204.9 212.9,204.9 212.0,203.2 212.0,203.2 212.0,203.2 212.0,203.2 212.0,203.2 211.0,201.5 211.0,201.5 211.0,201.5 211.0,201.5 211.0,201.5 210.0,199.8 208.6,200.7 208.6,200.7 207.6,199.2 207.6,199.2 207.6,199.2 207.5,199.1 207.5,199.1 206.5,197.6 206.5,197.6 206.5,197.6 206.5,197.6 206.5,197.6 205.4,196.0 204.0,197.1 202.9,195.6 202.9,195.6 202.9,195.6 202.9,195.6 202.9,195.6 201.7,194.2 201.7,194.2 201.7,194.2 201.7,194.2 201.7,194.2 200.5,192.8 200.5,192.8 200.5,192.8 200.5,192.8 200.5,192.8 199.3,191.4 199.3,191.4 199.2,191.4 199.2,191.4 199.2,191.4 197.9,190.1 196.7,191.3 196.7,191.3 195.5,190.0 195.5,190.0 195.5,190.0 195.5,190.0 195.5,190.0 194.1,188.8 193.0,190.0 193.0,190.0 191.7,188.9 191.7,188.9 191.7,188.9 191.7,188.9 191.7,188.9 190.3,187.8 189.3,189.1 187.9,188.0 187.9,188.0 187.9,188.0 187.9,188.0 187.9,188.0 186.5,187.0 186.5,187.0 186.5,187.0 186.5,187.0 186.5,187.0 185.1,186.1 185.1,186.1 185.1,186.0 185.1,186.0 185.1,186.0 183.7,185.1 183.7,185.1 183.7,185.1 183.7,185.1 183.7,185.1 182.3,184.2 182.3,184.2 182.2,184.2 182.2,184.2 182.2,184.2 180.8,183.4 180.8,183.4 180.8,183.4 180.8,183.4 180.8,183.4 179.3,182.6 179.3,182.6 179.3,182.5 179.3,182.5 179.3,182.5 177.7,181.8 177.7,181.8 177.7,181.8 177.7,181.8 177.7,181.8 176.2,181.1 176.2,181.1 176.2,181.0 176.2,181.0 176.2,181.0 174.6,180.4 174.6,180.4 174.6,180.4 174.6,180.4 174.6,180.4 173.0,179.7 173.1,179.7 173.7,178.1 172.0,177.5 172.0,177.5 172.0,177.5 172.0,177.5 172.0,177.5 170.4,177.0 170.4,177.0 170.3,177.0 170.3,177.0 170.3,177.0 168.7,176.4 169.2,174.8 167.4,174.3 167.4,174.3 167.4,174.3 167.4,174.3 167.4,174.3 165.7,173.9 166.1,172.2 164.2,171.8 164.6,170.2 162.7,169.8 162.7,169.8 162.7,169.8 162.7,169.8 162.7,169.8 160.8,169.5 161.1,167.8 159.2,167.6 159.2,167.6 159.2,167.6 159.1,167.6 159.1,167.6 157.2,167.4 157.2,167.4 157.4,165.7 155.4,165.5 155.4,165.5 155.4,165.5 155.4,165.5 155.4,165.5 153.4,165.4 153.4,165.4 153.4,165.4 153.4,165.4 153.4,165.4 151.4,165.4 151.4,165.4 151.4,163.7 151.4,162.0 149.3,162.0 149.3,162.0 149.3,162.0 149.3,162.0 149.3,162.0 147.3,162.1 147.3,162.1 147.2,162.1 147.2,162.1 147.2,162.1 145.2,162.2 145.2,162.2 145.2,162.2 145.1,162.2 145.1,162.2 143.1,162.4 143.1,162.4 143.1,162.4 143.1,162.4 143.1,162.4 141.0,162.6 141.0,162.6 140.8,161.0 138.7,161.3 138.7,161.3 138.7,161.3 138.7,161.3 138.7,161.3 136.6,161.6 136.6,161.6 136.6,161.6 136.5,161.6 136.5,161.6 134.5,162.1 134.5,162.1 134.5,162.1 134.5,162.1 134.5,162.1 132.4,162.5 132.4,162.5 132.4,162.5 132.0,160.9 129.9,161.5 129.9,161.5 129.9,161.5 129.9,161.5 129.9,161.5 127.8,162.1 127.8,162.1 127.8,162.1 127.8,162.1 127.8,162.1 125.7,162.7 125.7,162.7 125.7,162.8 125.7,162.8 125.7,162.8 123.6,163.5 123.6,163.5 123.6,163.5 123.6,163.5 123.6,163.5 121.6,164.3 121.6,164.3 121.6,164.3 121.6,164.3 121.6,164.3 119.6,165.1 119.6,165.1 119.6,165.1 119.6,165.1 119.6,165.1 117.6,166.0 117.6,166.0 117.6,166.0 117.6,166.0 117.6,166.0 115.6,167.0 115.6,167.0 115.6,167.0 115.6,167.0 115.6,167.0 113.7,168.0 113.7,168.0 113.7,168.0 113.7,168.0 113.7,168.0 111.8,169.1 112.6,170.5 112.6,170.5 112.6,170.5 110.8,171.6 110.8,171.6 110.8,171.6 110.8,171.6 110.8,171.6 109.0,172.8 109.0,172.8 109.0,172.8 109.0,172.8 109.0,172.8 107.2,174.0 107.2,174.0 107.2,174.0 107.2,174.0 107.2,174.0 105.5,175.2 105.5,175.2 105.5,175.2 105.5,175.2 105.5,175.2 103.8,176.5 103.8,176.5 103.8,176.5 103.8,176.5 103.8,176.5 102.1,177.9 103.2,179.2 103.2,179.2 103.2,179.2 101.6,180.5 101.6,180.5 101.6,180.5 101.6,180.5 101.6,180.5 100.1,181.9 100.1,181.9 100.1,181.9 100.1,181.9 100.1,181.9 98.6,183.3 98.6,183.3 98.6,183.3 98.5,183.4 98.5,183.4Z" fill="#e6eff5" fill-rule="evenodd"/>
<path d="M104.5,189.4 104.5,189.4 104.5,189.4 104.5,189.4 104.5,189.4 103.2,190.7 103.2,190.7 103.2,190.7 103.2,190.7 103.2,190.7 101.9,192.1 101.9,192.1 101.9,192.1 101.9,192.1 101.9,192.1 100.7,193.5 100.7,193.5 100.7,193.5 100.7,193.5 100.7,193.5 99.5,194.9 99.5,194.9 99.5,194.9 99.5,194.9 99.5,194.9 98.4,196.3 98.4,196.3 98.4,196.3 98.3,196.3 98.3,196.3 97.2,197.8 98.6,198.8 98.6,198.8 97.6,200.3 99.0,201.3 100.4,202.2 100.4,202.2 99.4,203.6 100.9,204.6 102.3,205.5 103.7,206.4 105.2,207.3 106.6,208.3 108.0,209.2 109.4,210.1 109.4,210.1 109.4,210.1 108.7,211.3 110.2,212.2 111.7,213.0 113.1,213.9 113.8,212.9 115.2,213.8 115.8,212.8 117.2,213.8 117.9,212.8 119.3,213.8 119.9,213.0 120.6,212.1 121.3,211.3 122.0,210.4 122.8,209.7 123.6,208.9 124.3,208.1 125.5,209.4 126.3,208.7 127.1,208.0 127.9,207.3 128.7,206.7 129.6,206.1 128.6,204.7 129.5,204.1 130.4,203.5 131.4,203.0 132.3,202.4 133.3,201.9 134.3,201.4 135.3,201.0 134.6,199.4 135.6,199.0 136.7,198.6 136.1,197.0 137.2,196.6 138.3,196.2 137.8,194.6 139.0,194.2 138.6,192.6 139.8,192.3 139.4,190.6 139.0,189.0 140.3,188.7 140.0,187.0 141.4,186.7 141.0,185.1 142.5,184.8 142.2,183.1 143.7,182.9 143.5,181.2 145.0,181.0 144.9,179.3 144.9,179.3 144.7,177.6 146.3,177.5 146.2,175.8 146.1,174.1 147.8,174.0 147.8,172.3 147.7,170.6 147.6,168.9 147.6,168.9 147.5,167.2 147.4,165.5 149.4,165.4 149.4,163.7 147.3,163.8 147.3,163.8 147.3,163.8 147.3,163.8 147.3,163.8 145.3,163.9 145.3,163.9 145.3,163.9 145.3,163.9 145.3,163.9 143.3,164.1 143.3,164.1 143.3,164.1 143.2,164.1 143.2,164.1 141.2,164.3 141.2,164.3 141.2,164.3 141.2,164.3 141.2,164.3 139.2,164.6 139.5,166.3 137.5,166.6 137.5,166.6 137.5,166.6 137.5,166.6 137.5,166.6 135.6,167.0 135.6,167.0 135.6,167.0 135.5,167.0 135.5,167.0 133.6,167.5 134.0,169.2 134.0,169.2 132.2,169.6 132.2,169.6 132.2,169.6 132.1,169.7 132.1,169.7 130.3,170.2 130.3,170.2 130.3,170.2 130.3,170.2 130.3,170.2 128.4,170.8 128.4,170.8 128.4,170.8 128.4,170.8 128.4,170.8 126.6,171.5 127.2,173.1 127.2,173.1 125.4,173.7 125.4,173.7 125.4,173.7 125.4,173.7 125.4,173.7 123.7,174.5 123.7,174.5 123.7,174.5 123.7,174.5 123.7,174.5 122.0,175.2 122.0,175.2 121.9,175.3 121.9,175.3 121.9,175.3 120.2,176.1 120.2,176.1 120.2,176.1 120.2,176.1 120.2,176.1 118.6,177.0 118.6,177.0 118.5,177.0 118.5,177.0 118.5,177.0 116.9,177.9 117.7,179.4 117.7,179.4 116.2,180.3 116.2,180.3 116.1,180.3 116.1,180.3 116.1,180.3 114.6,181.3 114.6,181.3 114.6,181.3 114.6,181.3 114.6,181.3 113.1,182.3 113.1,182.3 113.1,182.3 113.0,182.3 113.0,182.3 111.6,183.4 111.6,183.4 111.5,183.4 111.5,183.4 111.5,183.4 110.1,184.5 110.1,184.5 110.1,184.5 110.1,184.5 110.1,184.5 108.6,185.7 108.6,185.7 108.6,185.7 108.6,185.7 108.6,185.7 107.2,186.9 107.2,186.9 107.2,186.9 107.2,186.9 107.2,186.9 105.8,188.1 105.8,188.1 105.8,188.1 105.8,188.1 105.8,188.1Z" fill="#d5e6f0" fill-rule="evenodd"/>
<path d="M96.4,223.6 96.4,223.6 96.4,223.6 96.4,223.6 96.4,223.6 96.0,225.1 96.0,225.1 96.0,225.1 96.0,225.1 96.0,225.1 95.7,226.7 95.7,226.7 95.7,226.7 95.7,226.7 95.7,226.7 95.4,228.2 97.1,228.5 96.9,230.0 96.9,230.0 96.9,230.0 96.9,230.0 96.9,230.0 96.7,231.5 96.7,231.5 96.7,231.5 96.7,231.5 96.7,231.5 96.6,233.0 96.6,233.0 96.6,233.0 96.6,233.0 96.6,233.0 96.5,234.5 96.5,234.5 96.5,234.5 96.5,234.5 96.5,234.5 96.5,236.1 98.2,236.1 98.2,236.1 98.2,237.5 98.2,237.5 98.2,237.5 98.2,237.5 98.2,237.5 98.2,239.0 98.2,239.0 98.2,239.0 98.2,239.0 98.2,239.0 98.3,240.5 98.3,240.5 98.3,240.5 98.3,240.5 98.3,240.5 98.4,241.9 98.4,241.9 98.4,241.9 98.4,242.0 98.4,242.0 98.6,243.4 98.6,243.4 98.6,243.4 98.6,243.4 98.6,243.4 98.8,244.9 98.8,244.9 98.8,244.9 98.8,244.9 98.8,244.9 99.0,246.3 99.0,246.3 99.0,246.3 99.0,246.3 99.0,246.3 99.3,247.8 99.3,247.8 99.3,247.8 99.3,247.8 99.3,247.8 99.7,249.2 99.7,249.2 99.7,249.2 99.7,249.2 99.7,249.2 100.0,250.6 100.0,250.6 100.0,250.6 100.0,250.6 100.0,250.6 100.4,252.0 102.1,251.6 102.5,252.9 102.5,252.9 102.5,252.9 102.5,252.9 102.5,252.9 103.0,254.2 103.0,254.2 103.0,254.2 103.0,254.3 103.0,254.3 103.5,255.6 103.5,255.6 103.5,255.6 103.5,255.6 103.5,255.6 104.0,256.9 104.0,256.9 104.0,256.9 104.0,256.9 104.0,256.9 104.6,258.2 104.6,258.2 104.6,258.2 104.6,258.2 104.6,258.2 105.2,259.5 105.2,259.5 105.2,259.5 105.2,259.5 105.2,259.5 105.8,260.7 105.8,260.7 105.9,260.8 105.9,260.8 105.9,260.8 106.5,262.0 106.5,262.0 106.5,262.0 106.5,262.0 106.5,262.0 107.3,263.2 107.3,263.2 107.3,263.2 107.3,263.2 107.3,263.2 108.0,264.4 108.0,264.4 108.0,264.4 108.0,264.4 108.0,264.4 108.8,265.6 108.8,265.6 108.8,265.6 108.8,265.6 108.8,265.6 109.6,266.8 109.6,266.8 109.6,266.8 109.6,266.8 109.6,266.8 110.5,267.9 110.5,267.9 110.5,267.9 110.5,267.9 110.5,267.9 111.4,269.0 111.4,269.0 111.4,269.0 111.4,269.1 111.4,269.1 112.3,270.1 112.3,270.1 112.3,270.1 112.3,270.1 112.3,270.1 113.2,271.2 113.2,271.2 113.2,271.2 113.2,271.2 113.2,271.2 114.2,272.2 114.2,272.2 114.2,272.2 114.2,272.2 114.2,272.2 115.2,273.2 115.2,273.2 115.2,273.3 115.2,273.3 115.2,273.3 116.2,274.2 116.2,274.2 116.2,274.2 116.2,274.2 116.2,274.2 117.3,275.2 117.3,275.2 117.3,275.2 117.3,275.2 117.3,275.2 118.4,276.1 118.4,276.1 118.4,276.1 118.4,276.1 118.4,276.1 119.5,277.0 119.5,277.0 119.5,277.0 119.5,277.0 119.5,277.0 120.6,277.9 120.6,277.9 120.6,277.9 120.6,277.9 120.6,277.9 121.8,278.7 121.8,278.7 120.8,280.1 122.0,280.9 122.0,280.9 122.0,280.9 122.0,280.9 122.0,280.9 123.3,281.7 123.3,281.7 123.3,281.7 123.3,281.7 123.3,281.7 124.5,282.5 124.5,282.5 124.5,282.5 124.5,282.5 124.5,282.5 125.8,283.2 125.8,283.2 125.0,284.7 126.4,285.4 126.4,285.4 126.4,285.4 126.4,285.4 126.4,285.4 127.7,286.0 127.7,286.0 127.7,286.0 127.7,286.0 127.7,286.0 129.1,286.7 128.4,288.2 129.9,288.8 129.9,288.8 129.9,288.8 129.9,288.8 129.9,288.8 131.3,289.4 130.7,291.0 132.3,291.5 132.3,291.5 132.3,291.5 132.3,291.5 132.3,291.5 133.8,292.0 133.8,292.0 133.8,292.0 133.8,292.0 133.8,292.0 135.3,292.5 134.9,294.1 136.5,294.5 136.5,294.5 136.5,294.6 136.5,294.6 136.5,294.6 138.1,294.9 138.1,294.9 137.7,296.6 139.4,296.9 139.4,296.9 139.4,296.9 139.4,296.9 139.4,296.9 141.1,297.2 141.1,297.2 141.1,297.2 141.1,297.2 141.1,297.2 142.8,297.5 142.8,297.5 142.8,297.5 142.8,297.5 142.8,297.5 144.5,297.7 144.5,297.7 144.3,299.4 146.1,299.5 146.1,299.5 146.1,299.5 146.1,299.5 146.1,299.5 147.8,299.6 147.8,299.6 147.8,299.6 147.8,299.6 147.8,299.6 149.6,299.7 149.6,299.7 149.6,299.7 149.6,299.7 149.6,299.7 151.3,299.7 151.3,299.7 151.3,299.7 151.4,299.7 151.4,299.7 153.1,299.7 153.1,299.7 153.1,299.7 153.1,301.4 154.9,301.3 154.9,301.3 155.0,301.3 155.0,301.3 155.0,301.3 156.7,301.2 156.7,301.2 156.8,301.2 156.8,301.2 156.8,301.2 158.5,301.0 158.5,301.0 158.6,301.0 158.6,301.0 158.6,301.0 160.3,300.7 160.3,300.7 160.3,300.7 160.4,300.7 160.4,300.7 162.1,300.4 162.1,300.4 162.1,300.4 162.1,300.4 162.1,300.4 163.9,300.1 163.9,300.1 163.9,300.1 163.9,300.1 163.9,300.1 165.6,299.7 165.6,299.7 166.0,301.4 167.8,300.9 167.8,300.9 167.8,300.9 167.9,300.9 167.9,300.9 169.6,300.4 169.6,300.4 169.6,300.4 169.6,300.4 169.6,300.4 171.4,299.9 171.4,299.9 171.4,299.9 171.4,299.9 171.4,299.9 173.1,299.3 173.7,300.9 175.5,300.2 175.5,300.2 175.5,300.2 175.5,300.2 175.5,300.2 177.2,299.5 177.2,299.5 177.3,299.5 177.3,299.5 177.3,299.5 179.0,298.7 179.0,298.8 179.0,298.7 179.0,298.7 179.0,298.7 180.7,297.9 180.7,297.9 180.7,297.9 180.7,297.9 180.7,297.9 182.4,297.1 182.4,297.1 182.4,297.1 182.4,297.1 182.4,297.1 184.1,296.2 184.1,296.2 184.1,296.2 184.1,296.2 184.1,296.2 185.7,295.2 185.7,295.2 185.7,295.2 185.7,295.2 185.7,295.2 187.3,294.2 187.3,294.2 187.3,294.2 187.4,294.2 187.4,294.2 188.9,293.2 188.9,293.2 188.9,293.2 188.9,293.2 188.9,293.2 190.5,292.1 189.5,290.7 191.0,289.6 191.0,289.6 191.0,289.6 191.0,289.6 191.0,289.6 192.4,288.5 192.4,288.5 192.5,288.5 192.5,288.5 192.5,288.5 193.9,287.3 193.9,287.3 193.9,287.3 193.9,287.3 193.9,287.3 195.3,286.1 195.3,286.1 195.3,286.1 195.3,286.1 195.3,286.1 196.6,284.8 196.6,284.8 196.6,284.8 196.6,284.8 196.6,284.8 197.9,283.5 197.9,283.5 198.0,283.5 198.0,283.5 198.0,283.5 199.2,282.2 199.2,282.2 199.2,282.2 199.3,282.2 199.3,282.2 200.5,280.8 200.5,280.8 200.5,280.8 200.5,280.8 200.5,280.8 201.7,279.4 200.4,278.3 201.5,276.9 201.5,276.9 201.5,276.9 201.6,276.9 201.6,276.9 202.6,275.5 202.6,275.5 202.6,275.5 202.7,275.5 202.7,275.5 203.7,274.1 203.7,274.1 203.7,274.0 203.7,274.0 203.7,274.0 204.7,272.6 204.7,272.6 204.7,272.6 204.7,272.5 204.7,272.5 205.7,271.1 205.7,271.1 205.7,271.0 205.7,271.0 205.7,271.0 206.6,269.5 206.6,269.5 206.6,269.5 206.6,269.5 206.6,269.5 207.5,267.9 207.5,267.9 207.5,267.9 207.5,267.9 207.5,267.9 208.4,266.3 208.4,266.3 208.4,266.3 208.4,266.3 208.4,266.3 209.2,264.7 209.2,264.7 209.2,264.7 209.2,264.7 209.2,264.7 209.9,263.1 209.9,263.1 209.9,263.1 209.9,263.1 209.9,263.1 210.6,261.4 210.6,261.4 210.6,261.4 210.6,261.4 210.6,261.4 211.3,259.8 212.9,260.4 213.5,258.6 213.5,258.6 213.5,258.6 213.5,258.6 213.5,258.6 214.1,256.9 214.1,256.9 214.1,256.9 214.1,256.8 214.1,256.8 214.6,255.1 214.6,255.1 214.7,255.1 214.7,255.1 214.7,255.1 215.1,253.3 215.1,253.3 215.1,253.3 215.1,253.3 215.1,253.3 215.6,251.5 215.6,251.5 215.6,251.5 215.6,251.5 215.6,251.5 216.0,249.7 216.0,249.7 216.0,249.7 216.0,249.7 216.0,249.7 216.3,247.9 216.3,247.9 216.3,247.9 216.3,247.8 216.3,247.8 216.6,246.0 216.6,246.0 216.6,246.0 216.6,246.0 216.6,246.0 216.8,244.2 216.8,244.2 216.8,244.2 216.8,244.2 216.8,244.2 217.0,242.4 217.0,242.4 217.0,242.3 217.0,242.3 217.0,242.3 217.1,240.5 217.1,240.5 217.1,240.5 217.1,240.5 217.1,240.5 217.2,238.7 217.2,238.7 217.2,238.7 217.2,238.6 217.2,238.6 217.2,236.8 217.2,236.8 217.2,236.8 217.2,236.8 217.2,236.8 217.2,235.0 217.2,235.0 217.2,234.9 217.2,234.9 217.2,234.9 217.1,233.1 217.1,233.1 217.1,233.1 217.1,233.1 217.1,233.1 217.0,231.3 217.0,231.3 217.0,231.3 217.0,231.2 217.0,231.2 216.8,229.4 216.8,229.4 216.8,229.4 216.8,229.4 216.8,229.4 216.6,227.6 216.6,227.6 216.6,227.6 216.6,227.6 216.6,227.6 216.3,225.8 216.3,225.8 216.3,225.7 216.3,225.7 216.3,225.7 216.0,223.9 216.0,223.9 216.0,223.9 216.0,223.9 216.0,223.9 215.6,222.1 215.6,222.1 215.6,222.1 215.6,222.1 215.6,222.1 215.1,220.3 215.1,220.3 215.1,220.3 215.1,220.3 215.1,220.3 214.7,218.5 214.7,218.5 214.7,218.5 214.6,218.5 214.6,218.5 214.1,216.8 214.1,216.8 214.1,216.7 214.1,216.7 214.1,216.7 213.5,215.0 213.5,215.0 213.5,215.0 213.5,215.0 213.5,215.0 212.9,213.3 212.9,213.3 212.9,213.2 212.9,213.2 212.9,213.2 212.2,211.5 212.2,211.5 212.2,211.5 212.2,211.5 212.2,211.5 211.5,209.8 211.5,209.8 211.5,209.8 211.5,209.8 211.5,209.8 210.7,208.2 210.7,208.2 210.7,208.1 210.7,208.1 210.7,208.1 209.9,206.5 209.9,206.5 209.9,206.5 209.9,206.5 209.9,206.5 209.0,204.9 209.0,204.9 209.0,204.9 209.0,204.8 209.0,204.8 208.1,203.3 208.1,203.3 208.1,203.2 208.1,203.2 208.1,203.2 207.1,201.7 207.1,201.7 207.1,201.7 207.1,201.6 207.1,201.6 206.1,200.1 206.1,200.1 206.1,200.1 206.1,200.1 206.1,200.1 205.1,198.6 205.1,198.6 205.1,198.6 205.1,198.6 205.1,198.6 204.0,197.1 202.6,198.1 202.6,198.1 201.6,196.7 201.6,196.7 201.5,196.7 201.5,196.7 201.5,196.7 200.4,195.3 200.4,195.3 200.4,195.3 200.4,195.3 200.4,195.3 199.2,193.9 199.2,193.9 199.2,193.9 199.2,193.9 199.2,193.9 198.0,192.6 198.0,192.6 198.0,192.6 198.0,192.6 198.0,192.6 196.7,191.3 195.5,192.5 194.3,191.2 194.3,191.2 194.3,191.2 194.3,191.2 194.3,191.2 193.0,190.1 193.0,190.0 193.0,190.0 193.0,190.0 193.0,190.0 191.7,188.9 190.6,190.2 189.3,189.1 189.3,189.1 189.3,189.1 189.3,189.1 189.3,189.1 187.9,188.0 187.9,188.0 187.9,188.0 187.9,188.0 187.9,188.0 186.5,187.0 185.5,188.4 184.2,187.5 184.2,187.5 184.2,187.5 184.2,187.4 184.2,187.4 182.8,186.6 182.8,186.6 182.8,186.5 182.8,186.5 182.8,186.5 181.4,185.7 181.4,185.7 181.4,185.7 181.4,185.7 181.4,185.7 179.9,184.8 179.9,184.8 180.8,183.4 179.3,182.6 179.3,182.6 179.3,182.5 179.3,182.5 179.3,182.5 177.7,181.8 177.7,181.8 177.7,181.8 177.7,181.8 177.7,181.8 176.2,181.1 176.2,181.1 176.2,181.0 176.2,181.0 176.2,181.0 174.6,180.4 174.6,180.4 174.6,180.4 174.6,180.4 174.6,180.4 173.0,179.7 173.1,179.7 173.0,179.7 173.0,179.7 173.0,179.7 171.4,179.1 171.4,179.1 172.0,177.5 170.4,177.0 170.4,177.0 170.3,177.0 170.3,177.0 170.3,177.0 168.7,176.4 169.2,174.8 167.4,174.3 167.4,174.3 167.4,174.3 167.4,174.3 167.4,174.3 165.7,173.9 165.7,173.9 166.1,172.2 164.2,171.8 164.2,171.8 164.2,171.8 164.2,171.8 164.2,171.8 162.4,171.5 162.4,171.5 162.7,169.8 160.8,169.5 161.1,167.8 159.1,167.6 158.9,169.3 157.1,169.1 156.9,170.8 156.9,170.8 155.1,170.6 154.9,172.3 154.9,172.3 153.2,172.2 153.2,172.2 153.2,172.2 153.1,172.2 153.1,172.2 151.3,172.2 151.3,173.9 151.3,175.6 151.3,175.6 151.3,177.3 151.3,177.3 151.3,177.3 149.6,177.3 149.7,179.0 149.7,180.7 149.7,182.4 148.2,182.4 148.3,184.2 148.4,185.9 149.8,185.8 151.3,185.8 152.7,185.9 154.1,185.9 154.2,184.2 155.7,184.3 155.5,186.0 156.9,186.2 158.3,186.4 159.8,186.6 161.2,186.9 162.5,187.2 163.9,187.5 165.3,187.9 166.7,188.3 168.0,188.8 169.3,189.3 170.7,189.8 171.3,188.2 172.7,188.8 174.0,189.5 175.3,190.1 176.6,190.8 177.9,191.6 179.1,192.3 180.4,193.1 181.6,194.0 182.8,194.8 183.9,195.7 185.0,196.7 186.1,197.7 187.2,198.7 188.3,199.7 189.3,200.7 190.3,201.8 191.3,202.9 192.2,204.1 193.5,203.0 194.4,204.2 195.3,205.5 196.2,206.7 197.0,208.0 197.8,209.3 198.6,210.6 199.3,211.9 199.9,213.3 200.6,214.7 201.2,216.1 201.7,217.5 202.3,218.9 202.7,220.4 203.2,221.8 203.6,223.3 203.9,224.8 205.6,224.4 205.9,225.9 204.2,226.2 204.5,227.7 204.8,229.2 204.9,230.7 205.1,232.2 205.2,233.8 205.3,235.3 205.3,236.8 205.3,238.3 205.2,239.8 205.1,241.4 204.9,242.9 204.8,244.4 204.5,245.9 204.2,247.4 205.9,247.7 205.6,249.2 205.2,250.7 204.8,252.2 203.2,251.8 202.7,253.2 202.3,254.7 201.7,256.1 201.2,257.5 200.6,258.9 199.9,260.3 199.3,261.7 198.6,263.0 197.8,264.3 197.0,265.6 196.2,266.9 195.3,268.1 194.4,269.4 195.8,270.4 194.8,271.6 193.9,272.8 192.8,274.0 191.8,275.2 190.7,276.3 191.9,277.5 190.7,278.6 189.6,279.7 188.3,280.8 187.1,281.8 186.0,280.5 184.8,281.5 183.5,282.4 182.3,283.3 180.9,284.1 179.6,285.0 178.8,283.5 177.4,284.3 176.1,285.0 174.7,285.7 173.4,286.3 172.0,286.9 170.6,287.5 169.1,288.0 167.7,288.5 166.3,289.0 164.8,289.4 163.3,289.7 162.9,288.1 162.9,288.1 162.9,288.1 162.6,286.4 161.2,286.7 160.8,285.1 159.5,285.3 159.2,283.7 157.9,283.9 157.6,282.2 156.3,282.4 156.1,280.7 154.9,280.8 154.8,279.1 153.6,279.2 153.5,277.5 152.3,277.6 152.3,275.9 151.2,275.9 150.1,275.9 150.1,274.2 149.1,274.1 148.0,274.1 147.0,274.0 146.0,273.9 144.9,273.7 143.9,273.5 142.9,273.3 141.9,273.1 140.8,272.8 139.8,272.5 138.9,272.2 137.9,271.8 136.9,271.5 135.9,271.1 135.0,270.6 134.0,270.2 133.1,269.7 132.2,269.2 131.4,270.6 130.4,270.1 129.5,269.5 128.6,268.9 127.7,268.3 126.8,267.6 125.8,268.9 124.9,268.2 124.0,267.5 123.2,266.7 122.4,265.9 121.6,265.1 122.8,264.0 122.0,263.2 121.3,262.3 120.6,261.5 119.9,260.6 119.3,259.8 117.9,260.8 117.3,259.8 116.6,258.9 116.0,257.9 115.4,256.9 114.9,255.9 114.4,254.9 113.9,253.9 113.4,252.9 111.9,253.5 111.4,252.4 111.0,251.3 110.6,250.2 110.2,249.1 109.9,247.9 109.6,246.8 109.3,245.6 109.1,244.5 108.9,243.3 108.8,242.1 108.6,240.9 106.9,241.1 106.8,239.9 106.8,238.7 106.7,237.4 106.7,236.2 106.8,234.9 106.8,233.7 105.1,233.6 105.2,232.3 105.4,231.0 105.6,229.8 103.9,229.5 104.1,228.2 104.4,226.9 104.7,225.6 103.0,225.2 103.3,223.9 103.7,222.5 102.1,222.1 100.5,221.6 100.9,220.2 99.3,219.6 97.7,219.1 96.0,218.5 95.6,220.1 95.6,220.1 95.5,220.1 95.5,220.1 95.5,220.1 95.1,221.7 96.7,222.1 96.7,222.1Z" fill="#d5e6f0" fill-rule="evenodd"/>
<path d="M149.6,177.3 149.6,177.3 148.0,177.4 148.1,179.0 148.1,179.0 146.5,179.2 146.6,180.8 145.0,181.0 145.0,181.0 145.0,181.0 145.0,181.0 145.0,181.0 143.5,181.2 143.7,182.9 143.7,182.9 142.2,183.1 142.5,184.8 142.5,184.8 142.5,184.8 141.0,185.0 141.3,186.7 141.7,188.4 143.0,188.2 143.3,189.8 144.6,189.6 145.9,189.5 145.8,187.8 147.1,187.7 148.5,187.6 149.9,187.5 151.2,187.5 152.6,187.6 152.7,185.9 154.1,185.9 155.5,186.0 156.9,186.2 158.3,186.4 159.8,186.6 161.2,186.9 162.5,187.2 163.9,187.5 165.3,187.9 166.7,188.3 168.0,188.8 169.3,189.3 170.7,189.8 172.0,190.4 173.2,191.0 174.5,191.6 175.3,190.1 176.6,190.8 177.9,191.6 179.1,192.3 180.0,190.9 181.3,191.7 182.5,192.6 181.6,194.0 182.8,194.8 183.9,195.8 185.0,194.4 186.1,195.4 187.3,196.4 188.4,197.4 189.6,196.2 190.7,197.3 191.9,196.1 193.0,197.2 194.1,198.4 195.4,197.3 196.5,198.6 197.8,197.5 198.8,198.8 199.9,200.2 201.3,199.1 202.7,198.1 201.6,196.7 201.6,196.7 201.5,196.7 201.5,196.7 201.5,196.7 200.4,195.3 201.7,194.2 200.5,192.8 199.2,193.9 199.2,193.9 198.0,192.6 198.0,192.6 198.0,192.6 198.0,192.6 198.0,192.6 196.7,191.3 195.5,192.5 194.3,191.2 194.3,191.2 194.3,191.2 194.3,191.2 194.3,191.2 193.0,190.0 191.9,191.3 191.9,191.3 190.6,190.2 190.6,190.2 190.6,190.2 190.6,190.2 190.6,190.2 189.3,189.1 189.3,189.1 189.3,189.1 189.3,189.1 189.3,189.1 187.9,188.0 187.9,188.0 187.9,188.0 187.9,188.0 187.9,188.0 186.5,187.0 185.5,188.4 184.2,187.5 184.2,187.5 184.2,187.5 184.2,187.4 184.2,187.4 182.8,186.6 182.8,186.6 182.8,186.5 182.8,186.5 182.8,186.5 181.4,185.7 181.4,185.7 181.4,185.7 181.4,185.7 181.4,185.7 179.9,184.8 179.9,184.8 180.8,183.4 179.3,182.6 179.3,182.6 179.3,182.5 179.3,182.5 179.3,182.5 177.7,181.8 177.7,181.8 177.7,181.8 177.7,181.8 177.7,181.8 176.2,181.1 176.2,181.1 176.2,181.0 176.2,181.0 176.2,181.0 174.6,180.4 174.6,180.4 174.6,180.4 175.3,178.8 173.7,178.1 173.7,178.1 173.7,178.1 173.6,178.1 173.6,178.1 172.0,177.5 172.0,177.5 172.0,177.5 172.0,177.5 172.0,177.5 170.4,177.0 170.4,177.0 170.4,177.0 170.9,175.3 169.2,174.8 169.2,174.8 169.1,174.8 169.1,174.8 169.1,174.8 167.4,174.3 167.4,174.3 167.9,172.7 166.1,172.2 166.1,172.2 166.0,172.2 166.0,172.2 166.0,172.2 164.2,171.8 164.6,170.2 162.7,169.8 162.7,169.8 162.7,169.8 163.0,168.1 161.1,167.8 161.1,167.8 161.1,167.8 161.1,167.8 161.1,167.8 159.2,167.6 159.2,167.6 159.2,167.6 159.1,167.6 159.1,167.6 157.2,167.4 157.1,169.1 157.1,169.1 155.2,168.9 155.1,170.6 155.1,170.6 155.1,170.6 153.2,170.5 153.1,172.2 151.3,172.2 151.3,173.9 151.3,173.9 149.6,173.9 149.6,175.6Z" fill="#bddbea" fill-rule="evenodd"/>
<path d="M133.3,271.7 132.3,271.2 131.5,272.7 130.5,272.1 129.5,271.5 128.6,273.0 127.6,272.3 126.6,271.7 125.7,273.1 124.7,272.4 123.6,273.8 124.7,274.5 124.7,274.5 124.7,274.5 124.7,274.5 124.7,274.5 125.7,275.2 125.7,275.2 125.8,275.2 125.8,275.2 125.8,275.2 126.8,275.9 126.8,275.9 126.8,275.9 126.8,275.9 126.8,275.9 127.9,276.6 127.1,278.0 128.2,278.7 128.2,278.7 128.3,278.7 128.3,278.7 128.3,278.7 129.4,279.3 129.4,279.3 129.4,279.3 129.4,279.3 129.4,279.3 130.6,279.9 130.6,279.9 130.6,279.9 130.6,279.9 130.6,279.9 131.8,280.4 131.8,280.4 131.8,280.4 131.8,280.4 131.8,280.4 133.1,280.9 133.1,280.9 133.1,281.0 133.1,281.0 133.1,281.0 134.3,281.4 134.3,281.4 133.7,283.0 135.0,283.5 135.0,283.5 135.0,283.5 135.0,283.5 135.0,283.5 136.3,283.9 136.3,283.9 136.3,283.9 136.3,283.9 136.3,283.9 137.6,284.3 137.6,284.3 137.6,284.3 137.2,285.9 137.2,285.9 136.7,287.5 136.7,287.5 136.3,289.2 136.3,289.2 135.8,290.8 137.3,291.2 136.9,292.9 138.5,293.3 138.5,293.3 138.5,293.3 138.1,294.9 139.7,295.3 139.7,295.3 139.4,296.9 141.1,297.2 141.4,295.6 143.0,295.8 143.0,295.8 143.0,295.8 143.0,295.8 143.0,295.8 144.7,296.0 144.7,296.0 144.7,296.0 144.7,296.0 144.7,296.0 146.3,296.1 146.5,294.5 146.5,294.5 146.5,294.5 148.1,294.6 148.2,292.9 148.3,291.1 148.3,291.1 148.3,289.5 148.4,287.8 148.5,286.1 148.6,284.3 148.6,284.3 148.7,282.6 148.7,282.6 148.8,280.9 147.5,280.9 147.6,279.2 147.8,277.5 147.9,275.8 146.8,275.7 147.0,274.0 146.0,273.9 144.9,273.7 143.9,273.5 142.9,273.3 141.9,273.1 140.8,272.8 139.8,272.5 138.9,272.2 137.9,271.8 136.9,271.5 135.9,271.1 135.2,272.6 134.3,272.2Z" fill="#c4dfec" fill-rule="evenodd"/>
<path d="M199.3,208.4 200.0,209.8 200.8,211.2 201.5,212.6 202.1,214.0 202.7,215.4 203.3,216.9 203.9,218.4 204.4,219.8 204.8,221.3 205.2,222.8 203.6,223.3 203.9,224.8 204.2,226.2 204.5,227.7 204.8,229.2 204.9,230.7 205.1,232.2 205.2,233.8 205.3,235.3 205.3,236.8 205.3,238.3 205.2,239.8 205.1,241.4 204.9,242.9 204.8,244.4 204.5,245.9 204.2,247.4 203.9,248.8 203.6,250.3 203.2,251.8 202.7,253.2 202.3,254.7 201.7,256.1 201.2,257.5 200.6,258.9 199.9,260.3 199.3,261.7 198.6,263.0 197.8,264.3 199.3,265.2 198.5,266.5 199.9,267.4 199.9,267.4 201.4,268.4 202.2,266.9 202.2,266.9 202.2,266.9 202.2,266.9 202.2,266.9 203.1,265.5 203.1,265.5 203.1,265.5 203.1,265.5 203.1,265.5 203.8,264.0 203.8,264.0 203.8,264.0 203.8,264.0 203.8,264.0 204.6,262.5 204.6,262.5 204.6,262.5 204.6,262.5 204.6,262.5 205.3,261.0 205.3,261.0 205.3,261.0 205.3,261.0 205.3,261.0 205.9,259.5 205.9,259.5 205.9,259.5 205.9,259.5 205.9,259.5 206.5,257.9 206.5,257.9 206.5,257.9 206.5,257.9 206.5,257.9 207.1,256.4 207.1,256.4 207.1,256.4 207.1,256.4 207.1,256.4 207.6,254.8 207.6,254.8 207.6,254.8 207.6,254.8 207.6,254.8 208.1,253.2 208.1,253.2 208.1,253.2 208.1,253.2 208.1,253.2 208.5,251.6 208.5,251.6 208.5,251.6 210.2,252.0 210.6,250.4 210.6,250.4 210.6,250.4 210.6,250.4 210.6,250.4 211.0,248.7 211.0,248.7 211.0,248.7 211.0,248.7 211.0,248.7 211.3,247.0 211.3,247.0 211.3,247.0 211.3,247.0 211.3,247.0 211.5,245.3 211.5,245.3 211.5,245.3 211.5,245.3 211.5,245.3 211.7,243.6 211.7,243.6 211.7,243.6 211.7,243.6 211.7,243.6 211.9,241.9 211.9,241.9 211.9,241.9 211.9,241.9 211.9,241.9 212.0,240.2 212.0,240.2 212.0,240.2 212.0,240.2 212.0,240.2 212.1,238.5 212.1,238.5 212.1,238.5 212.1,238.5 212.1,238.5 212.1,236.8 212.1,236.8 212.1,236.8 212.1,236.8 212.1,236.8 212.1,235.1 212.1,235.1 212.1,235.1 212.1,235.1 212.1,235.1 212.0,233.4 212.0,233.4 212.0,233.4 212.0,233.4 212.0,233.4 211.9,231.7 211.9,231.7 213.6,231.5 213.4,229.8 213.4,229.8 213.4,229.8 213.4,229.8 213.4,229.8 213.2,228.1 213.2,228.1 213.2,228.0 213.2,228.0 213.2,228.0 212.9,226.3 212.9,226.3 212.9,226.3 212.9,226.3 212.9,226.3 212.6,224.6 212.6,224.6 212.6,224.6 212.6,224.6 212.6,224.6 212.3,222.9 212.3,222.9 212.3,222.9 212.3,222.8 212.3,222.8 211.8,221.2 211.8,221.2 211.8,221.2 211.8,221.1 211.8,221.1 211.4,219.5 211.4,219.5 211.4,219.5 211.4,219.4 211.4,219.4 210.9,217.8 210.9,217.8 210.9,217.8 210.9,217.8 210.9,217.8 210.3,216.1 210.3,216.1 210.3,216.1 210.3,216.1 210.3,216.1 209.7,214.5 209.7,214.5 209.7,214.5 209.7,214.4 209.7,214.4 209.1,212.8 209.1,212.8 209.1,212.8 209.1,212.8 209.1,212.8 208.4,211.2 208.4,211.2 208.4,211.2 208.4,211.2 208.4,211.2 207.6,209.6 207.6,209.6 207.6,209.6 207.6,209.6 207.6,209.6 206.9,208.1 206.9,208.1 206.9,208.0 206.9,208.0 206.9,208.0 206.0,206.5 206.0,206.5 206.0,206.5 206.0,206.5 206.0,206.5 205.2,205.0 205.2,205.0 205.2,205.0 205.2,204.9 205.2,204.9 204.3,203.5 204.3,203.5 204.3,203.5 204.3,203.4 204.3,203.4 203.3,202.0 201.9,202.9 202.8,204.4 201.3,205.3 199.9,206.2 198.5,207.1Z" fill="#c9e0ed" fill-rule="evenodd"/>
<path d="M113.0,210.8 112.3,211.9 112.3,211.9 112.3,211.9 112.3,211.9 112.3,211.9 111.6,213.0 113.1,213.9 113.1,213.9 114.5,214.8 116.0,215.7 117.5,216.6 118.1,215.6 118.7,214.7 119.3,213.8 119.9,213.0 120.6,212.1 121.9,213.2 122.6,212.4 121.3,211.3 121.3,211.2 120.0,210.1 119.3,211.0 119.3,211.0 118.0,209.9 117.2,210.9 117.2,210.8 115.9,209.8 115.1,210.8 115.1,210.8 115.1,210.8 115.1,210.8 115.1,210.8 114.4,211.8Z" fill="#c9e0ed" fill-rule="evenodd"/>
<path d="M162.9,288.1 161.5,288.4 160.0,288.7 160.3,290.4 161.8,290.1 161.8,290.1 161.8,290.1 161.9,290.1 161.9,290.1 163.3,289.8 163.3,289.8 163.7,291.4 165.2,291.1 165.2,291.1 165.2,291.1 165.2,291.1 165.2,291.1 166.7,290.6 166.7,290.6 166.7,290.6 166.8,290.6 166.8,290.6 168.2,290.2 168.8,291.8 170.3,291.3 170.3,291.3 170.3,291.3 170.3,291.3 170.3,291.3 171.8,290.7 171.8,290.7 171.8,290.7 171.8,290.7 171.8,290.7 173.3,290.1 173.3,290.1 173.3,290.1 174.0,291.7 175.5,291.0 174.8,289.4 174.1,287.9 172.6,288.5 171.2,289.1 169.7,289.6 169.2,288.0 167.7,288.5 166.3,289.0 164.8,289.4 164.4,287.7Z" fill="#f7ece6" fill-rule="evenodd"/>
<path d="M151.4,165.4 151.4,165.4 149.4,165.4 149.4,167.1 149.5,168.8 149.5,170.5 149.5,172.2 151.4,172.2 153.2,172.3 153.2,170.6 155.1,170.7 155.2,169.0 157.1,169.1 157.2,167.4 159.2,167.6 159.4,165.9 157.4,165.7 157.4,165.7 157.5,164.0 155.5,163.8 155.5,163.8 155.5,163.8 155.5,163.8 155.5,163.8 153.5,163.7 153.5,163.7 153.5,163.7 153.4,163.7 153.4,163.7 151.4,163.7Z" fill="#ffffff" fill-rule="evenodd"/>
<path d="M128.7,280.8 127.9,282.3 127.9,282.3 127.1,283.8 127.1,283.8 126.4,285.3 126.4,285.3 125.6,286.9 127.0,287.6 127.0,287.6 126.3,289.1 126.3,289.1 125.5,290.7 127.1,291.3 126.4,292.9 128.0,293.6 128.0,293.6 128.0,293.6 128.0,293.6 128.0,293.6 129.6,294.2 130.2,292.6 131.7,293.1 132.3,291.5 132.8,289.9 132.8,289.9 132.8,289.9 134.3,290.4 134.8,288.8 135.3,287.1 135.3,287.1 135.8,285.5 136.3,283.9 135.0,283.5 133.7,283.0 132.4,282.5 131.2,282.0 129.9,281.4Z" fill="#ffffff" fill-rule="evenodd"/>
<path d="M122.8,220.8 122.8,220.8 122.8,220.8 122.8,220.8 122.8,220.8 122.4,221.6 122.4,221.6 120.9,220.8 120.4,221.7 120.4,221.7 120.4,221.7 120.4,221.7 120.4,221.7 120.0,222.5 120.0,222.5 120.0,222.5 120.0,222.5 120.0,222.5 119.6,223.4 119.6,223.4 119.6,223.4 119.6,223.4 119.6,223.4 119.3,224.3 119.3,224.3 119.3,224.3 119.3,224.3 119.3,224.3 118.9,225.2 118.9,225.2 118.9,225.2 118.9,225.2 118.9,225.2 118.6,226.1 118.6,226.1 118.6,226.1 118.6,226.1 118.6,226.1 118.3,227.0 118.3,227.0 118.3,227.0 118.3,227.0 118.3,227.0 118.1,227.9 118.1,227.9 118.1,227.9 118.1,227.9 118.1,227.9 117.8,228.8 119.5,229.2 119.5,229.2 119.3,230.1 120.9,230.4 120.8,231.3 120.8,231.3 120.8,231.3 120.8,231.3 120.8,231.3 120.6,232.1 122.3,232.4 124.0,232.6 125.7,232.9 125.8,232.2 127.5,232.5 127.6,231.9 127.8,231.2 129.4,231.6 129.6,231.0 131.2,231.5 131.4,230.9 133.0,231.4 133.2,230.9 133.3,230.4 134.9,231.0 135.1,230.5 135.3,230.1 135.5,229.7 137.0,230.4 137.2,230.0 137.4,229.6 137.6,229.3 137.8,228.9 138.1,228.5 138.3,228.2 136.9,227.2 137.2,226.8 137.4,226.4 137.7,226.1 138.0,225.7 138.4,225.4 138.7,225.0 139.0,224.7 137.8,223.5 138.2,223.1 138.6,222.7 139.0,222.4 139.4,222.1 138.4,220.7 138.8,220.4 139.3,220.1 139.7,219.7 138.8,218.3 139.3,218.0 139.9,217.7 140.4,217.4 139.6,215.9 139.6,215.8 138.8,214.3 138.0,212.9 138.0,212.9 137.2,211.4 136.4,209.9 135.5,208.4 134.7,206.9 133.9,207.3 133.9,207.3 133.9,207.3 133.9,207.3 133.9,207.3 133.1,207.8 133.1,207.8 133.1,207.8 133.1,207.8 133.1,207.8 132.3,208.3 132.3,208.3 132.3,208.3 132.3,208.3 132.3,208.3 131.5,208.9 131.5,208.9 131.5,208.9 131.5,208.9 131.5,208.9 130.7,209.4 130.7,209.4 130.7,209.4 130.7,209.4 130.7,209.4 130.0,210.0 130.0,210.0 130.0,210.0 129.9,210.0 129.9,210.0 129.2,210.6 130.3,211.9 129.6,212.5 129.6,212.5 129.6,212.5 129.6,212.5 129.6,212.5 128.9,213.1 128.9,213.1 128.9,213.1 128.9,213.1 128.9,213.1 128.3,213.7 128.3,213.7 128.3,213.7 128.3,213.7 128.3,213.7 127.7,214.3 127.7,214.3 127.7,214.3 127.6,214.4 127.6,214.4 127.0,215.0 127.0,215.0 127.0,215.0 127.0,215.0 127.0,215.0 126.4,215.7 126.4,215.7 126.4,215.7 126.4,215.7 126.4,215.7 125.9,216.4 125.9,216.4 125.9,216.4 125.8,216.4 125.8,216.4 125.3,217.1 125.3,217.1 125.3,217.1 125.3,217.1 125.3,217.1 124.8,217.8 124.8,217.8 124.8,217.8 124.7,217.8 124.7,217.8 124.2,218.5 124.2,218.5 124.2,218.5 124.2,218.5 124.2,218.5 123.7,219.3 123.7,219.3 123.7,219.3 123.7,219.3 123.7,219.3 123.3,220.1 123.3,220.1 123.3,220.1 123.3,220.1 123.3,220.1Z" fill="#ffffff" fill-rule="evenodd"/>
<path d="M140.8,250.5 139.8,251.9 140.2,252.2 140.2,252.2 139.2,253.6 138.3,255.0 138.8,255.3 137.9,256.7 138.4,257.1 138.4,257.1 138.4,257.1 138.4,257.1 138.4,257.1 139.0,257.4 139.0,257.4 139.0,257.4 138.1,258.9 138.8,259.2 138.8,259.2 138.8,259.2 138.8,259.3 138.8,259.3 139.4,259.6 138.6,261.1 139.3,261.4 139.3,261.4 139.3,261.4 139.3,261.4 139.3,261.4 140.0,261.7 140.0,261.7 139.3,263.3 140.1,263.6 140.1,263.6 140.1,263.6 140.1,263.6 140.1,263.6 140.8,263.9 140.2,265.5 141.0,265.8 141.0,265.8 141.0,265.8 140.5,267.4 141.3,267.7 140.8,269.3 141.7,269.6 141.7,269.6 141.3,271.2 140.8,272.8 141.8,273.1 141.8,273.1 141.8,273.1 141.9,273.1 141.9,273.1 142.9,273.3 142.9,273.3 142.9,273.3 142.9,273.3 142.9,273.3 143.9,273.6 143.9,273.6 143.9,273.6 143.9,273.6 143.9,273.6 144.9,273.7 144.9,273.7 144.9,273.7 144.9,273.7 144.9,273.7 145.9,273.9 145.9,273.9 146.0,273.9 146.0,273.9 146.0,273.9 147.0,274.0 147.0,274.0 147.0,274.0 147.0,274.0 147.0,274.0 148.0,274.1 148.0,274.1 148.0,274.1 148.0,274.1 148.0,274.1 149.1,274.2 149.1,274.2 149.1,274.2 149.1,274.2 149.1,274.2 150.1,274.2 150.1,274.2 150.1,274.2 150.1,274.2 150.1,274.2 151.2,274.2 151.2,274.2 151.2,274.2 151.2,274.2 151.2,274.2 152.2,274.2 152.2,274.2 152.2,274.2 152.2,274.2 152.2,274.2 153.2,274.1 153.2,274.1 153.2,274.1 153.3,274.1 153.3,274.1 154.3,274.1 154.3,274.1 154.3,274.1 154.3,274.1 154.3,274.1 155.3,274.0 155.1,272.3 155.1,272.3 155.1,272.3 156.1,272.1 156.1,272.1 156.1,272.1 156.1,272.1 156.1,272.1 157.1,272.0 157.1,272.0 157.1,272.0 157.1,272.0 157.1,272.0 158.1,271.8 158.1,271.8 158.1,271.8 158.1,271.8 158.1,271.8 159.0,271.6 159.4,273.2 160.5,273.0 160.5,273.0 160.5,273.0 160.5,273.0 160.5,273.0 161.5,272.7 161.0,271.1 161.0,271.1 161.9,270.8 161.4,269.2 161.4,269.2 162.3,268.8 161.7,267.2 161.7,267.2 162.6,266.9 162.0,265.3 162.0,265.3 162.8,265.0 162.1,263.5 162.8,263.1 162.8,263.1 162.8,263.1 162.9,263.1 162.9,263.1 163.6,262.8 162.8,261.3 162.1,259.7 161.3,258.2 160.6,256.7 159.8,255.1 159.1,253.6 158.6,253.8 157.9,252.3 157.2,250.7 156.8,250.9 156.4,251.0 156.0,251.2 155.5,249.6 155.1,249.7 154.7,249.8 154.4,249.9 153.9,248.3 153.6,248.4 153.3,248.4 153.0,248.5 152.6,248.6 152.3,248.6 152.1,246.9 151.8,246.9 151.5,247.0 151.3,247.0 151.0,247.0 150.7,247.0 150.4,247.0 150.1,247.0 150.3,245.3 150.0,245.2 149.8,245.2 149.6,246.9 149.3,246.8 149.0,246.8 148.7,246.7 148.4,246.7 148.2,246.6 147.9,246.5 147.6,246.4 147.4,246.3 147.1,246.2 146.8,246.1 146.1,247.7 145.8,247.5 145.5,247.4 145.2,247.3 145.0,247.1 144.7,246.9 144.4,246.7 143.5,248.2 143.1,248.0 142.8,247.7 142.5,247.5 141.5,248.9 141.8,249.1 141.8,249.1Z" fill="#ffffff" fill-rule="evenodd"/>
<polygon points="97.5,226.0 100.0,226.0 100.0,229.0 97.5,229.0" fill="#ffffff"/>
<polygon points="99.0,238.0 102.0,238.0 102.0,241.5 99.0,241.5" fill="#ffffff"/>
<polygon points="98.0,212.0 100.0,212.0 100.0,214.0 98.0,214.0" fill="#ffffff"/>
<polygon points="129.0,205.0 131.0,203.5 133.0,207.0 131.0,209.0" fill="#ffffff"/>
<use href="#land"/>
</g>
<circle cx="150.9" cy="236.8" r="150.05" fill="none" stroke="#b8b8b8" stroke-width="1.2"/>
<path d="M2.9,214.4 A149.70000000000002,149.70000000000002 0 0 1 65.4,113.9" fill="none" stroke="#000" stroke-width="1.3" stroke-linecap="round"/><path d="M175.2,89.1 A149.70000000000002,149.70000000000002 0 0 1 252.0,126.4" fill="none" stroke="#000" stroke-width="1.3" stroke-linecap="round"/>
<rect x="314.6" y="363.76" width="14.2" height="10.84" fill="#0f437b"/>
<rect x="314.6" y="353.22" width="14.2" height="10.84" fill="#195696"/>
<rect x="314.6" y="342.68" width="14.2" height="10.84" fill="#246aae"/>
<rect x="314.6" y="332.15" width="14.2" height="10.84" fill="#307ab6"/>
<rect x="314.6" y="321.61" width="14.2" height="10.84" fill="#3e8cbf"/>
<rect x="314.6" y="311.07" width="14.2" height="10.84" fill="#529dc8"/>
<rect x="314.6" y="300.53" width="14.2" height="10.84" fill="#71b0d3"/>
<rect x="314.6" y="289.99" width="14.2" height="10.84" fill="#8dc2dc"/>
<rect x="314.6" y="279.45" width="14.2" height="10.84" fill="#a7d0e4"/>
<rect x="314.6" y="268.92" width="14.2" height="10.84" fill="#bddbea"/>
<rect x="314.6" y="258.38" width="14.2" height="10.84" fill="#d2e6f0"/>
<rect x="314.6" y="247.84" width="14.2" height="10.84" fill="#e1edf3"/>
<rect x="314.6" y="237.30" width="14.2" height="10.84" fill="#eff3f5"/>
<rect x="314.6" y="226.76" width="14.2" height="10.84" fill="#f8f2ef"/>
<rect x="314.6" y="216.22" width="14.2" height="10.84" fill="#fae8de"/>
<rect x="314.6" y="205.68" width="14.2" height="10.84" fill="#fdddcb"/>
<rect x="314.6" y="195.15" width="14.2" height="10.84" fill="#fbccb4"/>
<rect x="314.6" y="184.61" width="14.2" height="10.84" fill="#f7b799"/>
<rect x="314.6" y="174.07" width="14.2" height="10.84" fill="#f3a481"/>
<rect x="314.6" y="163.53" width="14.2" height="10.84" fill="#e98b6e"/>
<rect x="314.6" y="152.99" width="14.2" height="10.84" fill="#dd7059"/>
<rect x="314.6" y="142.45" width="14.2" height="10.84" fill="#d25849"/>
<rect x="314.6" y="131.92" width="14.2" height="10.84" fill="#c43b3c"/>
<rect x="314.6" y="121.38" width="14.2" height="10.84" fill="#b72230"/>
<rect x="314.6" y="110.84" width="14.2" height="10.84" fill="#9f1228"/>
<rect x="314.6" y="100.30" width="14.2" height="10.84" fill="#840924"/>
<polygon points="314.6,100.3 321.70000000000005,86.2 328.8,100.3" fill="#67001f"/>
<polygon points="314.6,374.3 321.70000000000005,387.2 328.8,374.3" fill="#053061"/>
<polygon points="314.6,100.3 321.70000000000005,86.2 328.8,100.3 328.8,374.3 321.70000000000005,387.2 314.6,374.3" fill="none" stroke="#c4c4c4" stroke-width="0.8"/>
<text x="334.3" y="379.0" font-family="Liberation Sans, sans-serif" font-size="13" fill="#262626">−5</text>
<text x="334.3" y="351.6" font-family="Liberation Sans, sans-serif" font-size="13" fill="#262626">−4</text>
<text x="334.3" y="324.2" font-family="Liberation Sans, sans-serif" font-size="13" fill="#262626">−3</text>
<text x="334.3" y="296.8" font-family="Liberation Sans, sans-serif" font-size="13" fill="#262626">−2</text>
<text x="334.3" y="269.4" font-family="Liberation Sans, sans-serif" font-size="13" fill="#262626">−1</text>
<text x="334.3" y="242.0" font-family="Liberation Sans, sans-serif" font-size="13" fill="#262626">0</text>
<text x="334.3" y="214.6" font-family="Liberation Sans, sans-serif" font-size="13" fill="#262626">1</text>
<text x="334.3" y="187.2" font-family="Liberation Sans, sans-serif" font-size="13" fill="#262626">2</text>
<text x="334.3" y="159.8" font-family="Liberation Sans, sans-serif" font-size="13" fill="#262626">3</text>
<text x="334.3" y="132.4" font-family="Liberation Sans, sans-serif" font-size="13" fill="#262626">4</text>
<text x="334.3" y="105.0" font-family="Liberation Sans, sans-serif" font-size="13" fill="#262626">5</text>
<text transform="translate(366.8,237.2) rotate(-90)" text-anchor="middle" font-family="Liberation Sans, sans-serif" font-size="15.25" fill="#262626">Sea-ice thickness [m]</text>
</g>
</svg>
</body></html>
